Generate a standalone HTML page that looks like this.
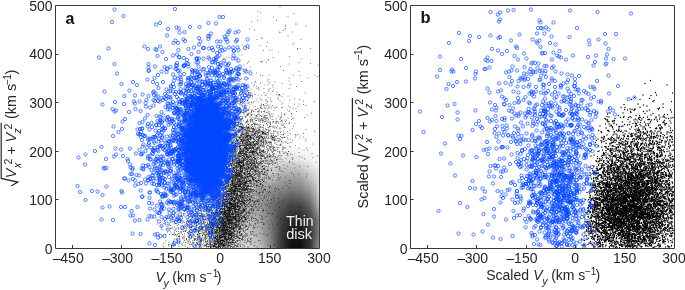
<!DOCTYPE html>
<html><head><meta charset="utf-8"><style>html,body{margin:0;padding:0;background:#fff;width:685px;height:290px;overflow:hidden}svg{display:block;will-change:transform}</style></head><body>
<svg xmlns="http://www.w3.org/2000/svg" width="685" height="290" viewBox="0 0 685 290">
<defs><linearGradient id="r1"><stop offset="0.000" stop-color="#ffffff"/><stop offset="0.082" stop-color="#ffffff"/><stop offset="0.186" stop-color="#ffffff"/><stop offset="0.289" stop-color="#fcfcfc"/><stop offset="0.392" stop-color="#fbfbfb"/><stop offset="0.495" stop-color="#fafafa"/><stop offset="0.598" stop-color="#f9f9f9"/><stop offset="0.701" stop-color="#f9f9f9"/><stop offset="0.804" stop-color="#fafafa"/><stop offset="0.907" stop-color="#fcfcfc"/><stop offset="0.969" stop-color="#fdfdfd"/><stop offset="1.000" stop-color="#ffffff"/></linearGradient><linearGradient id="r2"><stop offset="0.000" stop-color="#ffffff"/><stop offset="0.082" stop-color="#ffffff"/><stop offset="0.186" stop-color="#ffffff"/><stop offset="0.289" stop-color="#fbfbfb"/><stop offset="0.392" stop-color="#f8f8f8"/><stop offset="0.495" stop-color="#f6f6f6"/><stop offset="0.598" stop-color="#f5f5f5"/><stop offset="0.701" stop-color="#f5f5f5"/><stop offset="0.804" stop-color="#f6f6f6"/><stop offset="0.907" stop-color="#fafafa"/><stop offset="0.969" stop-color="#fcfcfc"/><stop offset="1.000" stop-color="#ffffff"/></linearGradient><linearGradient id="r3"><stop offset="0.000" stop-color="#ffffff"/><stop offset="0.082" stop-color="#ffffff"/><stop offset="0.186" stop-color="#ffffff"/><stop offset="0.289" stop-color="#f9f9f9"/><stop offset="0.392" stop-color="#f5f5f5"/><stop offset="0.495" stop-color="#f3f3f3"/><stop offset="0.598" stop-color="#f1f1f1"/><stop offset="0.701" stop-color="#f1f1f1"/><stop offset="0.804" stop-color="#f3f3f3"/><stop offset="0.907" stop-color="#f8f8f8"/><stop offset="0.969" stop-color="#fbfbfb"/><stop offset="1.000" stop-color="#ffffff"/></linearGradient><linearGradient id="r4"><stop offset="0.000" stop-color="#ffffff"/><stop offset="0.082" stop-color="#ffffff"/><stop offset="0.186" stop-color="#ffffff"/><stop offset="0.289" stop-color="#f7f7f7"/><stop offset="0.392" stop-color="#f3f3f3"/><stop offset="0.495" stop-color="#f0f0f0"/><stop offset="0.598" stop-color="#ededed"/><stop offset="0.701" stop-color="#ededed"/><stop offset="0.804" stop-color="#f0f0f0"/><stop offset="0.907" stop-color="#f6f6f6"/><stop offset="0.969" stop-color="#fafafa"/><stop offset="1.000" stop-color="#ffffff"/></linearGradient><linearGradient id="r5"><stop offset="0.000" stop-color="#ffffff"/><stop offset="0.082" stop-color="#ffffff"/><stop offset="0.186" stop-color="#ffffff"/><stop offset="0.289" stop-color="#f6f6f6"/><stop offset="0.392" stop-color="#f0f0f0"/><stop offset="0.495" stop-color="#ececec"/><stop offset="0.598" stop-color="#e9e9e9"/><stop offset="0.701" stop-color="#e9e9e9"/><stop offset="0.804" stop-color="#ececec"/><stop offset="0.907" stop-color="#f4f4f4"/><stop offset="0.969" stop-color="#f9f9f9"/><stop offset="1.000" stop-color="#ffffff"/></linearGradient><linearGradient id="r6"><stop offset="0.000" stop-color="#ffffff"/><stop offset="0.082" stop-color="#ffffff"/><stop offset="0.186" stop-color="#ffffff"/><stop offset="0.289" stop-color="#f4f4f4"/><stop offset="0.392" stop-color="#ededed"/><stop offset="0.495" stop-color="#e9e9e9"/><stop offset="0.598" stop-color="#e4e4e4"/><stop offset="0.701" stop-color="#e4e4e4"/><stop offset="0.804" stop-color="#e9e9e9"/><stop offset="0.907" stop-color="#f2f2f2"/><stop offset="0.969" stop-color="#f8f8f8"/><stop offset="1.000" stop-color="#ffffff"/></linearGradient><linearGradient id="r7"><stop offset="0.000" stop-color="#ffffff"/><stop offset="0.082" stop-color="#ffffff"/><stop offset="0.186" stop-color="#ffffff"/><stop offset="0.289" stop-color="#f2f2f2"/><stop offset="0.392" stop-color="#ebebeb"/><stop offset="0.495" stop-color="#e6e6e6"/><stop offset="0.598" stop-color="#e0e0e0"/><stop offset="0.701" stop-color="#e0e0e0"/><stop offset="0.804" stop-color="#e6e6e6"/><stop offset="0.907" stop-color="#f0f0f0"/><stop offset="0.969" stop-color="#f7f7f7"/><stop offset="1.000" stop-color="#ffffff"/></linearGradient><linearGradient id="r8"><stop offset="0.000" stop-color="#ffffff"/><stop offset="0.082" stop-color="#ffffff"/><stop offset="0.186" stop-color="#fdfdfd"/><stop offset="0.289" stop-color="#efefef"/><stop offset="0.392" stop-color="#e7e7e7"/><stop offset="0.495" stop-color="#e1e1e1"/><stop offset="0.598" stop-color="#dadada"/><stop offset="0.701" stop-color="#d9d9d9"/><stop offset="0.804" stop-color="#dedede"/><stop offset="0.907" stop-color="#ebebeb"/><stop offset="0.969" stop-color="#f3f3f3"/><stop offset="1.000" stop-color="#fcfcfc"/></linearGradient><linearGradient id="r9"><stop offset="0.000" stop-color="#ffffff"/><stop offset="0.082" stop-color="#ffffff"/><stop offset="0.186" stop-color="#fcfcfc"/><stop offset="0.289" stop-color="#ebebeb"/><stop offset="0.392" stop-color="#e2e2e2"/><stop offset="0.495" stop-color="#dddddd"/><stop offset="0.598" stop-color="#d4d4d4"/><stop offset="0.701" stop-color="#d1d1d1"/><stop offset="0.804" stop-color="#d6d6d6"/><stop offset="0.907" stop-color="#e6e6e6"/><stop offset="0.969" stop-color="#efefef"/><stop offset="1.000" stop-color="#f8f8f8"/></linearGradient><linearGradient id="r10"><stop offset="0.000" stop-color="#ffffff"/><stop offset="0.082" stop-color="#ffffff"/><stop offset="0.186" stop-color="#fafafa"/><stop offset="0.289" stop-color="#e8e8e8"/><stop offset="0.392" stop-color="#dedede"/><stop offset="0.495" stop-color="#d9d9d9"/><stop offset="0.598" stop-color="#cecece"/><stop offset="0.701" stop-color="#cacaca"/><stop offset="0.804" stop-color="#cecece"/><stop offset="0.907" stop-color="#e1e1e1"/><stop offset="0.969" stop-color="#ebebeb"/><stop offset="1.000" stop-color="#f5f5f5"/></linearGradient><linearGradient id="r11"><stop offset="0.000" stop-color="#ffffff"/><stop offset="0.082" stop-color="#ffffff"/><stop offset="0.186" stop-color="#f8f8f8"/><stop offset="0.289" stop-color="#e5e5e5"/><stop offset="0.392" stop-color="#dadada"/><stop offset="0.495" stop-color="#d5d5d5"/><stop offset="0.598" stop-color="#c8c8c8"/><stop offset="0.701" stop-color="#c2c2c2"/><stop offset="0.804" stop-color="#c6c6c6"/><stop offset="0.907" stop-color="#dddddd"/><stop offset="0.969" stop-color="#e7e7e7"/><stop offset="1.000" stop-color="#f1f1f1"/></linearGradient><linearGradient id="r12"><stop offset="0.000" stop-color="#ffffff"/><stop offset="0.082" stop-color="#ffffff"/><stop offset="0.186" stop-color="#f6f6f6"/><stop offset="0.289" stop-color="#e1e1e1"/><stop offset="0.392" stop-color="#d6d6d6"/><stop offset="0.495" stop-color="#d1d1d1"/><stop offset="0.598" stop-color="#c2c2c2"/><stop offset="0.701" stop-color="#bbbbbb"/><stop offset="0.804" stop-color="#bebebe"/><stop offset="0.907" stop-color="#d8d8d8"/><stop offset="0.969" stop-color="#e3e3e3"/><stop offset="1.000" stop-color="#eeeeee"/></linearGradient><linearGradient id="r13"><stop offset="0.000" stop-color="#ffffff"/><stop offset="0.082" stop-color="#ffffff"/><stop offset="0.186" stop-color="#f5f5f5"/><stop offset="0.289" stop-color="#dedede"/><stop offset="0.392" stop-color="#d2d2d2"/><stop offset="0.495" stop-color="#cdcdcd"/><stop offset="0.598" stop-color="#bcbcbc"/><stop offset="0.701" stop-color="#b4b4b4"/><stop offset="0.804" stop-color="#b7b7b7"/><stop offset="0.907" stop-color="#d3d3d3"/><stop offset="0.969" stop-color="#dfdfdf"/><stop offset="1.000" stop-color="#ebebeb"/></linearGradient><linearGradient id="r14"><stop offset="0.000" stop-color="#ffffff"/><stop offset="0.082" stop-color="#ffffff"/><stop offset="0.186" stop-color="#f3f3f3"/><stop offset="0.289" stop-color="#dadada"/><stop offset="0.392" stop-color="#cecece"/><stop offset="0.495" stop-color="#c9c9c9"/><stop offset="0.598" stop-color="#b6b6b6"/><stop offset="0.701" stop-color="#acacac"/><stop offset="0.804" stop-color="#afafaf"/><stop offset="0.907" stop-color="#cecece"/><stop offset="0.969" stop-color="#dbdbdb"/><stop offset="1.000" stop-color="#e7e7e7"/></linearGradient><linearGradient id="r15"><stop offset="0.000" stop-color="#ffffff"/><stop offset="0.082" stop-color="#fefefe"/><stop offset="0.186" stop-color="#f1f1f1"/><stop offset="0.289" stop-color="#d7d7d7"/><stop offset="0.392" stop-color="#c9c9c9"/><stop offset="0.495" stop-color="#c3c3c3"/><stop offset="0.598" stop-color="#afafaf"/><stop offset="0.701" stop-color="#a5a5a5"/><stop offset="0.804" stop-color="#a8a8a8"/><stop offset="0.907" stop-color="#c9c9c9"/><stop offset="0.969" stop-color="#d7d7d7"/><stop offset="1.000" stop-color="#e5e5e5"/></linearGradient><linearGradient id="r16"><stop offset="0.000" stop-color="#ffffff"/><stop offset="0.082" stop-color="#fcfcfc"/><stop offset="0.186" stop-color="#ededed"/><stop offset="0.289" stop-color="#d4d4d4"/><stop offset="0.392" stop-color="#c3c3c3"/><stop offset="0.495" stop-color="#bdbdbd"/><stop offset="0.598" stop-color="#a9a9a9"/><stop offset="0.701" stop-color="#9f9f9f"/><stop offset="0.804" stop-color="#a2a2a2"/><stop offset="0.907" stop-color="#c2c2c2"/><stop offset="0.969" stop-color="#d3d3d3"/><stop offset="1.000" stop-color="#e4e4e4"/></linearGradient><linearGradient id="r17"><stop offset="0.000" stop-color="#ffffff"/><stop offset="0.082" stop-color="#fbfbfb"/><stop offset="0.186" stop-color="#eaeaea"/><stop offset="0.289" stop-color="#d0d0d0"/><stop offset="0.392" stop-color="#bebebe"/><stop offset="0.495" stop-color="#b6b6b6"/><stop offset="0.598" stop-color="#a3a3a3"/><stop offset="0.701" stop-color="#989898"/><stop offset="0.804" stop-color="#9c9c9c"/><stop offset="0.907" stop-color="#bbbbbb"/><stop offset="0.969" stop-color="#cfcfcf"/><stop offset="1.000" stop-color="#e3e3e3"/></linearGradient><linearGradient id="r18"><stop offset="0.000" stop-color="#ffffff"/><stop offset="0.082" stop-color="#f9f9f9"/><stop offset="0.186" stop-color="#e6e6e6"/><stop offset="0.289" stop-color="#cdcdcd"/><stop offset="0.392" stop-color="#b8b8b8"/><stop offset="0.495" stop-color="#afafaf"/><stop offset="0.598" stop-color="#9d9d9d"/><stop offset="0.701" stop-color="#929292"/><stop offset="0.804" stop-color="#979797"/><stop offset="0.907" stop-color="#b4b4b4"/><stop offset="0.969" stop-color="#cacaca"/><stop offset="1.000" stop-color="#e2e2e2"/></linearGradient><linearGradient id="r19"><stop offset="0.000" stop-color="#ffffff"/><stop offset="0.082" stop-color="#f7f7f7"/><stop offset="0.186" stop-color="#e3e3e3"/><stop offset="0.289" stop-color="#c9c9c9"/><stop offset="0.392" stop-color="#b2b2b2"/><stop offset="0.495" stop-color="#a8a8a8"/><stop offset="0.598" stop-color="#979797"/><stop offset="0.701" stop-color="#8b8b8b"/><stop offset="0.804" stop-color="#919191"/><stop offset="0.907" stop-color="#adadad"/><stop offset="0.969" stop-color="#c6c6c6"/><stop offset="1.000" stop-color="#e1e1e1"/></linearGradient><linearGradient id="r20"><stop offset="0.000" stop-color="#ffffff"/><stop offset="0.082" stop-color="#f6f6f6"/><stop offset="0.186" stop-color="#e0e0e0"/><stop offset="0.289" stop-color="#c6c6c6"/><stop offset="0.392" stop-color="#acacac"/><stop offset="0.495" stop-color="#a2a2a2"/><stop offset="0.598" stop-color="#919191"/><stop offset="0.701" stop-color="#858585"/><stop offset="0.804" stop-color="#8b8b8b"/><stop offset="0.907" stop-color="#a7a7a7"/><stop offset="0.969" stop-color="#c2c2c2"/><stop offset="1.000" stop-color="#e0e0e0"/></linearGradient><linearGradient id="r21"><stop offset="0.000" stop-color="#ffffff"/><stop offset="0.082" stop-color="#f4f4f4"/><stop offset="0.186" stop-color="#dcdcdc"/><stop offset="0.289" stop-color="#c3c3c3"/><stop offset="0.392" stop-color="#a6a6a6"/><stop offset="0.495" stop-color="#9b9b9b"/><stop offset="0.598" stop-color="#8b8b8b"/><stop offset="0.701" stop-color="#7e7e7e"/><stop offset="0.804" stop-color="#858585"/><stop offset="0.907" stop-color="#a0a0a0"/><stop offset="0.969" stop-color="#bebebe"/><stop offset="1.000" stop-color="#dfdfdf"/></linearGradient><linearGradient id="r22"><stop offset="0.000" stop-color="#ffffff"/><stop offset="0.082" stop-color="#f2f2f2"/><stop offset="0.186" stop-color="#d9d9d9"/><stop offset="0.289" stop-color="#bfbfbf"/><stop offset="0.392" stop-color="#a1a1a1"/><stop offset="0.495" stop-color="#949494"/><stop offset="0.598" stop-color="#858585"/><stop offset="0.701" stop-color="#787878"/><stop offset="0.804" stop-color="#808080"/><stop offset="0.907" stop-color="#999999"/><stop offset="0.969" stop-color="#bababa"/><stop offset="1.000" stop-color="#dedede"/></linearGradient><linearGradient id="r23"><stop offset="0.000" stop-color="#ffffff"/><stop offset="0.082" stop-color="#f1f1f1"/><stop offset="0.186" stop-color="#d6d6d6"/><stop offset="0.289" stop-color="#bebebe"/><stop offset="0.392" stop-color="#a0a0a0"/><stop offset="0.495" stop-color="#909090"/><stop offset="0.598" stop-color="#7f7f7f"/><stop offset="0.701" stop-color="#717171"/><stop offset="0.804" stop-color="#787878"/><stop offset="0.907" stop-color="#929292"/><stop offset="0.969" stop-color="#b6b6b6"/><stop offset="1.000" stop-color="#d9d9d9"/></linearGradient><linearGradient id="r24"><stop offset="0.000" stop-color="#ffffff"/><stop offset="0.082" stop-color="#efefef"/><stop offset="0.186" stop-color="#d4d4d4"/><stop offset="0.289" stop-color="#bcbcbc"/><stop offset="0.392" stop-color="#9f9f9f"/><stop offset="0.495" stop-color="#8c8c8c"/><stop offset="0.598" stop-color="#797979"/><stop offset="0.701" stop-color="#6a6a6a"/><stop offset="0.804" stop-color="#707070"/><stop offset="0.907" stop-color="#8b8b8b"/><stop offset="0.969" stop-color="#b1b1b1"/><stop offset="1.000" stop-color="#d4d4d4"/></linearGradient><linearGradient id="r25"><stop offset="0.000" stop-color="#ffffff"/><stop offset="0.082" stop-color="#ededed"/><stop offset="0.186" stop-color="#d2d2d2"/><stop offset="0.289" stop-color="#bababa"/><stop offset="0.392" stop-color="#9e9e9e"/><stop offset="0.495" stop-color="#898989"/><stop offset="0.598" stop-color="#737373"/><stop offset="0.701" stop-color="#636363"/><stop offset="0.804" stop-color="#686868"/><stop offset="0.907" stop-color="#858585"/><stop offset="0.969" stop-color="#adadad"/><stop offset="1.000" stop-color="#d0d0d0"/></linearGradient><linearGradient id="r26"><stop offset="0.000" stop-color="#ffffff"/><stop offset="0.082" stop-color="#ebebeb"/><stop offset="0.186" stop-color="#cfcfcf"/><stop offset="0.289" stop-color="#b8b8b8"/><stop offset="0.392" stop-color="#9d9d9d"/><stop offset="0.495" stop-color="#858585"/><stop offset="0.598" stop-color="#6d6d6d"/><stop offset="0.701" stop-color="#5d5d5d"/><stop offset="0.804" stop-color="#606060"/><stop offset="0.907" stop-color="#7e7e7e"/><stop offset="0.969" stop-color="#a8a8a8"/><stop offset="1.000" stop-color="#cbcbcb"/></linearGradient><linearGradient id="r27"><stop offset="0.000" stop-color="#ffffff"/><stop offset="0.082" stop-color="#eaeaea"/><stop offset="0.186" stop-color="#cdcdcd"/><stop offset="0.289" stop-color="#b7b7b7"/><stop offset="0.392" stop-color="#9c9c9c"/><stop offset="0.495" stop-color="#818181"/><stop offset="0.598" stop-color="#686868"/><stop offset="0.701" stop-color="#565656"/><stop offset="0.804" stop-color="#585858"/><stop offset="0.907" stop-color="#777777"/><stop offset="0.969" stop-color="#a4a4a4"/><stop offset="1.000" stop-color="#c6c6c6"/></linearGradient><linearGradient id="r28"><stop offset="0.000" stop-color="#ffffff"/><stop offset="0.082" stop-color="#e8e8e8"/><stop offset="0.186" stop-color="#cacaca"/><stop offset="0.289" stop-color="#b5b5b5"/><stop offset="0.392" stop-color="#9b9b9b"/><stop offset="0.495" stop-color="#7d7d7d"/><stop offset="0.598" stop-color="#626262"/><stop offset="0.701" stop-color="#4f4f4f"/><stop offset="0.804" stop-color="#515151"/><stop offset="0.907" stop-color="#707070"/><stop offset="0.969" stop-color="#a0a0a0"/><stop offset="1.000" stop-color="#c1c1c1"/></linearGradient><linearGradient id="r29"><stop offset="0.000" stop-color="#ffffff"/><stop offset="0.082" stop-color="#e6e6e6"/><stop offset="0.186" stop-color="#c8c8c8"/><stop offset="0.289" stop-color="#b3b3b3"/><stop offset="0.392" stop-color="#9a9a9a"/><stop offset="0.495" stop-color="#7a7a7a"/><stop offset="0.598" stop-color="#5c5c5c"/><stop offset="0.701" stop-color="#484848"/><stop offset="0.804" stop-color="#494949"/><stop offset="0.907" stop-color="#696969"/><stop offset="0.969" stop-color="#9b9b9b"/><stop offset="1.000" stop-color="#bdbdbd"/></linearGradient><linearGradient id="r30"><stop offset="0.000" stop-color="#fefefe"/><stop offset="0.082" stop-color="#e4e4e4"/><stop offset="0.186" stop-color="#c7c7c7"/><stop offset="0.289" stop-color="#b3b3b3"/><stop offset="0.392" stop-color="#9a9a9a"/><stop offset="0.495" stop-color="#787878"/><stop offset="0.598" stop-color="#585858"/><stop offset="0.701" stop-color="#434343"/><stop offset="0.804" stop-color="#434343"/><stop offset="0.907" stop-color="#636363"/><stop offset="0.969" stop-color="#969696"/><stop offset="1.000" stop-color="#b7b7b7"/></linearGradient><linearGradient id="r31"><stop offset="0.000" stop-color="#fcfcfc"/><stop offset="0.082" stop-color="#e1e1e1"/><stop offset="0.186" stop-color="#c6c6c6"/><stop offset="0.289" stop-color="#b4b4b4"/><stop offset="0.392" stop-color="#9c9c9c"/><stop offset="0.495" stop-color="#797979"/><stop offset="0.598" stop-color="#565656"/><stop offset="0.701" stop-color="#3f3f3f"/><stop offset="0.804" stop-color="#3e3e3e"/><stop offset="0.907" stop-color="#5e5e5e"/><stop offset="0.969" stop-color="#8f8f8f"/><stop offset="1.000" stop-color="#b0b0b0"/></linearGradient><linearGradient id="r32"><stop offset="0.000" stop-color="#fbfbfb"/><stop offset="0.082" stop-color="#dfdfdf"/><stop offset="0.186" stop-color="#c6c6c6"/><stop offset="0.289" stop-color="#b5b5b5"/><stop offset="0.392" stop-color="#9d9d9d"/><stop offset="0.495" stop-color="#7a7a7a"/><stop offset="0.598" stop-color="#535353"/><stop offset="0.701" stop-color="#3c3c3c"/><stop offset="0.804" stop-color="#3a3a3a"/><stop offset="0.907" stop-color="#595959"/><stop offset="0.969" stop-color="#888888"/><stop offset="1.000" stop-color="#a9a9a9"/></linearGradient><linearGradient id="r33"><stop offset="0.000" stop-color="#f9f9f9"/><stop offset="0.082" stop-color="#dcdcdc"/><stop offset="0.186" stop-color="#c6c6c6"/><stop offset="0.289" stop-color="#b6b6b6"/><stop offset="0.392" stop-color="#9f9f9f"/><stop offset="0.495" stop-color="#7b7b7b"/><stop offset="0.598" stop-color="#515151"/><stop offset="0.701" stop-color="#383838"/><stop offset="0.804" stop-color="#353535"/><stop offset="0.907" stop-color="#545454"/><stop offset="0.969" stop-color="#818181"/><stop offset="1.000" stop-color="#a2a2a2"/></linearGradient><linearGradient id="r34"><stop offset="0.000" stop-color="#f7f7f7"/><stop offset="0.082" stop-color="#d9d9d9"/><stop offset="0.186" stop-color="#c5c5c5"/><stop offset="0.289" stop-color="#b7b7b7"/><stop offset="0.392" stop-color="#a1a1a1"/><stop offset="0.495" stop-color="#7c7c7c"/><stop offset="0.598" stop-color="#4f4f4f"/><stop offset="0.701" stop-color="#343434"/><stop offset="0.804" stop-color="#313131"/><stop offset="0.907" stop-color="#4f4f4f"/><stop offset="0.969" stop-color="#7a7a7a"/><stop offset="1.000" stop-color="#9c9c9c"/></linearGradient><linearGradient id="r35"><stop offset="0.000" stop-color="#f6f6f6"/><stop offset="0.082" stop-color="#d7d7d7"/><stop offset="0.186" stop-color="#c5c5c5"/><stop offset="0.289" stop-color="#b8b8b8"/><stop offset="0.392" stop-color="#a2a2a2"/><stop offset="0.495" stop-color="#7d7d7d"/><stop offset="0.598" stop-color="#4c4c4c"/><stop offset="0.701" stop-color="#303030"/><stop offset="0.804" stop-color="#2d2d2d"/><stop offset="0.907" stop-color="#4a4a4a"/><stop offset="0.969" stop-color="#747474"/><stop offset="1.000" stop-color="#959595"/></linearGradient><linearGradient id="r36"><stop offset="0.000" stop-color="#f4f4f4"/><stop offset="0.082" stop-color="#d4d4d4"/><stop offset="0.186" stop-color="#c5c5c5"/><stop offset="0.289" stop-color="#b9b9b9"/><stop offset="0.392" stop-color="#a4a4a4"/><stop offset="0.495" stop-color="#7e7e7e"/><stop offset="0.598" stop-color="#4a4a4a"/><stop offset="0.701" stop-color="#2d2d2d"/><stop offset="0.804" stop-color="#282828"/><stop offset="0.907" stop-color="#454545"/><stop offset="0.969" stop-color="#6d6d6d"/><stop offset="1.000" stop-color="#8e8e8e"/></linearGradient><linearGradient id="r37"><stop offset="0.000" stop-color="#f2f2f2"/><stop offset="0.082" stop-color="#d1d1d1"/><stop offset="0.186" stop-color="#c4c4c4"/><stop offset="0.289" stop-color="#bababa"/><stop offset="0.392" stop-color="#a6a6a6"/><stop offset="0.495" stop-color="#808080"/><stop offset="0.598" stop-color="#474747"/><stop offset="0.701" stop-color="#292929"/><stop offset="0.804" stop-color="#242424"/><stop offset="0.907" stop-color="#404040"/><stop offset="0.969" stop-color="#666666"/><stop offset="1.000" stop-color="#878787"/></linearGradient><linearGradient id="r38"><stop offset="0.000" stop-color="#f1f1f1"/><stop offset="0.082" stop-color="#d2d2d2"/><stop offset="0.186" stop-color="#c6c6c6"/><stop offset="0.289" stop-color="#bcbcbc"/><stop offset="0.392" stop-color="#a6a6a6"/><stop offset="0.495" stop-color="#808080"/><stop offset="0.598" stop-color="#464646"/><stop offset="0.701" stop-color="#272727"/><stop offset="0.804" stop-color="#222222"/><stop offset="0.907" stop-color="#3e3e3e"/><stop offset="0.969" stop-color="#666666"/><stop offset="1.000" stop-color="#868686"/></linearGradient><linearGradient id="r39"><stop offset="0.000" stop-color="#f0f0f0"/><stop offset="0.082" stop-color="#d3d3d3"/><stop offset="0.186" stop-color="#c8c8c8"/><stop offset="0.289" stop-color="#bebebe"/><stop offset="0.392" stop-color="#a7a7a7"/><stop offset="0.495" stop-color="#808080"/><stop offset="0.598" stop-color="#454545"/><stop offset="0.701" stop-color="#252525"/><stop offset="0.804" stop-color="#202020"/><stop offset="0.907" stop-color="#3c3c3c"/><stop offset="0.969" stop-color="#666666"/><stop offset="1.000" stop-color="#858585"/></linearGradient><linearGradient id="r40"><stop offset="0.000" stop-color="#efefef"/><stop offset="0.082" stop-color="#d4d4d4"/><stop offset="0.186" stop-color="#c9c9c9"/><stop offset="0.289" stop-color="#bfbfbf"/><stop offset="0.392" stop-color="#a8a8a8"/><stop offset="0.495" stop-color="#808080"/><stop offset="0.598" stop-color="#444444"/><stop offset="0.701" stop-color="#232323"/><stop offset="0.804" stop-color="#1e1e1e"/><stop offset="0.907" stop-color="#3b3b3b"/><stop offset="0.969" stop-color="#666666"/><stop offset="1.000" stop-color="#848484"/></linearGradient><linearGradient id="r41"><stop offset="0.000" stop-color="#eeeeee"/><stop offset="0.082" stop-color="#d5d5d5"/><stop offset="0.186" stop-color="#cbcbcb"/><stop offset="0.289" stop-color="#c1c1c1"/><stop offset="0.392" stop-color="#a8a8a8"/><stop offset="0.495" stop-color="#808080"/><stop offset="0.598" stop-color="#434343"/><stop offset="0.701" stop-color="#212121"/><stop offset="0.804" stop-color="#1c1c1c"/><stop offset="0.907" stop-color="#393939"/><stop offset="0.969" stop-color="#666666"/><stop offset="1.000" stop-color="#838383"/></linearGradient><linearGradient id="r42"><stop offset="0.000" stop-color="#ededed"/><stop offset="0.082" stop-color="#d6d6d6"/><stop offset="0.186" stop-color="#cdcdcd"/><stop offset="0.289" stop-color="#c3c3c3"/><stop offset="0.392" stop-color="#a9a9a9"/><stop offset="0.495" stop-color="#808080"/><stop offset="0.598" stop-color="#424242"/><stop offset="0.701" stop-color="#1f1f1f"/><stop offset="0.804" stop-color="#1a1a1a"/><stop offset="0.907" stop-color="#373737"/><stop offset="0.969" stop-color="#666666"/><stop offset="1.000" stop-color="#828282"/></linearGradient><linearGradient id="r43"><stop offset="0.000" stop-color="#ececec"/><stop offset="0.082" stop-color="#d7d7d7"/><stop offset="0.186" stop-color="#cfcfcf"/><stop offset="0.289" stop-color="#c4c4c4"/><stop offset="0.392" stop-color="#aaaaaa"/><stop offset="0.495" stop-color="#808080"/><stop offset="0.598" stop-color="#414141"/><stop offset="0.701" stop-color="#1d1d1d"/><stop offset="0.804" stop-color="#171717"/><stop offset="0.907" stop-color="#363636"/><stop offset="0.969" stop-color="#666666"/><stop offset="1.000" stop-color="#818181"/></linearGradient><linearGradient id="r44"><stop offset="0.000" stop-color="#ebebeb"/><stop offset="0.082" stop-color="#d8d8d8"/><stop offset="0.186" stop-color="#d0d0d0"/><stop offset="0.289" stop-color="#c6c6c6"/><stop offset="0.392" stop-color="#ababab"/><stop offset="0.495" stop-color="#808080"/><stop offset="0.598" stop-color="#404040"/><stop offset="0.701" stop-color="#1b1b1b"/><stop offset="0.804" stop-color="#151515"/><stop offset="0.907" stop-color="#343434"/><stop offset="0.969" stop-color="#666666"/><stop offset="1.000" stop-color="#808080"/></linearGradient><linearGradient id="r45"><stop offset="0.000" stop-color="#ebebeb"/><stop offset="0.082" stop-color="#d9d9d9"/><stop offset="0.186" stop-color="#d2d2d2"/><stop offset="0.289" stop-color="#c8c8c8"/><stop offset="0.392" stop-color="#acacac"/><stop offset="0.495" stop-color="#808080"/><stop offset="0.598" stop-color="#404040"/><stop offset="0.701" stop-color="#191919"/><stop offset="0.804" stop-color="#141414"/><stop offset="0.907" stop-color="#333333"/><stop offset="0.969" stop-color="#676767"/><stop offset="1.000" stop-color="#808080"/></linearGradient><linearGradient id="r46"><stop offset="0.000" stop-color="#ebebeb"/><stop offset="0.082" stop-color="#dbdbdb"/><stop offset="0.186" stop-color="#d3d3d3"/><stop offset="0.289" stop-color="#cacaca"/><stop offset="0.392" stop-color="#b0b0b0"/><stop offset="0.495" stop-color="#828282"/><stop offset="0.598" stop-color="#404040"/><stop offset="0.701" stop-color="#181818"/><stop offset="0.804" stop-color="#121212"/><stop offset="0.907" stop-color="#333333"/><stop offset="0.969" stop-color="#696969"/><stop offset="1.000" stop-color="#828282"/></linearGradient><linearGradient id="r47"><stop offset="0.000" stop-color="#ebebeb"/><stop offset="0.082" stop-color="#dcdcdc"/><stop offset="0.186" stop-color="#d4d4d4"/><stop offset="0.289" stop-color="#cdcdcd"/><stop offset="0.392" stop-color="#b3b3b3"/><stop offset="0.495" stop-color="#848484"/><stop offset="0.598" stop-color="#404040"/><stop offset="0.701" stop-color="#171717"/><stop offset="0.804" stop-color="#101010"/><stop offset="0.907" stop-color="#333333"/><stop offset="0.969" stop-color="#6b6b6b"/><stop offset="1.000" stop-color="#848484"/></linearGradient><linearGradient id="r48"><stop offset="0.000" stop-color="#ebebeb"/><stop offset="0.082" stop-color="#dddddd"/><stop offset="0.186" stop-color="#d5d5d5"/><stop offset="0.289" stop-color="#cfcfcf"/><stop offset="0.392" stop-color="#b6b6b6"/><stop offset="0.495" stop-color="#868686"/><stop offset="0.598" stop-color="#404040"/><stop offset="0.701" stop-color="#151515"/><stop offset="0.804" stop-color="#0f0f0f"/><stop offset="0.907" stop-color="#333333"/><stop offset="0.969" stop-color="#6d6d6d"/><stop offset="1.000" stop-color="#868686"/></linearGradient><linearGradient id="r49"><stop offset="0.000" stop-color="#ebebeb"/><stop offset="0.082" stop-color="#dedede"/><stop offset="0.186" stop-color="#d6d6d6"/><stop offset="0.289" stop-color="#d1d1d1"/><stop offset="0.392" stop-color="#b9b9b9"/><stop offset="0.495" stop-color="#888888"/><stop offset="0.598" stop-color="#404040"/><stop offset="0.701" stop-color="#141414"/><stop offset="0.804" stop-color="#0d0d0d"/><stop offset="0.907" stop-color="#333333"/><stop offset="0.969" stop-color="#6f6f6f"/><stop offset="1.000" stop-color="#888888"/></linearGradient><linearGradient id="r50"><stop offset="0.000" stop-color="#ebebeb"/><stop offset="0.082" stop-color="#dfdfdf"/><stop offset="0.186" stop-color="#d8d8d8"/><stop offset="0.289" stop-color="#d4d4d4"/><stop offset="0.392" stop-color="#bcbcbc"/><stop offset="0.495" stop-color="#8a8a8a"/><stop offset="0.598" stop-color="#404040"/><stop offset="0.701" stop-color="#131313"/><stop offset="0.804" stop-color="#0c0c0c"/><stop offset="0.907" stop-color="#333333"/><stop offset="0.969" stop-color="#717171"/><stop offset="1.000" stop-color="#8a8a8a"/></linearGradient><linearGradient id="r51"><stop offset="0.000" stop-color="#ebebeb"/><stop offset="0.082" stop-color="#e0e0e0"/><stop offset="0.186" stop-color="#d9d9d9"/><stop offset="0.289" stop-color="#d6d6d6"/><stop offset="0.392" stop-color="#bfbfbf"/><stop offset="0.495" stop-color="#8c8c8c"/><stop offset="0.598" stop-color="#404040"/><stop offset="0.701" stop-color="#121212"/><stop offset="0.804" stop-color="#0a0a0a"/><stop offset="0.907" stop-color="#333333"/><stop offset="0.969" stop-color="#737373"/><stop offset="1.000" stop-color="#8c8c8c"/></linearGradient><marker id="mc" markerUnits="userSpaceOnUse" markerWidth="1" markerHeight="1" overflow="visible"><circle r="3.3" fill="none" stroke="#0046ff" stroke-width="1.3"/></marker><marker id="md" markerUnits="userSpaceOnUse" markerWidth="1" markerHeight="1" overflow="visible"><circle r="0.9" fill="#000"/></marker><marker id="me" markerUnits="userSpaceOnUse" markerWidth="1" markerHeight="1" overflow="visible"><circle r="1.4" fill="#000" shape-rendering="auto"/></marker><filter id="bl" x="-50%" y="-50%" width="200%" height="200%"><feGaussianBlur stdDeviation="5"/></filter><clipPath id="cc"><path d="M0 0L243 0L243 90L232 135L215 217L208 248L0 248Z"/></clipPath></defs><rect x="222" y="147" width="97" height="2" fill="url(#r1)"/><rect x="222" y="149" width="97" height="2" fill="url(#r2)"/><rect x="222" y="151" width="97" height="2" fill="url(#r3)"/><rect x="222" y="153" width="97" height="2" fill="url(#r4)"/><rect x="222" y="155" width="97" height="2" fill="url(#r5)"/><rect x="222" y="157" width="97" height="2" fill="url(#r6)"/><rect x="222" y="159" width="97" height="2" fill="url(#r7)"/><rect x="222" y="161" width="97" height="2" fill="url(#r8)"/><rect x="222" y="163" width="97" height="2" fill="url(#r9)"/><rect x="222" y="165" width="97" height="2" fill="url(#r10)"/><rect x="222" y="167" width="97" height="2" fill="url(#r11)"/><rect x="222" y="169" width="97" height="2" fill="url(#r12)"/><rect x="222" y="171" width="97" height="2" fill="url(#r13)"/><rect x="222" y="173" width="97" height="2" fill="url(#r14)"/><rect x="222" y="175" width="97" height="2" fill="url(#r15)"/><rect x="222" y="177" width="97" height="2" fill="url(#r16)"/><rect x="222" y="179" width="97" height="2" fill="url(#r17)"/><rect x="222" y="181" width="97" height="2" fill="url(#r18)"/><rect x="222" y="183" width="97" height="2" fill="url(#r19)"/><rect x="222" y="185" width="97" height="2" fill="url(#r20)"/><rect x="222" y="187" width="97" height="2" fill="url(#r21)"/><rect x="222" y="189" width="97" height="2" fill="url(#r22)"/><rect x="222" y="191" width="97" height="2" fill="url(#r23)"/><rect x="222" y="193" width="97" height="2" fill="url(#r24)"/><rect x="222" y="195" width="97" height="2" fill="url(#r25)"/><rect x="222" y="197" width="97" height="2" fill="url(#r26)"/><rect x="222" y="199" width="97" height="2" fill="url(#r27)"/><rect x="222" y="201" width="97" height="2" fill="url(#r28)"/><rect x="222" y="203" width="97" height="2" fill="url(#r29)"/><rect x="222" y="205" width="97" height="2" fill="url(#r30)"/><rect x="222" y="207" width="97" height="2" fill="url(#r31)"/><rect x="222" y="209" width="97" height="2" fill="url(#r32)"/><rect x="222" y="211" width="97" height="2" fill="url(#r33)"/><rect x="222" y="213" width="97" height="2" fill="url(#r34)"/><rect x="222" y="215" width="97" height="2" fill="url(#r35)"/><rect x="222" y="217" width="97" height="2" fill="url(#r36)"/><rect x="222" y="219" width="97" height="2" fill="url(#r37)"/><rect x="222" y="221" width="97" height="2" fill="url(#r38)"/><rect x="222" y="223" width="97" height="2" fill="url(#r39)"/><rect x="222" y="225" width="97" height="2" fill="url(#r40)"/><rect x="222" y="227" width="97" height="2" fill="url(#r41)"/><rect x="222" y="229" width="97" height="2" fill="url(#r42)"/><rect x="222" y="231" width="97" height="2" fill="url(#r43)"/><rect x="222" y="233" width="97" height="2" fill="url(#r44)"/><rect x="222" y="235" width="97" height="2" fill="url(#r45)"/><rect x="222" y="237" width="97" height="2" fill="url(#r46)"/><rect x="222" y="239" width="97" height="2" fill="url(#r47)"/><rect x="222" y="241" width="97" height="2" fill="url(#r48)"/><rect x="222" y="243" width="97" height="2" fill="url(#r49)"/><rect x="222" y="245" width="97" height="2" fill="url(#r50)"/><rect x="222" y="247" width="97" height="2" fill="url(#r51)"/><g><g transform="scale(0.5)"><path d="M506 358 450 437 456 421 478 363 453 435 536 255 489 434 463 332 479 330 557 397 438 409 471 431 450 463 470 414 412 416 491 437 432 472 479 471 441 444 491 385 564 292 444 464 475 394 465 381 455 437 486 322 460 439 516 306 469 449 445 429 422 391 483 411 470 415 500 379 471 438 471 474 494 359 537 329 520 346 489 394 446 428 500 372 489 357 478 452 511 335 456 437 492 330 458 372 585 326 416 453 492 351 452 424 576 307 484 332 488 431 399 393 473 418 459 445 437 455 466 452 448 452 443 453 442 436 492 429 449 450 446 480 488 379 453 385 475 379 496 335 515 328 438 482 427 409 455 460 450 327 499 353 462 447 439 410 463 445 442 429 444 459 501 361 467 429 560 318 458 393 448 438 452 449 500 398 440 455 431 476 427 389 410 442 560 290 504 306 475 367 469 387 516 254 465 379 538 292 471 377 492 365 469 433 445 401 481 372 463 398 456 475 419 360 429 397 453 391 462 422 481 356 492 371 505 314 572 317 478 405 473 334 506 302 581 294 482 356 501 340 525 347 449 454 462 471 456 462 511 344 544 389 459 400 485 424 472 440 473 438 488 380 435 431 471 400 448 450 473 419 471 376 579 326 459 469 524 333 471 436 469 472 484 360 464 460 419 431 435 426 475 464 472 449 459 355 483 436 436 488 477 437 465 360 421 419 519 304 459 481 469 383 441 456 458 413 506 395 499 388 447 424 466 429 470 446 494 386 445 374 478 390 529 379 492 470 444 356 481 453 504 342 485 395 456 366 483 310 478 416 470 379 454 412 519 301 489 349 439 390 489 422 490 407 420 445 424 408 526 276 493 357 439 421 463 444 499 325 454 451 456 415 437 413 458 467 473 432 456 410 503 328 461 435 419 482 480 428 471 422 422 444 501 338 467 447 425 408 431 440 441 454 467 417 477 429 517 354 466 412 471 440 544 430 439 427 482 356 492 430 486 420 449 432 476 487 457 319 499 356 485 416 429 453 490 329 471 368 416 431 493 324 432 384 460 422 460 381 455 435 466 399 455 442 503 395 462 448 460 422 485 433 500 393 506 321 472 444 427 452 459 417 462 426 456 441 436 448 459 467 500 377 439 439 444 423 494 401 497 282 442 393 463 472 474 433 485 378 471 380 479 413 488 358 476 430 399 426 457 390 464 438 443 388 415 442 480 416 484 385 451 373 440 397 525 310 475 472 493 400 472 397 427 457 488 434 457 387 434 361 510 313 445 423 485 426 458 349 462 435 500 400 456 423 535 297 476 438 509 293 463 362 408 415 445 414 478 373 492 401 477 443 477 377 481 374 497 332 464 464 484 367 453 447 491 364 428 455 542 336 492 435 430 389 488 363 400 473 445 442 485 426 437 479 494 345 484 387 480 391 486 451 439 477 529 395 489 429 479 380 462 354 459 389 431 459 478 447 421 390 467 394 512 363 473 398 503 350 500 331 517 400 460 418 458 421 520 391 452 457 495 373 471 423 536 339 488 345 493 441 446 441 539 308 525 369 471 402 479 401 443 461 506 306 507 337 551 326 443 427 449 479 509 302 448 369 434 450 458 477 482 356 467 414 452 459 423 455 453 410 626 315 449 442 462 478 459 416 461 341 467 374 463 476 486 433 466 412 515 371 485 366 446 454 506 338 577 303 492 401 449 355 460 413 529 339 463 475 435 455 467 386 489 294 440 443 451 374 465 363 482 410 491 334 462 414 423 346 464 324 478 476 446 385 468 432 485 379 456 455 477 370 458 379 516 282 465 481 436 447 456 421 509 325 517 310 508 355 443 436 451 384 434 405 477 351 468 474 440 388 483 468 482 423 475 413 476 413 443 426 474 349 454 479 420 449 471 365 460 361 477 321 402 407 517 409 470 420 436 445 441 328 481 391 485 355 599 333 444 424 472 454 441 416 525 334 468 445 482 439 448 384 506 387 439 396 420 403 477 432 494 344 448 437 464 391 436 429 426 425 442 437 485 336 459 429 473 396 474 368 474 405 494 378 470 372 468 388 434 417 439 381 502 326 452 393 566 343 473 481 430 392 475 368 418 390 498 346 525 320 433 415 446 406 462 422 489 405 450 455 449 412 472 416 488 331 438 456 469 383 461 398 486 298 443 425 452 325 453 447 429 428 482 352 498 384 471 424 483 327 439 383 466 386 459 470 481 370 438 454 444 460 420 450 462 398 484 395 458 428 478 453 471 406 456 489 565 299 471 410 450 491 439 416 467 382 468 414 475 424 467 380 501 379 480 357 450 434 463 441 468 489 474 355 467 387 509 343 423 383 503 364 480 466 524 434 472 434 480 396 518 392 474 410 450 451 436 425 476 340 462 415 417 480 499 446 466 341 513 380 500 348 464 418 418 477 434 438 454 415 480 402 453 426 499 361 440 328 500 384 451 472 494 414 439 406 485 420 436 330 494 377 499 384 402 427 498 309 531 373 463 376 437 438 481 413 485 372 477 363 460 399 528 331 482 424 536 313 474 301 502 373 534 316 456 431 451 329 480 397 488 376 436 470 455 440 484 306 490 381 489 331 495 399 450 466 510 288 440 422 474 443 489 411 463 391 450 415 466 370 609 318 529 304 533 333 479 424 514 346 490 388 506 309 491 372 480 364 550 300 527 384 497 363 458 351 526 308 479 425 513 338 423 456 535 470 482 369 476 401 431 344 465 453 476 449 455 394 448 398 454 462 516 358 477 406 474 380 445 451 434 468 509 279 421 444 447 426 475 326 462 375 570 304 420 436 441 452 450 431 491 422 468 362 485 394 458 436 508 359 438 361 511 356 509 369 514 370 515 307 437 447 492 380 436 386 424 455 469 382 445 446 464 384 460 440 469 371 501 341 515 333 460 468 558 311 446 419 483 304 506 325 455 461 414 346 422 406 477 347 430 437 514 375 518 338 496 357 438 455 478 402 436 462 452 311 478 372 491 453 549 378 447 390 470 391 525 310 456 438 474 303 478 442 469 409 542 375 467 437 495 342 480 363 382 368 470 359 525 365 554 324 449 468 479 345 441 438 545 279 448 438 461 445 462 420 453 450 468 464 511 333 489 388 483 310 481 391 498 315 471 415 474 368 496 386 527 324 429 437 492 450 461 421 439 456 471 439 473 339 447 431 477 445 439 422 558 295 453 411 426 415 432 281 490 340 481 372 462 411 444 442 446 466 456 427 470 403 437 451 462 379 452 353 458 471 463 459 489 406 452 393 516 387 478 422 490 409 514 326 449 469 469 436 470 373 434 417 541 313 488 449 472 431 463 381 421 356 501 347 459 332 472 443 448 452 480 344 502 420 477 426 479 464 442 417 461 429 465 396 473 443 412 392 505 356 479 408 476 402 428 347 471 374 448 417 486 422 554 361 449 405 456 362 377 351 438 464 480 427 439 385 517 403 460 406 443 423 474 435 454 438 456 415 522 347 501 342 451 422 467 467 449 429 450 477 471 409 488 462 438 417 492 396 492 469 446 444 525 359 441 429 455 359 436 409 490 382 473 423 433 452 491 402 520 368 483 479 464 428 455 424 524 360 471 463 455 364 401 441 471 348 442 416 463 409 441 361 457 485 469 385 487 396 532 320 477 464 466 471 491 287 467 435 574 307 477 369 486 479 481 368 460 370 462 470 471 362 469 463 424 422 443 412 462 390 483 420 477 398 470 382 516 319 466 403 458 458 515 299 426 379 508 397 525 342 449 454 463 412 454 459 410 423 516 386 449 425 576 271 449 417 517 360 479 393 437 385 468 403 489 443 508 340 453 459 490 444 436 388 470 434 439 399 457 472 446 435 508 371 421 366 454 384 440 466 403 426 480 361 527 300 495 391 485 373 472 398 439 399 401 411 432 454 432 432 452 410 508 322 461 370 518 358 523 311 489 361 418 406 483 427 550 335 465 423 497 373 442 436 464 408 466 360 452 436 472 376 466 378 477 474 445 378 420 409 479 347 508 408 490 431 482 374 471 382 512 426 460 377 481 415 445 404 446 430 459 431 452 446 598 296 488 407 467 362 424 381 476 402 481 346 477 383 580 362 560 258 468 365 509 351 491 416 455 372 437 408 446 358 495 379 462 414 418 492 466 446 453 414 464 428 473 409 482 439 480 306 519 310 507 347 414 413 489 407 474 429 429 401 477 370 476 381 455 421 523 283 517 341 535 326 459 426 556 319 441 443 474 389 437 466 490 369 540 310 459 390 489 381 463 456 461 434 469 400 452 467 460 433 449 433 477 411 553 335 460 418 464 398 466 358 525 344 541 319 466 444 471 438 442 403 437 400 497 413 503 417 504 304 487 375 480 351 441 444 457 466 477 441 502 435 537 326 524 373 457 476 469 336 469 411 534 470 471 417 545 360 462 407 489 380 451 418 454 436 487 422 504 403 466 423 471 380 481 452 471 396 482 308 478 404 459 415 508 448 468 401 481 342 462 377 451 365 522 313 411 364 490 415 519 344 494 384 462 471 462 442 449 387 453 436 540 372 429 482 522 338 443 370 481 390 472 412 462 386 433 461 541 358 465 407 449 460 470 373 475 389 451 379 530 323 441 425 475 392 522 314 501 397 465 485 483 381 461 425 463 458 470 433 465 354 481 403 479 365 474 389 494 411 534 327 468 427 433 405 447 453 459 383 444 440 458 345 441 424 486 401 494 299 454 377 451 394 513 383 461 379 468 380 519 402 481 332 489 365 473 395 529 391 518 348 563 342 499 304 490 439 457 445 443 416 435 356 482 337 471 412 474 430 483 356 476 397 489 376 483 354 444 450 533 356 450 377 544 325 508 437 480 392 456 406 477 406 464 440 456 441 481 455 461 478 569 365 480 347 430 443 450 408 476 309 441 468 485 440 548 321 445 449 523 308 483 390 468 395 416 438 449 438 502 412 487 372 539 329 546 330 482 387 483 404 445 436 506 346 485 437 486 292 459 427 412 485 459 429 446 391 468 462 507 351 471 413 443 449 481 369 465 337 431 420 462 349 515 446 399 410 529 346 467 403 467 373 461 438 517 361 498 437 453 357 540 314 406 417 506 413 487 461 470 424 475 382 476 394 489 419 451 408 513 340 429 381 475 444 446 437 505 290 436 444 488 399 494 337 438 457 514 249 451 475 459 408 457 458 446 441 394 407 392 427 462 393 441 456 488 400 470 432 432 425 492 314 482 372 521 354 429 451 452 423 505 359 492 327 488 348 500 324 555 303 464 471 467 429 455 405 465 425 458 368 481 363 466 383 476 359 462 436 471 433 450 451 500 373 471 445 518 408 452 449 435 473 452 340 568 247 458 455 443 422 454 492 462 417 458 418 441 418 495 380 450 466 455 434 471 245 513 362 450 351 486 286 468 470 497 382 509 404 476 357 502 420 458 468 463 487 469 356 423 432 448 421 439 459 443 451 507 331 403 379 425 478 450 416 552 300 490 454 520 376 463 418 479 403 439 407 454 418 465 433 507 291 475 383 431 471 532 342 450 459 432 428 480 422 483 352 472 399 424 464 485 402 472 346 483 457 455 416 453 474 488 403 483 375 473 441 472 411 461 415 446 489 448 409 499 361 495 332 520 372 508 346 515 362 486 420 466 369 448 433 503 413 433 427 438 360 469 381 423 402 492 366 453 481 475 374 488 405 500 388 454 427 469 433 478 328 478 359 445 426 464 421 454 461 451 478 481 416 438 478 442 417 497 348 430 474 382 427 500 394 478 434 431 426 460 465 500 352 463 396 485 367 474 367 472 428 473 391 491 438 547 347 481 366 442 391 471 379 464 409 455 410 511 330 447 336 455 300 436 485 520 291 486 364 431 427 509 298 468 468 558 359 444 465 456 394 465 479 507 379 477 454 452 448 477 458 493 289 433 459 453 468 456 387 486 337 462 470 500 418 458 397 482 384 460 456 434 405 470 415 494 353 482 358 481 335 466 440 507 338 470 371 457 442 482 470 463 475 530 309 476 457 446 460 480 348 455 352 416 437 502 379 416 401 495 333 338 450 464 432 468 397 523 280 476 348 490 396 455 438 544 303 484 390 425 449 412 491 469 382 464 387 449 457 460 393 515 342 484 480 443 433 496 472 497 353 466 441 476 382 465 344 491 409 476 390 454 366 496 321 419 422 499 340 480 442 421 324 482 406 447 320 465 420 460 450 502 330 483 352 468 351 467 374 471 425 466 411 482 369 432 448 473 333 459 383 471 419 462 409 439 449 503 312 479 384 513 332 476 328 502 418 509 404 479 379 537 332 514 343 448 461 477 432 471 382 493 379 455 466 447 379 491 364 550 301 449 392 504 353 442 487 470 360 483 428 447 396 460 410 448 462 495 325 468 457 472 425 421 390 485 361 477 342 482 383 448 466 450 420 477 394 526 361 496 393 439 335 489 391 459 453 426 460 531 379 432 424 454 396 446 439 470 353 445 447 487 423 518 300 459 427 475 483 530 333 478 340 382 469 465 477 494 410 474 440 436 456 479 371 462 432 439 392 461 386 486 356 440 354 410 462 573 371 472 405 467 435 458 478 543 321 474 391 447 405 430 450 481 440 453 424 448 473 511 450 473 382 496 313 496 396 552 314 450 476 470 414 440 383 456 388 457 429 469 388 487 392 461 288 463 331 501 354 487 409 492 391 456 484 489 389 433 419 490 393 463 388 494 364 479 436 432 465 466 443 490 361 471 382 445 370 460 440 432 395 481 377 485 330 479 400 462 446 433 360 458 437 455 431 493 434 413 422 491 365 477 346 454 392 465 396 462 374 467 416 435 426 423 434 540 327 447 489 470 446 396 461 464 429 464 447 443 346 470 423 512 363 452 374 457 373 467 352 508 326 468 448 444 441 518 348 459 414 459 436 483 345 487 365 487 381 431 381 493 385 461 464 469 417 437 384 485 449 416 423 499 366 479 367 449 427 445 454 426 384 481 342 451 421 464 439 476 382 454 335 469 396 446 452 457 370 495 479 483 387 429 392 483 331 501 312 532 409 425 422 495 367 544 290 478 430 444 443 469 388 461 468 481 395 462 414 534 315 450 417 518 373 458 374 480 349 484 410 483 478 466 354 452 404 413 470 488 369 470 369 464 421 476 427 449 421 486 442 483 398 414 398 481 493 544 279 453 383 427 437 493 303 452 409 529 349 479 438 496 427 501 360 513 320 475 453 476 325 446 462 457 448 483 394 467 402 494 316 434 445 464 417 470 418 439 427 507 362 408 436 469 420 505 356 492 312 451 432 453 479 482 392 447 406 465 417 468 421 457 439 435 420 475 407 502 354 440 435 531 321 444 463 465 358 451 329 476 451 424 409 513 439 452 432 454 466 471 435 458 460 493 472 470 407 450 394 496 371 454 421 482 365 459 443 464 417 455 383 487 378 473 376 439 437 418 375 443 379 444 448 476 383 474 362 479 413 480 403 483 431 429 476 445 403 518 337 435 458 477 411 496 408 476 403 491 442 535 411 437 424 487 434 523 432 454 367 459 443 485 356 470 457 553 319 458 406 475 405 460 441 451 439 472 408 481 338 458 455 469 441 527 321 427 376 483 437 467 416 454 435 434 313 472 358 461 390 427 455 487 420 568 295 507 284 484 338 450 399 566 323 484 385 440 426 435 396 488 419 451 426 475 406 496 370 441 388 466 387 470 336 486 480 465 299 497 334 483 363 446 394 431 486 477 347 469 372 506 332 488 372 499 364 450 445 443 323 507 420 434 433 487 394 480 373 493 417 446 395 451 425 472 373 435 445 469 351 435 475 469 403 496 278 410 445 466 305 470 389 541 299 481 334 463 414 486 292 427 426 423 425 522 324 428 465 506 320 433 424 533 314 528 363 479 452 464 463 475 380 474 398 429 385 479 458 477 370 495 346 447 440 494 327 493 323 486 384 475 369 478 370 458 369 492 438 452 386 458 417 529 359 472 372 427 493 460 457 505 416 450 434 528 363 559 333 481 346 511 356 500 363 445 413 391 478 525 284 505 386 423 396 460 360 491 352 429 428 515 442 399 411 494 374 437 474 405 367 478 374 431 452 457 399 491 378 532 282 463 371 483 400 483 403 458 343 485 405 491 366 439 438 463 433 477 422 480 477 530 338 589 336 477 475 472 423 454 442 458 372 450 413 460 475 439 359 476 433 454 360 488 319 463 342 413 383 469 472 468 409 487 302 437 334 449 467 437 392 467 438 476 404 533 393 469 419 545 314 502 410 492 452 500 400 538 356 480 454 445 395 455 368 471 383 437 427 487 371 529 345 444 458 544 321 426 453 496 385 464 401 523 312 428 424 458 429 472 340 432 463 407 404 454 413 462 409 401 431 449 405 473 369 462 330 477 420 542 315 463 450 488 376 473 391 470 352 472 392 516 294 461 433 521 350 464 437 465 416 463 472 448 424 454 344 456 349 464 331 557 378 408 400 505 353 459 395 450 366 566 376 471 357 456 376 457 448 506 360 463 387 457 405 452 465 430 374 449 415 465 445 456 440 471 414 494 409 406 433 467 435 499 430 488 391 461 425 460 324 435 390 465 343 452 346 465 457 587 349 453 403 450 366 516 332 515 342 453 480 485 399 469 368 468 464 437 400 474 425 527 302 480 379 463 451 453 481 502 419 502 361 464 413 486 443 482 417 525 385 464 440 478 384 430 388 529 336 583 346 458 430 462 398 448 420 485 344 497 357 456 371 416 488 475 373 440 420 512 415 483 424 475 464 497 377 464 394 419 441 461 475 530 320 483 437 467 313 509 405 466 339 444 455 455 383 461 393 452 364 460 447 469 340 504 304 496 394 449 390 457 469 431 421 533 274 515 316 484 382 466 480 416 422 500 410 462 386 434 441 497 422 447 412 471 452 451 445 477 411 439 452 447 459 504 353 544 323 497 389 485 478 540 323 514 421 494 376 478 437 517 345 403 412 475 414 484 318 459 418 456 432 449 372 494 433 551 325 466 437 474 461 537 260 433 421 482 355 473 451 496 348 518 345 460 470 506 330 461 471 430 364 446 459 500 483 384 458 470 449 404 447 482 389 464 404 449 374 489 392 476 423 446 399 475 414 489 353 441 495 495 403 440 337 488 417 454 459 435 349 425 387 463 428 439 477 475 383 494 322 415 385 448 426 549 286 456 459 430 394 471 349 473 369 433 439 500 335 464 390 461 402 527 349 426 395 461 378 444 425 493 396 519 407 506 334 482 377 501 336 464 454 480 361 497 347 467 453 470 408 459 440 447 405 449 411 465 444 464 362 431 415 450 472 540 321 449 461 426 459 491 377 493 404 423 467 438 415 442 400 488 412 568 330 436 408 482 320 463 313 447 450 439 334 463 445 437 428 467 436 459 430 530 217 450 438 455 429 474 405 460 448 471 446 457 470 492 391 516 352 490 364 465 450 471 414 451 433 472 452 472 372 499 343 392 388 463 385 443 409 523 317 434 367 461 477 474 357 481 347 492 427 449 419 474 442 535 348 476 438 457 447 455 401 466 408 424 394 431 444 447 376 458 471 495 373 383 454 475 386 536 272 475 400 477 334 486 384 524 302 492 367 445 437 501 301 463 382 468 412 481 463 521 309 451 376 502 400 438 370 528 331 442 372 396 469 445 487 492 419 425 456 454 423 459 346 466 412 472 343 465 444 431 425 427 375 466 418 462 344 426 389 568 307 414 345 480 388 489 375 479 458 488 422 441 447 529 344 465 409 451 430 452 465 393 395 522 281 484 403 462 418 434 452 504 345 490 372 474 462 459 407 455 448 452 393 492 438 479 470 440 433 469 374 452 407 460 467 486 457 494 400 456 450 449 474 468 356 438 435 471 406 468 480 460 462 444 442 506 412 441 396 498 290 448 410 555 328 531 327 511 361 434 461 455 326 535 287 529 378 460 451 561 354 499 424 476 400 462 444 502 331 467 451 442 440 534 421 452 433 475 410 499 373 471 445 457 454 433 437 438 335 461 356 443 397 416 439 512 349 448 384 478 371 457 428 458 413 457 433 489 357 520 363 449 409 480 466 468 371 456 434 465 398 468 396 475 359 470 427 489 362 467 433 444 401 465 412 433 488 475 349 539 449 497 334 478 412 510 349 484 363 446 461 449 428 488 419 478 453 560 315 459 472 456 408 453 464 486 457 460 382 488 435 465 399 480 446 491 365 460 432 442 412 443 412 501 360 461 418 501 363 487 442 458 350 458 408 534 333 463 400 478 449 480 406 470 382 467 394 509 351 512 383 458 366 496 412 428 470 461 372 474 334 474 454 425 440 495 437 516 416 451 398 487 425 441 442 535 341 434 460 427 449 471 413 430 442 427 454 464 443 490 422 478 419 452 309 473 446 518 259 471 418 468 405 458 407 461 440 517 328 479 369 473 326 445 444 453 365 519 254 456 439 459 446 478 371 452 442 461 467 436 428 468 384 447 279 449 327 501 381 489 465 536 336 466 481 472 398 462 475 446 431 533 322 408 410 540 416 471 433 468 418 446 401 400 454 445 406 446 438 453 455 513 384 484 415 487 405 460 455 530 354 452 376 412 457 481 310 434 450 494 319 453 402 461 346 421 488 471 438 445 410 444 426 516 330 453 427 482 401 497 354 514 390 466 357 481 421 499 391 472 407 466 482 511 361 525 439 466 357 527 338 418 419 436 436 492 422 487 417 467 392 463 469 451 410 428 436 454 375 440 408 527 348 506 401 430 435 499 399 472 347 508 300 487 419 454 470 430 416 465 456 458 436 546 370 506 427 451 448 451 466 460 405 495 443 469 455 458 397 435 379 451 413 439 476 441 444 463 428 492 413 462 372 413 419 478 466 428 379 462 407 468 454 495 382 508 403 469 436 459 485 496 400 616 333 490 448 470 365 463 464 451 389 470 428 482 407 461 460 487 376 484 413 460 445 433 410 444 390 471 371 448 450 439 384 458 383 469 424 449 472 476 429 458 398 473 418 454 431 449 398 453 438 476 419 504 333 481 408 494 467 598 305 521 367 399 414 480 359 469 410 441 401 434 362 488 287 439 470 481 409 480 308 601 272 484 358 533 356 488 366 448 442 443 423 515 454 457 425 457 370 462 442 512 344 470 417 507 290 478 373 457 415 435 420 471 358 384 450 473 393 447 448 501 340 448 463 533 351 458 387 474 467 435 471 411 390 456 474 514 413 490 372 483 470 449 445 434 356 484 387 448 411 463 375 447 390 513 362 453 389 438 442 435 410 540 356 467 381 475 454 470 373 507 362 558 356 446 390 462 404 481 392 472 444 474 413 539 307 537 341 462 438 509 320 469 203 524 278 457 268 451 225 432 183 499 289 491 187 459 354 564 215 511 328 502 229 486 262 514 297 416 303 521 285 488 324 540 261 553 243 503 204 506 253 480 307 450 307 482 269 485 322 472 273 569 274 521 249 536 220 503 221 496 290 553 289 556 355 538 289 505 308 460 235 581 268 530 268 511 271 491 325 496 246 516 312 473 278 548 295 477 258 543 300 532 199 502 278 518 276 431 324 479 378 496 187 446 292 430 435 513 342 482 280 468 340 417 265 492 286 452 311 507 256 488 302 555 197 432 269 446 284 512 234 589 198 495 266 473 372 483 222 578 246 463 348 402 337 499 294 497 328 562 263 454 237 494 273 437 136 479 275 491 262 508 283 518 282 497 227 572 266 461 404 491 171 561 265 435 272 509 328 488 322 453 355 452 332 548 307 428 276 526 241 486 272 563 226 472 330 491 317 467 303 526 259 422 238 421 340 509 267 434 335 426 371 462 290 387 204 462 356 499 305 514 306 505 302 498 289 407 343 508 325 509 229 438 218 484 190 458 391 526 292 425 319 440 364 397 299 438 301 512 268 515 229 419 361 515 289 514 233 469 275 522 200 477 245 420 259 532 285 468 274 460 235 472 198 465 266 480 261 433 320 596 213 489 255 518 323 460 194 441 337 574 220 512 256 465 380 408 367 523 124 490 308 444 312 491 271 553 189 480 274 530 239 544 275 518 233 513 302 536 316 496 317 490 275 503 250 486 268 498 226 466 318 467 252 467 182 535 203 536 265 547 262 509 310 487 325 474 324 519 258 490 234 510 305 456 338 475 253 505 221 491 223 428 361 474 314 523 312 512 231 575 287 539 228 463 288 468 354 485 255 542 273 519 276 475 269 506 278 416 309 484 249 464 310 453 386 532 267 486 197 466 261 472 263 522 303 432 301 506 364 529 224 503 225 476 279 483 247 472 352 464 347 455 372 479 352 545 296 399 325 430 372 437 303 488 300 472 276 463 240 466 307 487 371 472 430 564 215 465 327 473 188 545 183 494 280 481 292 477 229 402 222 441 359 469 285 420 289 468 283 465 361 458 289 530 211 469 249 464 270 503 331 552 240 501 240 527 256 462 297 504 339 461 369 578 162 479 351 485 255 498 261 500 253 444 360 550 244 490 295 475 324 512 237 489 366 557 189 505 304 458 239 484 110 449 254 492 267 470 258 607 274 428 399 509 169 412 219 465 293 531 262 539 286 468 295 488 300 487 316 449 328 520 253 534 298 439 264 464 285 533 212 378 295 486 316 563 208 469 329 532 282 473 368 471 422 549 273 539 252 482 241 472 308 510 213 397 342 427 341 411 326 491 339 519 230 475 261 544 239 468 386 478 207 497 323 578 266 506 265 494 324 577 212 530 190 579 323 511 343 519 302 495 291 452 248 507 271 490 281 548 264 520 326 556 281 427 366 486 311 479 328 467 337 493 244 560 239 547 180 536 217 528 260 488 327 495 201 467 253 411 168 514 307 537 239 474 264 432 299 390 232 496 339 467 336 391 295 476 313 436 237 484 303 472 269 491 380 440 270 407 226 442 199 530 243 419 277 446 327 480 297 404 359 526 301 440 321 500 318 480 300 491 246 524 283 503 276 482 302 441 337 473 354 480 306 442 250 470 396 489 348 479 293 508 277 435 313 502 257 460 317 491 297 428 292 587 252 524 302 477 276 502 250 408 303 456 231 453 335 468 226 472 168 488 213 466 201 582 285 508 278 556 295 433 271 481 307 567 250 438 260 461 307 514 297 414 430 455 362 488 256 394 337 464 283 453 291 478 245 490 258 433 268 505 239 527 305 472 320 521 306 433 280 452 328 475 352 526 238 530 222 453 434 614 230 565 276 456 248 521 215 490 294 409 300 468 344 532 207 470 281 538 277 459 212 527 265 442 234 461 337 435 223 423 345 488 302 507 277 533 248 468 298 515 224 509 283 474 334 459 266 493 354 471 294 454 272 467 330 477 270 501 350 553 255 450 323 437 251 536 272 436 403 485 249 465 256 540 244 552 281 490 389 435 343 518 179 446 255 424 267 497 277 463 200 488 262 535 290 468 343 475 317 458 345 461 340 483 364 504 191 503 205 493 266 458 203 475 282 495 348 468 329 484 273 502 322 439 346 435 364 412 247 453 334 548 252 401 197 528 233 507 310 496 229 535 236 488 288 461 315 450 350 492 204 514 231 450 273 535 300 495 286 395 469 469 381 424 446 503 237 497 281 521 231 533 259 524 311 509 326 487 299 451 302 510 331 580 260 443 236 431 347 563 282 459 350 480 281 541 196 445 351 472 327 494 280 480 225 471 332 446 338 491 294 564 319 413 285 471 231 531 317 454 230 448 227 457 290 483 174 431 333 468 187 547 302 468 387 526 333 486 396 488 338 531 235 600 276 550 278 433 305 542 252 461 357 418 296 456 278 466 364 523 232 507 327 546 174 493 224 416 360 580 201 450 304 444 312 469 312 400 271 520 197 560 324 490 224 402 271 456 298 542 283 525 274 395 365 482 334 506 257 411 308 452 310 457 324 478 317 527 251 463 378 545 233 484 238 484 247 481 371 523 210 437 198 454 362 529 304 506 234 465 321 389 272 452 249 516 258 441 338 456 260 503 300 496 221 511 292 497 185 429 246 575 308 420 305 487 327 441 322 489 309 460 240 405 292 507 275 512 246 507 259 441 327 480 335 485 287 583 232 511 302 535 265 441 425 473 279 445 196 449 344 420 320 538 215 472 287 421 287 469 293 472 314 461 379 449 263 448 351 390 398 442 338 623 226 546 255 401 280 494 244 475 345 607 267 538 283 418 181 540 231 510 249 538 284 498 336 553 246 441 207 453 231 461 315 511 254 586 316 483 348 585 281 527 250 517 287 443 311 449 400 505 241 427 310 478 186 511 319 453 356 444 274 482 204 490 307 525 123 456 300 478 252 456 343 468 268 443 306 452 335 529 296 507 257 527 292 542 233 402 291 498 254 450 256 507 296 443 296 427 287 486 331 452 246 483 327 438 336 481 351 508 342 461 228 500 309 503 291 545 274 519 262 450 209 461 327 529 276 535 236 487 268 507 298 431 339 512 326 502 243 515 279 480 303 473 337 527 277 518 241 518 256 457 302 521 240 394 297 493 250 484 392 465 325 446 288 479 290 444 311 410 255 513 298 530 274 466 351 494 182 489 291 612 282 509 289 519 317 493 363 478 263 496 227 479 263 500 321 522 252 453 317 470 157 593 223 482 224 410 348 548 263 578 361 479 362 449 336 457 350 550 254 465 252 492 298 434 360 493 291 514 300 467 248 470 327 440 245 437 213 476 308 425 333 451 331 416 297 500 305 519 250 467 354 455 367 439 462 478 334 458 258 410 317 472 344 514 304 502 296 457 198 491 276 496 278 552 215 509 288 433 329 578 177 518 328 465 320 497 370 524 330 460 321 561 236 481 338 528 306 466 300 533 285 498 289 439 367 504 229 459 218 470 348 470 315 474 351 463 339 494 313 468 303 450 368 489 276 480 152 625 288 492 363 469 254 497 336 483 244 479 321 592 217 410 306 416 245 501 244 512 202 451 320 440 343 479 286 466 300 379 317 487 300 525 245 443 338 462 270 567 294 446 229 421 267 435 305 548 308 493 405 543 286 437 359 489 285 441 296 445 406 480 249 491 295 554 265 480 319 492 289 501 295 483 281 526 243 384 286 478 255 431 330 481 240 457 256 461 357 459 283 449 370 533 260 428 297 468 280 525 358 469 251 464 269 420 345 494 242 453 263 428 420 512 361 481 284 438 284 437 258 493 180 479 295 478 329 464 242 506 260 438 282 520 312 467 335 422 230 481 273 452 116 464 285 543 203 503 318 554 257 570 275 375 218 464 239 499 191 512 324 484 322 526 254 524 238 455 234 505 296 493 285 514 334 429 324 441 219 441 290 480 226 503 338 501 272 550 262 502 326 429 340 512 219 446 401 425 369 469 280 545 324 502 141 467 322 500 270 523 237 529 274 585 257 510 247 430 337 449 307 432 227 515 264 429 375 537 300 489 295 541 249 541 248 476 311 487 258 522 281 516 311 476 333 455 204 522 275 440 261 417 390 497 278 464 351 523 216 472 238 468 324 468 244 512 286 525 241 477 251 454 335 542 288 540 258 485 138 427 290 425 217 462 292 493 271 479 202 443 308 474 324 480 274 470 254 366 403 538 182 542 320 502 275 549 295 440 223 478 261 525 276 502 185 496 221 459 268 520 262 461 172 436 258 611 278 439 398 453 344 468 322 557 350 441 429 422 257 557 198 439 269 506 214 473 326 471 287 419 374 517 277 400 211 570 283 470 236 564 250 349 400 531 306 409 326 424 337 483 342 491 310 403 204 473 232 559 190 448 348 464 308 478 324 388 334 527 300 488 379 477 285 414 304 481 249 540 165 531 266 460 233 461 276 456 274 520 308 462 355 470 297 454 318 463 301 511 316 463 349 527 313 473 298 508 327 519 272 453 396 453 319 491 356 492 245 542 212 478 316 564 303 484 345 470 350 409 286 559 305 533 247 504 323 472 334 506 274 538 214 522 273 469 247 418 293 444 269 529 222 504 249 449 340 434 292 503 223 473 277 493 367 470 298 526 323 509 249 472 322 528 235 495 282 591 269 514 286 437 195 566 244 475 361 496 288 457 340 546 238 489 317 481 201 508 296 480 302 548 276 499 306 512 357 473 322 521 215 423 305 513 241 428 308 486 285 563 230 484 265 502 284 482 271 479 253 483 279 511 267 413 368 560 236 465 232 426 342 480 313 475 341 531 257 521 268 459 254 410 202 487 225 494 263 479 217 398 324 480 292 485 274 513 288 436 382 420 359 429 186 462 307 476 258 485 268 424 333 508 263 508 258 476 206 514 301 451 273 506 270 466 245 490 176 442 342 474 330 497 230 446 347 526 266 462 306 457 300 547 244 461 262 528 238 522 336 484 361 479 139 566 276 425 185 521 270 510 165 535 248 454 186 483 280 480 209 547 302 532 237 530 231 474 279 538 261 464 258 477 224 469 371 425 303 471 277 486 221 485 325 479 236 464 385 556 333 439 193 538 255 478 241 512 234 425 258 607 209 528 337 556 284 449 218 435 329 516 237 534 204 475 229 534 324 427 241 530 272 495 353 529 244 503 335 572 285 495 257 460 321 423 251 509 246 479 323 448 362 528 267 468 330 472 306 500 234 499 313 488 250 456 355 476 344 547 297 440 282 463 276 529 315 422 258 482 223 466 287 438 151 488 130 581 308 543 228 413 238 494 230 497 249 520 287 428 287 561 243 495 279 562 233 482 331 476 355 463 310 534 242 508 291 487 324 475 365 517 291 454 336 550 294 513 306 458 157 522 232 479 150 457 254 545 244 465 328 433 396 396 353 499 352 458 191 443 259 546 298 570 255 420 190 517 294 571 243 479 311 454 334 477 289 438 255 526 304 473 331 471 373 519 327 538 223 516 288 470 302 470 238 376 316 466 219 473 331 523 304 507 285 486 341 469 310 478 307 406 349 508 316 464 332 519 306 481 217 466 294 410 325 476 203 458 339 535 210 488 269 486 352 519 259 494 370 519 238 501 325 597 349 483 300 461 312 510 266 469 362 534 231 525 303 486 254 447 292 516 285 532 201 490 346 510 349 431 244 452 215 485 285 400 292 490 373 442 338 510 319 463 219 517 282 441 375 484 344 432 258 483 332 458 359 487 291 434 326 460 353 629 263 408 223 450 291 483 300 418 245 451 268 591 274 526 265 536 258 500 331 436 343 504 305 515 297 419 286 534 187 466 295 499 283 480 190 466 309 552 273 482 260 556 266 537 266 480 286 445 287 495 254 488 171 441 284 500 275 467 272 435 432 482 212 392 346 418 251 449 362 447 281 452 252 491 217 466 237 374 360 493 269 604 315 465 235 488 297 474 188 468 226 455 261 491 275 464 376 469 291 488 268 584 309 482 320 542 285 516 256 531 316 557 246 452 421 457 422 495 289 500 286 541 253 464 285 451 322 485 225 521 290 445 264 486 182 515 368 561 273 491 355 524 200 483 262 410 377 484 316 510 313 520 298 471 292 561 288 402 329 411 260 521 150 494 297 480 288 406 362 543 270 494 329 483 224 474 331 466 295 529 234 426 347 487 329 539 253 472 308 462 255 504 305 505 293 523 294 450 296 538 263 487 242 554 319 510 303 516 190 527 223 447 176 533 236 462 258 482 270 503 320 450 248 452 263 428 178 500 296 575 263 518 267 494 270 488 312 511 334 497 298 509 238 454 220 473 293 423 307 455 334 526 241 501 289 457 365 478 348 470 312 434 219 502 323 512 241 444 220 402 211 524 217 488 313 401 287 468 356 495 313 570 240 486 257 409 324 389 295 480 293 528 185 578 223 497 266 583 228 519 278 562 269 485 283 487 281 488 279 444 355 495 231 554 246 498 261 520 259 491 254 468 315 433 295 483 256 501 313 459 339 514 348 459 313 452 252 480 304 493 232 505 305 459 338 453 136 488 313 350 191 493 306 530 170 501 367 509 367 455 382 427 355 455 306 492 371 473 378 488 328 505 292 494 302 460 302 489 341 493 337 470 331 486 258 485 291 522 282 405 281 490 320 430 310 528 264 547 243 468 296 466 284 497 123 492 189 472 303 532 259 568 266 492 211 520 327 572 248 474 351 531 243 498 206 480 351 449 269 502 320 564 240 469 320 471 358 504 329 514 198 428 249 457 349 477 307 485 376 430 330 461 196 422 291 551 272 436 279 490 290 515 316 458 290 466 321 522 239 495 290 426 325 497 250 522 283 476 335 446 391 414 231 474 310 500 313 529 214 456 319 534 277 450 350 530 300 487 317 445 235 511 219 458 294 428 311 450 314 506 295 493 348 512 262 418 238 509 313 507 302 517 266 466 349 494 363 513 231 547 214 496 286 520 292 481 271 485 311 521 311 424 231 419 244 462 313 507 172 481 324 463 277 456 349 559 256 444 331 433 383 508 322 432 214 484 264 499 276 437 335 405 333 453 232 467 274 579 323 476 311 457 361 448 306 448 221 424 322 475 325 476 281 491 295 524 285 532 216 502 276 465 291 473 317 399 193 499 351 454 296 552 277 425 337 475 281 505 295 527 302 558 278 486 290 460 172 445 290 450 289 438 305 452 281 416 300 506 206 608 300 471 311 471 252 535 314 421 272 564 235 494 340 504 272 459 198 505 190 526 339 494 242 498 305 452 388 509 252 534 270 506 296 492 296 521 254 496 257 563 311 501 287 468 335 463 303 408 263 479 324 472 190 478 180 432 308 488 147 561 279 489 273 430 266 470 300 519 265 486 386 466 319 495 201 525 333 566 270 481 367 527 284 478 175 465 301 468 336 494 309 482 304 536 225 447 280 479 275 479 300 518 348 514 283 439 257 462 330 426 211 385 319 477 282 461 204 489 318 522 325 475 377 527 280 510 306 453 253 458 314 502 327 525 292 419 374 476 300 500 277 506 287 453 307 469 292 598 208 495 340 562 289 492 278 504 302 471 284 500 226 533 307 451 313 482 254 427 276 510 323 491 346 476 293 446 299 518 178 502 286 433 275 479 292 482 342 423 315 579 220 481 338 458 319 476 293 473 323 497 157 394 297 490 381 494 342 563 241 518 218 541 236 478 298 525 372 485 340 533 225 525 255 452 312 459 384 530 264 461 251 480 302 524 237 500 343 460 251 466 287 433 266 542 277 448 293 465 269 549 280 436 211 478 359 504 196 484 312 441 383 487 317 530 280 482 268 497 333 469 289 536 309 492 309 461 206 464 274 505 263 462 191 487 323 472 290 515 289 425 308 455 342 472 298 482 238 615 300 507 247 489 203 388 367 428 253 525 291 558 277 432 208 551 262 477 265 481 296 481 325 508 358 523 270 471 244 528 262 537 120 506 244 522 316 481 385 505 243 439 254 451 361 498 327 484 360 536 195 439 276 538 293 487 334 545 275 495 289 508 358 555 277 449 302 502 256 496 287 420 330 518 272 455 129 507 303 502 280 485 356 468 279 508 337 475 286 517 276 496 272 517 315 481 205 493 255 431 328 542 274 389 459 471 224 532 233 440 262 478 309 461 253 491 212 468 221 501 284 455 281 470 337 464 268 429 167 537 284 521 216 485 181 487 310 500 274 442 282 511 163 487 347 479 391 576 236 531 268 370 171 461 268 476 348 454 372 450 329 482 295 583 239 474 258 536 228 534 311 509 330 427 315 474 345 520 278 511 297 453 337 545 305 516 309 509 289 579 247 491 316 479 286 501 285 492 305 454 296 450 274 478 353 467 245 502 268 452 255 494 318 451 317 517 175 535 340 458 266 463 304 450 351 546 276 441 306 569 229 435 298 468 335 466 261 504 316 434 341 522 325 477 243 458 350 542 311 491 272 507 279 448 386 481 253 503 229 417 241 466 210 531 280 511 288 508 271 468 327 493 375 448 176 539 285 521 166 550 280 500 314 472 236 499 204 492 274 550 163 467 299 525 310 523 328 481 342 483 271 375 374 508 289 496 311 496 249 583 227 498 248 471 322 414 299 468 311 563 275 486 302 473 293 524 233 481 247 437 288 526 229 472 290 538 158 528 265 502 239 486 201 587 236 478 322 483 272 479 293 495 304 456 343 490 314 437 344 516 342 508 300 454 253 454 303 489 344 459 314 471 334 537 269 448 239 442 341 487 329 454 361 505 193 545 276 495 240 448 393 480 332 493 330 451 373 526 266 478 294 513 286 492 297 463 354 465 365 564 251 478 371 515 269 469 238 569 228 503 303 586 216 473 294 494 364 504 354 495 301 473 220 459 316 462 262 454 287 526 273 441 296 454 334 494 280 521 304 429 307 399 341 462 331 416 396 502 328 497 312 463 328 513 267 441 255 380 300 482 275 389 346 521 244 533 294 549 256 505 303 484 282 515 266 456 224 477 344 475 283 515 261 413 227 562 248 538 234 360 264 577 303 466 330 440 311 465 258 607 202 497 329 521 305 478 262 569 253 480 277 609 235 463 320 439 289 438 218 502 234 513 323 475 151 486 283 560 191 438 242 473 141 489 214 464 369 527 211 435 300 491 274 451 264 515 217 479 306 471 76 543 278 467 237 482 238 488 230 546 275 496 207 460 321 513 276 426 449 519 243 482 346 525 263 502 241 586 237 554 184 439 197 519 277 525 151 468 305 472 366 437 341 493 306 483 333 531 280 419 421 579 244 484 358 548 281 481 204 495 272 512 299 489 259 534 310 446 228 505 284 482 298 542 266 532 241 428 337 457 389 452 197 550 216 470 316 487 226 466 333 517 273 475 336 519 298 567 262 550 327 485 343 489 226 445 328 504 293 515 309 520 211 416 399 467 214 478 232 495 240 449 408 481 159 557 192 497 218 555 316 545 211 468 233 420 286 473 257 451 333 505 348 502 218 468 256 480 434 533 294 448 237 469 229 456 338 517 250 548 221 444 233 452 366 457 282 448 234 505 253 523 225 472 334 515 248 528 269 426 299 417 307 394 284 485 307 451 351 495 229 513 279 470 220 451 295 483 267 518 272 462 312 458 282 456 241 527 209 447 261 560 202 486 297 472 265 546 294 447 423 507 256 488 288 417 342 482 312 535 251 552 273 405 204 566 286 380 385 473 328 447 338 338 382 522 318 439 282 380 278 482 369 500 314 475 336 450 358 525 268 567 269 442 315 467 390 481 246 485 258 570 296 511 303 438 266 445 295 490 308 497 271 494 271 556 268 437 323 498 293 469 241 514 310 505 249 532 290 444 352 436 290 546 229 404 250 532 191 364 225 543 294 565 296 497 181 458 317 528 236 428 198 350 127 508 223 493 244 474 281 385 376 519 352 433 274 412 310 503 231 472 292 525 268 444 237 484 291 517 238 483 321 444 272 425 169 518 226 444 224 514 250 430 268 540 230 471 270 546 313 468 290 506 303 477 364 519 295 442 227 442 170 491 303 589 328 522 255 487 355 451 353 524 302 479 261 485 283 420 296 478 327 560 280 511 249 423 336 422 244 435 277 445 259 523 307 456 338 482 369 484 325 540 298 455 413 531 288 514 177 481 277 488 463 484 290 480 294 552 236 507 223 432 307 423 256 462 281 462 323 497 298 376 335 519 262 546 280 401 346 473 279 496 274 494 291 465 178 503 166 383 333 517 279 480 188 467 284 479 348 491 266 504 326 494 285 557 232 481 206 474 292 477 329 504 271 562 256 504 271 480 227 523 208 469 241 514 274 462 219 469 269 458 283 423 294 504 268 530 276 470 229 441 341 535 265 479 275 573 240 554 243 478 247 465 316 450 322 546 271 505 264 578 286 456 254 464 212 454 215 431 200 452 233 460 328 476 411 483 178 520 301 437 336 493 282 413 288 477 317 445 282 421 291 505 373 523 288 474 338 519 222 488 320 497 220 449 375 487 255 486 378 503 255 467 231 520 298 435 301 481 287 417 190 456 322 436 328 464 278 515 273 467 323 490 259 537 262 455 412 494 304 489 214 459 343 541 285 542 312 495 299 496 362 508 315 462 328 394 326 479 304 590 247 538 242 504 320 455 292 495 305 526 265 443 178 445 216 522 241 469 254 559 303 537 275 470 252 557 282 530 349 466 382 547 271 523 280 467 182 453 392 500 258 460 306 477 245 502 306 510 236 534 320 491 235 493 214 440 237 469 322 456 248 541 295 490 216 540 293 564 193 458 353 473 236 469 299 519 275 443 267 469 260 568 255 502 290 443 317 502 284 484 317 504 252 457 343 416 299 493 284 527 284 530 231 429 211 497 185 510 275 424 386 536 244 450 402 499 263 445 343 397 274 448 205 497 301 501 274 513 326 465 141 449 336 454 265 424 312 556 243 495 126 524 290 455 300 479 383 471 289 479 306 495 339 476 146 518 220 474 273 556 263 452 225 536 169 472 271 465 367 576 192 482 219 455 323 446 371 523 223 479 277 471 304 527 286 495 264 437 251 504 284 464 270 472 346 485 214 532 238 474 271 471 249 508 238 491 233 536 245 426 271 510 287 507 246 409 322 567 269 488 414 540 177 519 294 493 266 528 268 461 291 485 320 509 304 430 207 500 240 512 249 517 223 512 258 457 224 446 330 484 279 493 260 465 241 516 240 505 306 487 311 507 285 517 228 457 278 454 313 555 298 474 364 516 306 493 359 428 376 462 332 516 223 482 288 612 259 511 342 547 275 516 297 525 266 484 251 480 317 480 260 512 320 502 239 436 235 510 335 545 170 511 288 479 275 581 169 524 264 546 253 538 210 472 275 541 245 454 359 431 261 431 297 458 342 461 352 411 321 536 302 473 206 466 295 553 214 551 246 576 278 468 263 487 276 415 306 436 276 525 262 502 290 511 271 466 338 493 293 526 302 453 335 523 190 430 208 459 312 555 252 464 271 481 297 460 283 472 344 517 204 451 263 547 308 444 315 544 304 483 205 489 292 484 278 484 378 518 284 466 335 392 284 483 422 540 247 515 270 486 358 485 326 589 208 452 307 535 160 513 365 400 233 480 208 490 347 446 321 463 286 453 148 470 298 514 295 449 407 430 187 522 212 435 271 494 295 462 354 500 209 472 180 496 348 413 324 460 294 509 317 421 348 393 374 406 371 482 334 483 323 485 280 539 226 513 306 469 239 499 214 506 296 592 271 519 282 449 324 434 262 473 286 549 279 512 241 453 308 453 261 396 444 381 427 397 437 394 424 456 433 423 460 368 458 417 408 407 486 409 464 433 447 432 468 374 439 430 426 375 495 443 481 428 484 449 491 385 446 378 471 383 447 371 463 400 436 417 464 442 424 447 438 419 483 398 478 415 431 431 463 379 482 388 480 342 457 453 458 468 460 372 480 391 462 391 441 433 424 392 457 417 449 390 477 409 447 390 458 395 488 450 460 416 430 412 385 418 440 377 474 397 461 452 477 380 478 416 471 427 452 326 473 452 399 386 492 476 434 391 445 353 463 444 485 439 449 441 424 392 459 440 414 342 456 368 452 418 448 445 462 420 432 410 471 423 420 346 491 462 474 445 429 436 409 405 429 411 475 427 441 401 490 399 495 359 473 442 466 454 468 422 444 349 464 390 432 401 462 327 447 416 459 424 460 424 461 430 426 379 472 388 445 377 467 425 463 418 461 397 412 435 450 426 457 381 442 418 493 415 417 412 433 404 492 383 423 350 446 399 393 402 482 351 491 361 419 444 441 430 467 394 435 401 445 391 490 354 424 425 466 433 486 419 442 417 423 391 438 453 460 408 482 423 492 357 432 397 464 430 461 424 445 410 429 417 440 394 481 439 460 341 451 425 460 365 402 399 460 393 423 439 482 323 453 373 416 412 492 423 465 389 465 412 466 392 491 411 477 364 488 458 477 418 454 432 469 414 473 392 443 403 458 379 457 417 467 456 472 405 489 384 434 439 438 442 426 412 419 443 473 372 485 379 455 392 481 420 455 443 451 421 418 453 473 450 479 389 444 446 454 413 462 358 472 380 492 402 494 449 425 423 425 410 489 352 471 376 465 391 423 418 473 387 404 363 488 433 456 454 432 378 452 420 451 463 468 368 420 385 433 370 492 426 447 353 472 434 460 383 403 368 401 422 473 401 403 324 459 384 445 408 476 439 461 452 413 392 466 437 486 400 453 379 442 400 491 419 429 441 424 422 478 417 434 443 445 414 427 383 475 436 460 380 449 367 463 414 414 451 492 396 438 435 475 359 436 356 446 340 441 362 463 385 461 382 464 435 484 404 476 384 470 429 440 399 493 415 445 447 489 410 474 430 449 407 467 451 465 331 482 394 486 375 448 418 467 425 447 413 457 462 479 384 440 423 476 459 418 412 454 403 483 417 430 355 481 389 458 371 421 408 439 426 431 438 408 386 464 403 486 421 460 342 466 337 489 382 455 351 460 458 426 377 445 379 424 464 414 398 444 422 460 410 450 352 425 402 458 434 418 349 442 400 492 421 456 377 464 437 490 392 454 402 434 369 432 405 457 419 465 420 467 397 441 358 440 423 439 423 435 410 422 424 466 354 458 412 439 428 476 443 469 418 455 350 478 349 415 435 472 386 409 439 493 380 468 374 442 452 451 445 419 438 479 396 467 414 460 394 425 377 468 399 474 416 449 365 415 449 443 411 458 379 489 350 470 409 408 357 458 425 486 435 400 404 408 387 468 393 438 426 427 431 431 397 475 434 448 366 472 399 473 398 447 419 464 394 486 414 455 399 454 438 446 437 466 394 468 411 439 362 443 442 446 408 420 348 489 369 445 463 439 420 455 430 488 403 477 369 422 400 387 395 412 439 474 399 463 460 480 362 466 378 479 393 417 368 454 404 421 359 412 383 475 435 464 416 421 410 445 415 437 479 463 374 426 390 472 396 472 397 488 415 476 339 469 364 433 451 463 425 422 445 458 388 471 397 455 424 451 413 494 407 447 419 472 405 466 345 439 343 419 348 480 367 431 340 445 413 489 345 469 373 456 439 486 367 484 447 491 424 396 350 468 414 448 433 419 397 464 402 449 356 434 402 423 363 431 448 459 418 431 424 422 437 454 380 417 357 449 436 444 404 455 370 427 393 459 426 436 401 366 331 469 370 456 439 406 340 489 435 461 398 439 441 435 428 481 405 470 360 442 396 472 427 487 418 422 442 475 402 433 444 439 364 459 402 467 326 471 423 426 402 489 363 458 347 492 397 458 400 483 444 417 385 421 347 487 407 455 439 443 394 452 390 478 422 490 366 402 414 455 444 447 435 424 406 472 429 402 417 459 422 452 444 467 425 489 427 426 396 426 447 481 372 458 419 464 413 449 375 431 407 414 380 484 446 449 427 449 397 465 443 458 391 458 376 422 403 457 379 452 383 423 413 488 454 430 432 466 448 447 413 477 411 462 364 425 360 472 398 470 430 470 421 484 441 429 433 455 382 456 445 410 362 451 376 468 397 463 354 476 413 463 392 438 391 473 430 446 418 449 411 462 324 460 387 453 365 476 390 492 413 416 434 474 381 455 376 494 403 481 408 469 359 472 338 450 393 455 439 472 400 453 424 464 444 451 464 467 381 484 412 417 407 445 443 481 365 469 383 474 408 454 385 481 425 458 425 453 442 407 325 440 396 427 408 468 342 431 331 446 419 447 402 484 436 451 425 464 403 432 403 477 399 431 379 463 360 431 404 462 408 441 410 434 408 422 419 444 418 451 394 478 395 489 354 485 406 453 363 432 368 474 370 488 358 493 383 436 396 398 422 443 440 462 401 420 422 421 365 451 405 433 368 444 393 451 388 469 437 492 298 482 318 420 428 444 358 474 470 423 359 412 374 415 433 478 418 469 420 445 413 426 388 444 422 494 422 456 382 489 455 429 424 448 365 491 427 452 414 428 337 492 339 448 424 472 462 493 441 462 378 429 378 434 400 490 423 485 413 442 384 489 411 491 403 456 387 476 361 436 428 446 418 442 445 446 439 493 461 485 413 453 403 446 397 494 434 478 376 473 369 467 445 486 407 422 418 459 368 421 450 472 391 412 426 446 380 470 412 411 433 426 444 481 413 488 436 455 399 470 395 462 357 473 429 436 379 454 451 461 387 493 388 485 390 463 359 485 442 487 403 423 426 466 411 461 376 442 388 446 398 448 431 426 408 431 412 393 415 461 345 454 404 459 401 482 336 437 402 495 458 464 414 474 358 456 403 452 368 478 425 446 415 467 369 421 453 485 454 466 402 480 444 434 448 397 449 466 441 456 396 456 470 461 398 422 363 464 409 477 383 488 419 480 377 484 390 479 371 393 417 454 432 448 430 479 398 456 411 473 354 451 418 486 403 443 408 442 426 485 383 474 445 439 428 483 405 430 415 447 367 428 419 468 349 442 428 420 413 422 425 457 439 493 366 456 347 483 367 452 344 442 370 463 413 449 447 449 397 473 422 454 401 481 431 443 390 458 400 479 396 483 410 479 418 494 416 434 404 439 398 456 401 492 410 465 366 476 428 476 453 368 387 431 421 485 382 466 405 474 336 420 383 461 422 462 361 456 432 459 402 450 407 417 377 441 399 448 385 435 354 478 475 493 434 465 341 457 314 439 411 469 411 454 410 491 373 460 465 459 426 453 318 473 404 479 414 415 408 459 448 489 393 450 440 453 432 466 349 466 440 434 335 464 310 470 442 418 375 482 460 474 388 480 424 472 402 458 430 458 420 443 407 465 360 438 440 477 429 446 406 464 383 454 427 475 377 482 386 424 392 383 395 469 387 472 424 459 393 395 408 492 382 405 410 451 395 428 405 470 345 433 394 489 422 446 367 462 442 466 419 454 404 464 450 492 414 468 426 439 382 411 404 481 381 460 403 429 402 421 374 446 399 487 375 452 383 452 470 438 421 445 452 461 449 444 426 439 392 451 429 480 395 443 457 412 428 493 397 419 394 439 404 416 450 440 333 458 423 472 338 484 419 446 306 436 352 456 390 478 415 481 402 399 355 469 392 460 440 438 409 468 415 487 433 439 446 407 422 453 430 447 484 473 408 492 416 427 452 447 336 458 363 440 376 456 346 458 376 452 359 477 439 467 430 487 379 464 379 475 369 420 400 482 385 423 422 470 410 475 425 479 382 445 399 467 416 488 387 425 413 458 347 411 402 414 352 447 350 460 354 436 454 431 384 464 369 389 389 438 400 444 351 469 362 464 353 479 444 486 443 481 378 463 380 426 420 475 418 490 421 482 452 429 314 448 397 448 368 476 419 489 367 455 446 458 421 488 444 460 457 442 395 478 398 416 438 424 371 492 411 407 394 459 456 467 413 438 434 452 423 427 413 465 414 457 405 460 369 472 426 478 411 483 454 478 383 443 373 478 348 432 429 449 414 469 447 452 429 437 431 476 359 466 415 484 427 449 404 438 399 489 426 391 370 461 400 433 399 476 459 458 368 453 376 437 425 466 370 484 444 469 392 460 439 473 431 466 356 455 412 479 414 460 456 452 334 453 446 461 435 481 404 447 327 487 444 418 394 430 412 490 442 485 357 467 451 465 370 428 421 454 356 423 413 469 373 477 430 465 373 446 401 459 439 486 420 465 443 447 382 453 410 453 386 487 408 491 357 440 400 470 401 440 414 431 390 460 347 469 373 479 339 434 429 475 422 426 367 427 392 416 402 479 376 409 341 462 347 484 429 477 398 461 447 447 407 422 419 473 386 486 419 422 425 466 423 464 378 475 376 487 411 474 406 440 456 439 450 461 397 435 426 459 328 494 390 457 400 484 396 450 373 451 385 445 385 485 405 471 417 470 401 467 408 443 437 430 395 478 389 480 427 450 419 478 388 485 346 469 398 477 375 465 408 461 393 447 416 462 421 455 379 471 428 483 380 439 431 483 382 442 422 439 447 454 438 477 393 490 416 455 392 476 419 430 426 461 424 480 393 485 348 448 423 431 421 447 329 443 412 459 371 462 359 420 395 445 404 455 408 399 415 451 349 454 357 463 393 494 375 441 429 482 418 438 411 480 399 437 406 480 338 490 389 411 401 379 428 467 401 431 406 460 389 448 395 433 395 472 372 413 426 414 439 445 452 460 456 445 385 445 399 467 437 487 351 447 417 464 421 468 400 474 456 455 445 491 429 448 354 429 417 463 432 488 421 474 407 480 369 481 461 485 443 442 421 431 383 450 453 434 406 456 326 492 406 432 407 444 406 431 445 487 413 412 458 476 389 431 391 441 434 490 515 41 480 322 483 157 566 206 600 97 546 115 602 118 513 146 584 64 416 192 576 72 602 79 502 178 595 99 391 217 529 293 580 215 458 115 500 142 588 27 514 79 621 97 592 46 571 50 629 203 496 175 578 156 524 76 521 25 578 128 499 58 487 141 477 177 509 60 621 127 568 60 566 61 533 124 587 150 523 76 521 123 496 204 570 228 442 235 541 200 635 153 567 141 592 49 560 65 596 269 533 93 496 243 599 199 497 97 538 150 528 177 536 119 494 172 527 101 603 163 536 164 444 227 547 34 535 84 543 216 480 163 588 86 527 209 595 97 553 41 419 142 467 198 462 250 544 100 474 124 516 22 472 178 513 173 481 196 559 189 636 130 507 203 586 89 437 128 571 53 598 143 564 167 616 156 561 133 560 14 498 96 503 44 598 125 610 186 448 118 566 188 485 90 612 52 630 150 600 151 593 173 559 64 539 100 461 162 482 237 612 211 537 179 520 91 579 113 571 57 576 33 510 189 564 242 557 104 501 134 445 419 460 405 460 400 435 493 469 337 443 476 477 437 466 362 475 340 500 298 520 430 447 417 451 454 469 300 497 425 497 424 457 380 506 316 500 448 446 478 496 298 496 426 456 463 472 350 493 362 523 291 440 384 467 386 507 270 465 369 487 446 501 278 471 361 481 331 461 406 494 373 469 463 508 283 462 410 534 282 445 495 481 307 497 317 469 302 518 280 433 479 506 297 474 379 445 462 492 299 635 312 483 424 510 388 548 391 526 400 488 338 433 412 467 393 530 269 499 420 464 456 482 259 455 479 486 314 511 332 476 396 451 431 463 471 468 412 448 440 460 434 513 263 470 490 469 388 498 258 490 473 484 300 470 449 476 356 507 330 466 464 449 474 495 310 482 444 490 369 451 453 509 269 467 409 450 473 459 491 438 490 432 493 505 401 433 444 437 449 460 444 529 317 482 352 507 311 480 313 508 420 480 403 439 421 464 484 486 392 511 317 505 318 458 449 471 421 511 280 418 476 452 445 481 336 525 424 439 480 493 453 427 493 468 377 473 327 465 375 446 433 455 453 448 427 499 290 434 483 475 411 517 481 479 429 441 482 492 379 493 309 481 333 467 412 533 287 502 289 512 299 453 395 517 280 499 323 461 413 451 393 503 482 523 343 468 493 497 378 534 383 512 301 482 457 478 457 490 279 480 368 509 456 453 380 473 393 441 408 437 483 432 465 491 321 513 261 486 305 488 436 435 414 508 266 477 314 476 316 503 338 460 454 489 370 478 421 475 351 430 445 451 398 479 330 468 474 465 426 502 263 417 493 474 347 467 345 448 491 468 274 467 319 425 494 459 432 413 493 535 304 451 353 506 353 512 264 480 362 468 375 479 303 496 481 520 324 535 426 472 374 487 269 474 343 411 471 458 487 445 406 466 427 465 399 464 448 514 333 472 434 498 255 551 286 464 485 460 378 518 328 475 408 455 493 438 470 487 394 457 419 494 459 436 487 436 479 494 351 451 384 454 301 435 483 502 486 520 385 500 272 446 490 482 286 447 451 448 467 496 266 453 414 465 356 524 382 453 480 475 389 469 360 424 431 478 391 423 492 445 481 484 442 481 477 453 466 469 412 556 271 494 353 446 462 485 286 476 432 481 470 454 413 488 399 472 422 455 351 450 411 443 426 480 291 485 334 433 424 469 382 548 318 453 427 449 494 498 367 508 323 465 320 501 274 474 466 481 354 504 379 492 311 456 460 476 438 450 495 481 353 439 468 500 364 559 336 504 395 423 456 482 379 508 339 460 454 468 494 494 287 468 434 549 281 483 258 441 367 490 440 454 485 526 437 482 333 465 489 489 368 467 387 476 326 460 439 476 362 476 372 485 403 454 458 470 413 492 272 485 258 485 285 465 473 438 445 440 484 471 355 500 317 464 372 503 299 491 413 519 305 447 472 483 435 479 440 480 386 506 424 494 315 420 476 460 484 448 403 471 415 549 280 434 414 497 262 459 441 477 368 435 426 476 361 480 324 451 426 445 412 469 294 472 312 462 302 473 319 471 376 509 262 487 360 462 353 459 425 460 489 439 423 491 348 490 294 497 289 589 354 491 258 459 421 447 387 447 381 575 276 434 478 477 370 455 437 465 467 462 351 479 296 483 411 463 435 465 322 509 294 480 418 490 297 465 397 453 478 462 461 429 493 491 317 453 392 434 468 457 333 499 398 481 342 445 454 455 399 449 423 470 458 495 323 455 463 440 490 510 416 436 481 464 426 456 303 450 464 527 380 475 419 490 300 465 318 440 435 509 375 506 263 446 481 424 467 449 419 419 435 449 477 543 399 504 383 497 296 447 439 484 378 460 464 633 324 470 491 508 333 476 429 486 283 448 482 489 306 484 367 484 469 477 344 486 494 495 318 471 318 531 381 436 475 479 314 472 271 457 464 471 393 498 268 453 382 461 383 473 316 624 307 496 301 442 437 446 444 507 336 445 474 435 455 460 337 444 481 499 345 480 324 556 290 501 291 495 315 499 404 467 359 515 403 445 478 448 364 449 462 487 443 523 287 484 281 494 328 441 489 460 407 466 355 450 393 488 333 457 384 459 377 437 433 461 297 470 414 470 406 480 415 498 298 471 450 460 405 476 358 464 467 442 494 503 440 548 402 466 367 464 365 557 405 484 442 456 400 504 358 451 393 463 367 481 463 421 495 422 414 428 463 485 311 476 275 462 492 432 480 497 315 506 266 433 466 487 313 437 479 514 271 516 361 498 342 479 455 461 370 466 353 449 429 541 426 500 273 441 493 490 366 441 492 507 315 521 363 471 364 466 457 451 315 454 421 452 444 471 386 436 466 523 268 477 331 477 369 505 432 496 274 462 401 498 328 460 478 476 391 468 371 420 487 530 315 457 479 543 341 452 486 443 380 467 387 457 488 498 441 466 305 456 477 477 305 497 372 472 330 469 316 483 467 498 297 458 422 499 348 497 281 449 481 448 446 461 495 463 419 434 477 434 454 479 459 532 344 431 487 520 467 454 388 471 339 438 490 459 469 521 486 501 463 543 400 434 487 539 355 477 325 451 425 508 391 431 482 454 425 471 455 535 349 502 276 478 401 539 313 499 347 495 494 473 456 486 395 467 459 483 382 454 384 449 423 488 272 514 289 539 413 473 339 482 335 479 377 465 435 499 283 452 433 492 365 613 296 456 379 508 306 561 437 437 399 557 380 457 470 487 321 458 466 464 369 456 444 434 483 484 461 526 265 526 445 488 281 425 490 438 484 475 341 471 383 503 310 403 480 474 468 431 443 525 327 456 454 463 465 470 363 526 356 430 435 460 410 486 342 477 413 441 481 489 401 463 312 497 307 489 421 448 471 482 407 493 262 506 355 474 451 496 270 515 400 472 364 487 307 479 448 489 482 496 276 412 450 501 334 437 480 447 465 494 270 553 378 432 439 504 477 470 395 482 488 498 427 426 478 459 450 470 415 491 283 448 472 418 457 493 275 484 351 432 478 475 353 484 337 496 319 460 392 429 492 468 379 489 281 540 311 464 401 459 358 446 418 468 401 494 265 443 470 482 334 489 347 493 295 498 407 445 436 449 490 479 362 457 487 421 492 488 281 498 256 431 472 440 449 465 426 530 267 473 376 483 375 500 262 464 344 480 379 454 452 506 302 423 466 436 412 475 378 479 343 464 483 520 271 431 494 466 366 503 362 437 478 419 464 495 314 452 471 438 466 468 428 435 481 443 489 470 437 453 399 476 399 457 449 458 417 487 331 504 263 488 368 497 360 488 476 458 444 549 490 461 431 471 426 488 376 493 309 463 393 479 436 439 473 481 330 479 319 441 443 442 486 467 455 485 306 572 296 480 292 485 264 509 260 547 354 474 434 474 356 446 481 486 304 489 321 502 276 463 401 487 322 492 303 415 466 510 280 435 435 456 428 509 381 501 276 495 353 525 401 512 440 468 308 511 310 488 307 436 473 472 485 488 365 466 392 457 441 478 329 486 401 532 284 488 367 505 435 475 475 444 411 455 387 454 454 478 321 501 333 449 476 480 349 463 363 477 363 470 386 453 336 466 492 496 453 442 488 464 439 471 477 485 352 502 392 495 271 489 470 502 339 471 319 506 420 466 412 567 460 473 352 461 462 522 262 562 336 459 452 455 486 448 476 543 339 459 467 506 456 501 361 472 434 507 452 464 370 476 333 490 370 460 378 439 487 455 432 447 397 474 347 484 377 463 455 525 290 486 270 441 454 462 339 490 356 447 399 560 311 450 478 519 264 440 483 474 493 576 441 486 421 500 410 469 346 468 475 452 465 455 402 481 323 468 476 476 448 434 415 452 479 474 349 460 405 437 488 543 352 431 489 517 372 528 311 516 342 452 435 503 294 508 361 488 295 475 321 501 384 452 389 478 418 452 437 427 492 511 281 438 489 485 412 533 274 446 402 450 437 485 489 441 483 446 471 474 325 449 483 502 432 459 318 489 335 431 433 451 475 490 419 465 452 494 272 448 429 536 322 468 386 515 275 511 402 432 489 450 405 464 413 487 454 538 389 512 266 483 436 435 494 600 458 474 449 459 358 439 474 513 316 459 396 447 474 458 331 446 456 512 407 466 407 442 470 461 446 537 427 471 358 446 420 490 262 465 495 489 287 521 322 495 343 499 334 459 457 473 352 447 406 429 486 455 388 477 313 474 385 520 481 455 467 456 357 520 283 476 354 467 370 464 397 457 435 528 396 510 290 471 287 473 354 451 442 452 495 535 401 473 473 453 489 525 280 455 418 474 389 481 305 454 453 439 463 500 327 523 376 435 452 495 272 432 342 473 373 439 473 497 432 512 348 521 305 444 464 485 336 484 426 481 348 480 329 507 421 447 456 437 441 445 420 481 299 484 296 500 379 474 362 502 370 441 490 489 295 506 276 498 305 452 454 474 387 456 417 511 402 477 320 514 297 478 352 445 494 511 333 456 427 491 461 426 457 472 388 513 336 501 489 476 250 502 469 496 261 421 488 442 473 463 409 445 469 483 450 457 399 493 320 503 380 514 347 458 388 517 294 485 434 472 414 541 272 449 455 536 490 545 329 497 407 437 441 510 380 497 302 510 341 458 391 462 493 468 372 508 333 526 374 446 457 511 307 457 422 448 491 450 452 461 457 441 475 517 261 523 342 479 329 464 363 473 377 523 378 492 280 481 393 469 341 479 325 477 379 504 368 448 480 445 475 499 388 503 392 471 453 472 325 433 462 498 352 485 329 445 419 471 485 484 355 511 330 439 482 485 374 508 382 491 305 493 285 498 271 459 341 465 447 475 490 455 354 451 474 500 319 465 411 497 494 523 300 455 376 474 376 463 452 429 489 550 316 485 266 447 369 453 490 428 492 527 278 533 269 486 288 472 472 503 488 429 490 532 350 497 254 472 264 491 286 513 371 491 363 447 473 456 441 416 494 514 283 455 367 521 332 479 398 481 338 485 396 556 313 461 421 544 446 463 385 432 444 466 407 443 487 510 345 490 308 469 370 427 490 542 270 447 493 511 291 499 296 483 343 473 356 451 468 452 399 495 431 486 441 476 310 437 486 563 283 499 483 518 445 436 432 476 362 450 368 449 413 490 277 442 471 499 302 482 343 448 488 433 473 453 466 509 318 472 391 492 366 494 267 459 423 460 341 503 313 448 455 460 487 446 483 517 361 452 463 476 358 503 437 536 320 452 444 514 335 461 392 447 473 439 461 500 312 437 486 509 269 481 336 497 336 465 396 433 495 512 263 520 353 466 465 476 351 442 440 459 472 508 306 503 305 484 341 570 400 427 491 583 413 496 458 437 440 444 436 503 410 457 485 462 446 478 311 495 275 487 471 491 480 509 327 520 384 520 276 462 323 442 472 450 445 440 437 513 373 511 335 451 379 516 441 454 407 472 429 431 473 468 276 457 477 515 350 502 478 505 380 441 444 466 328 477 273 496 342 477 429 444 450 555 449 480 383 492 278 453 323 495 458 466 474 438 387 458 491 454 490 482 373 441 475 448 469 466 374 450 487 453 365 519 385 521 264 439 441 462 463 523 318 488 261 454 335 463 382 530 336 491 330 451 480 529 326 423 462 450 465 482 338 503 337 452 480 444 484 479 477 436 479 481 433 490 346 480 334 478 353 450 436 521 367 493 311 462 407 466 339 460 426 492 378 500 273 440 490 449 451 451 474 501 286 495 276 479 419 467 367 455 447 514 336 483 325 478 358 487 302 499 311 434 484 483 343 499 297 441 472 493 279 449 455 448 390 463 368 494 423 479 435 492 303 484 334 463 455 567 306 439 459 473 350 522 274 507 284 442 494 490 408 473 341 472 477 438 455 453 455 458 407 459 353 503 324 450 460 469 400 460 420 479 465 463 378 513 283 477 418 492 426 505 326 479 440 507 294 484 393 466 438 483 255 547 299 483 302 520 330 486 380 459 418 532 284 507 456 537 301 442 482 455 492 470 334 469 439 506 418 483 255 427 472 476 328 442 452 557 348 436 394 438 412 532 433 444 472 468 414 489 316 431 475 456 485 527 371 459 410 473 365 462 493 444 411 466 404 490 418 537 353 445 492 483 443 455 416 546 274 485 402 443 480 474 490 450 487 481 324 490 455 501 263 444 443 450 429 545 347 448 427 474 472 485 339 487 369 467 430 423 471 443 492 455 421 494 325 478 417 484 327 415 493 518 361 466 418 457 475 511 341 495 282 420 437 458 463 449 458 481 332 516 338 547 268 467 461 470 376 457 442 444 488 479 458 463 449 486 324 506 335 446 483 491 396 479 382 510 259 486 425 442 476 478 360 467 460 445 424 453 382 467 383 461 486 437 450 442 463 456 464 455 453 462 490 456 445 501 404 476 362 495 300 507 285 501 351 455 407 555 494 469 472 526 268 493 334 440 480 437 495 483 378 502 351 496 483 520 272 474 390 520 362 477 426 464 485 481 396 454 408 522 273 486 303 463 407 457 429 472 448 457 309 439 456 465 429 477 314 444 476 489 434 437 465 466 472 460 395 509 282 456 392 478 332 450 445 491 260 493 339 495 355 474 425 469 293 465 349 425 492 446 454 463 473 423 474 440 448 591 291 470 349 482 254 446 484 435 463 443 446 462 415 461 410 560 341 469 435 424 441 505 325 468 333 471 484 450 429 464 362 580 367 484 397 452 453 459 407 443 489 415 482 454 420 516 270 442 471 474 441 454 476 525 349 493 359 483 379 446 435 491 438 568 448 465 469 462 367 502 296 446 456 485 315 494 385 444 461 466 364 497 432 493 486 462 398 487 327 524 390 472 266 479 253 486 256 443 460 440 443 500 287 478 443 466 384 435 397 475 481 493 309 472 469 456 361 498 379 500 319 468 373 476 377 464 397 492 485 457 416 434 494 442 482 534 444 464 398 430 474 449 472 454 441 452 443 459 429 454 407 468 447 481 430 471 469 440 449 469 486 433 489 461 388 502 378 483 348 470 478 470 347 489 355 516 274 471 445 500 399 432 494 492 417 495 362 465 322 489 312 466 345 479 363 516 284 449 457 499 428 467 494 506 327 489 385 500 273 528 289 446 494 476 443 459 405 445 468 507 372 462 380 462 380 485 279 404 458 511 268 533 341 483 318 505 269 475 327 471 334 476 407 508 294 497 293 455 457 440 494 542 407 488 307 507 359 471 351 511 447 431 481 505 338 466 479 476 446 513 275 457 472 514 286 502 278 441 475 450 469 584 316 507 309 446 467 451 354 460 439 492 284 426 435 571 354 516 281 453 372 539 296 459 337 515 292 523 263 477 449 503 422 441 477 481 306 437 495 468 405 522 359 441 465 448 432 466 375 449 355 490 337 492 294 541 385 528 447 458 462 494 330 486 302 526 285 518 331 454 457 486 332 435 480 463 377 544 273 458 380 527 294 463 440 460 364 497 436 524 273 467 450 467 486 444 468 547 458 486 302 535 312 473 419 465 368 473 334 454 423 462 365 462 389 437 492 456 355 410 482 500 340 459 419 448 401 487 347 488 444 474 438 518 351 548 313 513 400 481 471 530 277 471 346 472 449 500 294 478 489 444 397 495 362 454 479 481 302 505 442 471 317 501 278 475 316 437 455 487 278 446 366 446 412 491 291 489 358 472 402 493 267 486 283 445 389 526 265 436 483 473 281 479 377 481 427 527 421 500 348 459 461 481 283 487 331 431 477 434 495 483 435 501 304 539 377 437 494 528 267 476 487 479 346 482 253 483 282 460 491 482 407 477 363 477 318 472 370 437 482 457 383 488 319 502 290 442 456 442 470 449 408 500 271 519 416 493 253 432 495 500 297 479 391 492 354 442 458 461 471 447 481 458 484 440 463 479 357 434 370 437 470 427 435 455 416 449 490 485 384 423 418 452 487 450 483 476 364 465 449 478 393 488 299 491 367 472 284 504 349 426 471 478 481 443 443 459 457 433 463 510 299 486 260 495 296 476 288 535 304 509 282 469 377 479 412 455 483 450 448 433 489 459 409 548 324 461 379 476 354 484 275 437 406 505 338 486 355 508 291 507 409 497 291 498 347 561 290 442 424 438 458 469 390 473 374 454 455 539 314 479 338 442 439 503 451 492 296 501 280 448 425 471 291 467 372 446 459 510 267 480 339 453 362 481 459 469 416 486 296 537 276 486 379 454 400 469 457 483 330 481 326 439 428 468 407 482 389 456 337 454 479 449 475 458 333 507 437 464 388 475 408 502 383 490 372 447 331 498 324 471 394 488 358 488 433 477 477 488 419 428 427 486 380 484 337 449 416 454 446 413 492 456 467 445 467 442 395 478 353 470 401 450 448 482 299 459 403 474 419 452 453 510 273 459 477 481 306 472 354 513 324 503 367 436 441 546 280 505 284 454 435 436 475 485 352 503 286 539 456 529 356 470 314 412 485 430 474 514 263 428 476 490 356 452 458 499 286 499 450 486 351 470 376 444 488 463 445 497 371 455 402 482 364 478 432 467 413 466 402 459 380 490 377 485 388 504 425 486 354 511 294 463 394 452 483 494 266 451 422 451 430 500 310 416 489 496 332 475 399 441 480 482 307 448 460 451 450 523 445 522 438 491 370 493 361 486 276 454 476 491 336 575 332 447 395 553 334 454 495 460 478 468 370 490 300 465 377 450 485 444 474 458 493 437 485 447 464 473 377 497 258 459 447 477 440 466 472 438 486 429 480 537 356 460 293 428 487 480 408 496 295 458 436 502 288 499 279 462 437 484 364 508 341 470 423 450 450 449 484 467 478 516 266 489 493 503 315 472 406 475 249 489 308 471 345 480 306 484 352 518 349 467 385 463 330 510 341 550 317 452 446 524 272 457 422 465 397 468 416 491 356 455 425 474 387 457 330 476 421 513 371 490 307 505 400 473 494 465 321 469 254 459 447 480 363 483 325 466 389 460 404 465 488 543 341 488 407 473 470 522 327 497 278 498 254 494 395 504 302 473 473 509 410 470 354 444 453 487 274 447 468 479 444 492 300 451 402 456 387 468 422 477 394 424 414 474 408 508 311 491 397 458 428 452 472 421 421 434 468 446 456 548 327 472 356 438 455 488 280 545 427 475 387 503 329 480 321 473 389 474 349 460 383 464 355 478 459 447 443 508 309 479 329 500 289 439 476 523 368 441 480 442 459 450 448 511 317 473 368 471 416 456 394 459 418 474 451 516 288 484 368 476 326 448 408 484 272 431 462 426 468 501 276 486 369 442 456 450 406 475 366 436 468 431 484 463 413 493 376 429 459 479 337 442 455 454 437 438 492 432 400 537 385 491 268 463 349 488 386 509 330 477 305 489 281 441 420 435 477 435 482 426 429 547 311 433 457 471 409 476 442 470 460 471 310 448 460 432 475 430 442 460 423 466 426 460 442 543 290 445 481 495 291 462 416 435 479 448 423 457 421 480 253 452 477 472 318 432 423 488 406 457 415 460 397 585 319 439 473 497 322 491 340 501 484 496 343 496 338 528 316 532 352 490 349 523 322 479 398 469 469 466 312 461 423 493 273 423 489 444 445 494 334 501 478 440 487 463 471 456 380 567 298 483 388 438 427 434 447 485 363 447 452 480 456 476 349 465 432 448 457 447 491 456 421 479 327 447 494 483 446 443 444 488 431 467 456 504 295 507 327 477 371 481 366 424 379 497 283 493 451 481 451 480 325 501 465 543 272 439 464 471 294 439 434 473 460 465 399 513 312 527 449 484 342 527 337 499 258 480 484 481 313 506 302 430 493 466 308 511 430 484 268 495 329 421 477 475 282 467 455 454 409 471 452 496 279 449 491 477 340 428 487 479 432 486 403 448 488 442 479 522 413 482 366 442 425 474 491 494 297 458 418 455 415 422 494 501 301 472 449 428 439 485 257 511 348 516 296 449 445 456 367 460 448 449 420 479 319 442 423 485 324 505 290 470 455 440 456 451 426 453 427 477 351 474 474 494 354 486 306 488 405 510 442 479 351 472 345 450 456 477 330 487 336 456 462 468 420 462 419 491 342 460 400 554 295 479 274 455 433 487 308 455 439 448 447 469 486 449 452 435 452 460 387 473 342 576 311 484 446 475 290 452 468 446 469 503 370 514 304 499 263 504 258 460 373 454 326 528 291 525 322 522 396 495 445 480 359 504 310 581 278 462 405 512 276 488 283 490 320 474 412 495 380 471 301 528 282 449 434 512 469 442 444 484 394 522 264 461 469 468 366 432 487 514 402 436 465 429 486 430 494 467 401 495 392 487 329 463 479 488 382 454 449 441 425 429 461 456 403 452 430 456 315 480 354 504 468 432 448 452 446 464 406 470 378 458 389 455 472 431 493 469 390 482 335 471 485 500 266 438 406 565 402 549 275 502 266 422 492 447 406 460 271 433 465 436 485 436 487 457 406 457 392 441 486 498 280 485 254 569 484 445 440 433 472 447 468 455 421 516 309 517 421 462 379 450 469 428 492 429 491 482 458 498 406 472 312 436 459 421 452 560 290 435 482 522 274 479 382 517 275 482 369 494 296 447 462 422 449 458 447 469 481 441 403 518 288 480 371 472 450 489 270 431 452 460 477 517 335 507 320 456 368 489 429 511 413 491 356 434 472 485 473 473 427 486 404 467 337 482 339 453 412 476 307 455 383 446 481 516 264 599 313 449 425 482 327 527 288 506 277 451 378 482 430 497 269 489 335 463 476 450 437 450 473 472 423 493 292 461 455 479 341 509 491 438 458 463 388 528 468 476 320 434 495 526 421 447 376 441 480 463 409 486 405 536 278 503 264 514 363 458 383 454 419 487 333 481 331 466 465 445 404 474 287 468 411 480 360 469 417 450 458 465 291 430 437 453 376 497 329 503 354 486 424 477 262 486 368 468 462 463 327 450 444 501 478 448 409 478 325 503 268 462 455 465 285 444 473 498 336 438 489 478 442 488 345 444 473 537 373 442 485 467 456 490 308 447 491 466 261 526 418 442 473 510 409 462 408 513 273 436 484 468 352 493 261 465 482 434 481 487 319 483 280 457 491 500 313 455 494 510 485 452 390 430 488 546 267 449 409 472 440 434 412 478 262 463 428 453 406 461 441 465 361 429 486 510 291 435 461 506 348 529 286 467 408 428 492 447 493 464 441 505 338 455 443 484 300 595 470 434 493 472 380 516 332 490 408 421 494 481 430 480 346 432 494 496 386 467 485 496 273 516 353 467 389 502 320 546 396 453 469 523 409 534 387 454 459 494 330 460 421 550 420 460 416 498 320 497 347 471 483 472 325 479 360 459 424 479 441 443 435 504 463 517 324 448 413 472 491 479 476 448 452 421 494 539 383 483 256 472 269 483 282 489 267 473 395 438 493 515 295 485 269 465 378 478 349 493 425 454 435 469 451 472 340 474 346 504 308 469 324 480 491 470 303 465 459 466 357 450 400 444 457 488 329 448 465 498 400 456 433 494 312 551 376 504 321 513 321 453 403 528 343 472 399 468 326 470 345 508 314 429 491 535 291 500 274 496 354 462 430 445 464 469 367 457 390 447 435 439 457 481 283 473 397 496 349 483 450 459 464 440 475 470 437 438 489 484 410 485 477 468 381 564 284 480 324 477 341 509 266 460 375 498 315 450 491 438 438 466 428 480 325 446 376 461 410 483 349 509 322 470 445 525 267 480 312 461 408 517 298 578 375 452 384 464 465 466 350 443 488 497 455 514 404 472 445 457 468 472 485 489 380 507 315 476 413 538 296 476 472 493 297 521 291 448 482 521 369 483 398 433 412 456 479 548 489 454 468 504 302 529 313 506 308 477 326 491 289 463 467 454 404 460 441 447 393 456 426 537 312 484 315 495 300 467 485 458 432 493 313 494 319 439 458 479 325 429 488 488 485 452 402 506 272 443 468 463 376 507 262 455 362 472 282 515 286 521 317 492 318 495 324 465 352 452 486 485 367 444 454 493 314 527 284 451 453 459 461 481 392 551 313 449 490 437 485 492 303 477 494 516 281 507 368 493 273 502 273 488 310 493 295 482 403 421 489 458 421 476 413 430 485 466 458 503 330 525 456 436 452 461 402 560 307 467 370 471 455 547 292 481 314 458 470 479 480 506 269 454 413 488 254 450 424 527 363 492 427 453 438 436 462 482 323 459 462 512 283 491 438 550 383 487 276 447 459 461 352 547 277 462 446 465 324 466 472 464 371 507 359 500 425 441 426 433 478 464 429 458 416 440 462 472 343 512 291 522 345 486 459 465 366 489 337 537 285 435 401 507 305 465 341 481 279 498 284 470 425 497 265 503 384 508 355 467 426 446 382 451 452 490 345 483 340 463 454 454 450 454 366 433 442 434 486 466 481 437 490 481 492 429 490 476 365 464 395 526 338 494 276 446 467 476 414 466 364 490 435 496 382 447 490 470 449 531 303 440 470 466 387 440 404 424 450 495 470 474 358 460 397 457 377 471 386 545 309 541 284 447 428 434 430 504 318 465 374 462 417 457 492 481 455 499 296 477 370 572 305 523 275 500 344 483 333 445 413 480 409 470 491 449 386 451 413 474 476 510 340 504 335 458 446 516 284 481 382 470 433 507 383 532 266 500 348 494 392 429 417 482 425 481 385 465 432 447 488 466 349 497 363 444 473 450 418 439 446 444 491 495 327 452 461 454 432 470 397 458 450 516 365 456 399 457 370 441 471 533 264 497 335 505 307 429 464 467 433 440 492 427 474 579 292 445 445 480 275 494 309 492 293 448 479 469 400 491 310 460 435 506 298 477 395 453 468 438 440 455 427 544 293 455 437 464 351 421 488 423 433 447 357 492 377 433 440 475 274 456 403 427 495 486 406 541 440 501 292 541 300 470 407 476 428 446 448 462 328 440 433 454 482 443 474 492 286 502 275 446 400 492 327 478 373 457 488 461 317 478 432 457 484 468 466 522 327 486 298 471 410 471 352 466 470 487 398 491 318 479 332 499 329 439 412 506 360 453 411 478 402 490 412 498 414 574 310 518 261 467 367 501 274 459 360 482 382 487 304 526 304 536 358 490 384 505 276 524 340 466 305 518 327 451 476 488 265 462 409 503 438 512 354 529 339 515 327 481 252 517 265 468 326 460 432 443 481 472 456 439 461 476 380 525 313 450 369 454 326 430 412 485 324 454 421 495 259 420 490 484 277 445 484 469 319 485 263 465 383 458 439 568 275 539 326 469 395 484 268 446 439 499 271 461 439 489 434 466 413 474 370 461 433 485 286 479 366 484 306 491 467 485 475 473 377 464 353 485 321 509 258 473 304 465 371 496 337 472 445 506 335 459 410 447 417 470 358 453 428 492 289 541 286 494 300 490 336 477 418 484 291 477 400 460 387 487 319 471 360 447 405 456 419 427 493 497 255 441 461 445 474 485 390 469 401 496 255 458 476 465 392 483 403 499 305 440 469 462 455 461 462 462 458 451 403 521 300 448 450 504 296 489 402 477 347 505 414 468 350 527 311 512 335 489 330 472 429 463 466 475 423 469 389 469 308 494 373 488 290 490 435 510 260 461 381 513 287 487 252 477 394 465 342 496 321 449 399 451 412 501 427 481 297 499 383 464 375 456 383 451 344 526 278 478 374 440 405 505 260 412 426 491 298 490 401 489 349 451 468 453 371 447 446 476 326 429 487 508 302 423 472 458 431 430 464 570 337 462 480 445 428 466 427 498 347 448 483 522 322 547 351 501 297 500 310 494 264 477 448 460 363 452 461 545 450 487 372 485 303 484 432 498 337 469 447 469 355 496 371 493 379 559 415 438 479 463 412 520 292 441 451 505 380 502 374 497 401 500 450 462 467 518 388 440 473 458 495 534 269 486 386 412 483 492 337 536 344 479 465 425 490 477 324 472 348 434 478 464 398 542 327 451 431 446 463 507 303 506 257 505 330 498 359 485 321 484 290 461 358 431 448 485 350 500 261 459 364 528 449 437 430 478 322 435 483 459 419 515 335 468 360 476 349 494 349 481 438 484 255 498 476 450 444 459 481 501 292 468 298 479 322 442 462 559 282 453 455 454 432 464 355 476 481 481 343 527 420 505 343 414 489 486 451 549 300 499 363 444 404 450 376 570 438 444 472 459 467 455 481 479 348 446 450 494 256 509 306 459 358 506 405 418 470 487 474 450 468 498 285 468 467 516 262 451 442 515 325 447 448 426 481 445 388 497 314 487 361 516 315 500 291 501 305 458 356 458 426 537 267 479 434 527 278 438 418 453 412 478 367 512 288 512 302 448 489 527 301 423 449 453 483 501 352 444 450 488 361 511 265 477 363 511 437 527 286 459 416 461 384 490 268 513 320 456 490 485 334 477 421 471 312 488 491 494 284 465 435 443 461 470 398 448 433 450 388 460 388 431 491 471 369 501 290 600 415 445 479 499 441 433 480 443 424 507 286 437 494 492 378 475 316 519 271 414 483 492 309 474 470 483 308 491 282 477 429 449 368 434 482 444 392 478 279 451 488 499 396 471 432 427 442 441 483 515 419 441 419 450 425 426 445 470 437 503 297 448 492 473 437 440 471 465 407 451 444 445 409 454 408 447 394 500 404 433 421 469 305 440 422 449 491 511 338 471 295 613 354 430 433 465 440 464 382 527 349 423 482 437 484 445 437 481 306 483 314 519 386 492 305 513 296 454 373 462 407 479 403 422 439 456 459 444 489 520 398 445 473 554 433 418 484 476 330 470 445 532 365 527 324 507 286 440 405 490 352 447 371 483 303 431 442 443 490 488 409 505 391 435 425 479 418 444 475 513 472 455 383 466 361 553 321 463 400 472 352 459 433 471 374 506 260 449 423 501 303 448 476 429 467 496 255 458 469 474 384 469 438 438 471 448 446 477 333 459 437 506 286 439 464 458 381 475 441 542 267 548 295 477 405 458 423 467 456 488 279 559 338 503 350 469 342 468 349 489 291 433 490 486 332 483 280 447 429 420 493 458 479 448 486 495 285 541 294 466 344 495 478 465 367 420 485 460 426 494 381 447 442 445 482 465 423 514 494 450 427 506 356 521 369 474 431 524 334 473 352 438 448 478 372 464 484 489 315 506 289 513 326 459 442 450 402 492 459 453 416 470 368 434 452 508 492 448 484 506 463 478 373 431 464 488 422 470 494 431 391 507 261 509 273 478 441 452 427 452 463 458 442 490 349 468 379 540 318 526 263 460 483 466 353 485 391 502 468 435 472 476 415 482 471 512 366 453 478 479 466 438 470 455 442 434 473 461 470 480 311 476 288 492 281 492 342 506 464 496 481 475 426 469 403 463 361 481 291 438 492 479 327 505 258 499 319 465 438 453 441 458 441 462 354 443 475 436 458 442 482 471 313 494 350 501 366 539 374 456 493 491 474 459 416 482 426 454 394 452 352 494 378 479 328 435 439 459 403 493 297 458 454 493 334 477 460 482 291 492 338 495 482 500 297 520 289 477 425 492 254 472 382 509 304 484 410 486 407 495 260 463 455 441 485 479 313 476 320 447 469 424 451 423 417 438 491 460 451 567 451 478 357 507 284 484 396 448 445 443 464 528 282 475 452 475 463 472 452 446 459 432 447 518 379 486 347 572 284 502 320 466 484 502 288 466 398 431 475 510 455 459 433 509 317 464 412 464 394 519 356 467 340 469 330 614 349 508 366 422 495 452 489 496 286 475 414 473 453 497 270 465 343 498 336 471 437 443 487 439 427 492 257 447 472 480 298 548 396 560 386 506 357 472 412 512 370 437 437 464 426 482 457 503 257 481 482 453 421 545 324 484 468 463 489 525 384 469 343 509 471 472 386 434 454 493 439 520 343 477 371 433 483 461 433 495 459 420 474 452 454 472 419 452 429 451 494 496 256 441 460 453 397 473 373 447 410 488 276 532 346 502 401 502 327 438 494 452 399 462 382 441 425 470 413 476 413 554 348 460 462 479 416 507 470 451 431 467 380 495 374 525 275 464 434 523 317 494 343 483 255 492 413 427 410 463 341 457 485 477 375 520 346 470 402 517 365 454 480" fill="none" marker-start="url(#md)" marker-mid="url(#md)" marker-end="url(#md)"/><path d="M1293 291 1328 442 1240 443 1204 383 1304 373 1300 432 1233 428 1276 469 1242 449 1294 381 1199 448 1244 411 1173 454 1238 437 1294 393 1324 439 1259 329 1296 414 1207 443 1237 405 1241 395 1313 358 1254 437 1193 452 1260 458 1217 482 1235 427 1250 400 1237 437 1213 480 1196 476 1211 417 1322 378 1196 426 1294 361 1274 424 1306 399 1204 375 1250 415 1283 354 1236 443 1249 417 1265 414 1256 346 1228 411 1269 483 1270 473 1183 441 1230 402 1213 440 1240 346 1258 318 1273 354 1263 417 1258 378 1311 402 1180 423 1306 344 1226 431 1251 449 1252 395 1296 410 1325 434 1231 381 1213 396 1282 457 1183 435 1270 368 1238 391 1221 467 1196 324 1234 408 1316 394 1252 365 1259 439 1328 458 1307 400 1280 390 1221 471 1342 421 1192 409 1255 394 1288 355 1251 450 1262 389 1248 370 1210 437 1293 391 1304 459 1212 396 1218 474 1278 372 1219 384 1195 475 1263 382 1317 344 1266 426 1243 428 1264 373 1256 432 1277 401 1254 394 1257 452 1218 452 1256 389 1241 446 1245 490 1259 430 1214 393 1270 406 1318 490 1296 361 1300 463 1263 475 1268 340 1212 410 1223 331 1268 438 1192 468 1227 337 1251 401 1194 378 1272 374 1321 430 1292 389 1275 374 1341 350 1245 335 1251 384 1215 356 1213 365 1210 380 1269 474 1222 439 1270 470 1280 453 1320 481 1320 379 1181 391 1326 326 1293 452 1217 403 1195 313 1258 468 1255 416 1289 427 1254 376 1241 396 1243 370 1268 366 1245 462 1295 379 1292 465 1232 459 1233 488 1278 386 1220 461 1238 390 1314 407 1293 480 1236 399 1238 416 1282 433 1332 461 1314 430 1314 387 1262 356 1285 460 1192 445 1344 425 1199 382 1285 386 1292 434 1176 446 1295 433 1305 377 1221 443 1266 399 1309 427 1302 484 1299 450 1281 463 1189 382 1286 341 1258 440 1244 410 1225 402 1245 380 1243 450 1253 461 1259 465 1324 412 1206 396 1294 451 1185 489 1279 420 1294 460 1327 435 1300 417 1330 356 1275 425 1325 373 1242 425 1256 426 1243 348 1181 369 1266 454 1306 469 1312 443 1244 392 1331 409 1233 475 1223 422 1240 360 1190 462 1244 456 1196 358 1241 444 1209 456 1327 349 1288 483 1243 393 1291 403 1261 349 1307 486 1219 320 1241 454 1189 385 1289 455 1246 460 1283 454 1249 439 1249 352 1251 471 1196 419 1276 409 1175 443 1336 433 1185 341 1225 439 1183 399 1297 337 1238 399 1343 437 1296 346 1256 480 1263 359 1275 408 1335 387 1227 414 1250 397 1262 454 1246 435 1199 464 1255 310 1294 415 1287 368 1197 431 1328 480 1240 490 1307 482 1244 365 1313 474 1312 453 1187 361 1206 370 1228 485 1286 264 1240 443 1252 430 1234 413 1267 436 1205 315 1210 450 1249 447 1319 343 1242 442 1312 363 1321 430 1216 396 1251 388 1326 362 1244 438 1257 478 1287 452 1214 476 1271 472 1341 457 1231 449 1305 444 1234 453 1214 390 1267 494 1203 448 1271 357 1285 434 1209 437 1248 485 1177 411 1304 376 1262 421 1309 346 1232 386 1193 405 1219 437 1210 459 1223 460 1264 469 1235 454 1287 372 1214 409 1244 394 1182 463 1330 414 1272 424 1319 403 1232 421 1330 458 1313 288 1299 410 1306 394 1291 333 1258 393 1232 478 1227 441 1304 466 1286 387 1308 334 1296 413 1252 372 1236 409 1260 479 1305 484 1197 485 1344 457 1188 474 1174 428 1338 357 1287 432 1324 365 1320 401 1344 411 1252 426 1322 423 1254 363 1227 434 1200 369 1237 467 1263 429 1256 473 1291 456 1310 427 1269 384 1220 377 1226 492 1247 467 1278 467 1290 413 1244 426 1315 390 1200 426 1265 453 1277 449 1245 398 1215 474 1289 442 1240 443 1195 356 1215 410 1286 380 1223 416 1316 411 1218 418 1241 431 1209 482 1263 324 1220 430 1252 491 1285 457 1236 348 1258 472 1306 495 1220 454 1220 425 1176 433 1330 455 1196 410 1217 460 1298 399 1186 418 1310 434 1305 419 1180 425 1282 342 1309 316 1256 382 1293 405 1332 472 1276 441 1206 430 1258 473 1246 407 1219 487 1281 392 1247 431 1292 349 1326 414 1231 328 1335 380 1225 322 1191 411 1276 487 1300 467 1285 471 1318 468 1253 454 1268 435 1325 416 1279 447 1246 400 1214 429 1231 371 1343 443 1298 300 1239 490 1298 318 1258 396 1291 398 1235 420 1251 411 1257 412 1288 478 1289 357 1255 369 1246 404 1300 326 1192 454 1260 399 1316 476 1205 456 1259 339 1231 463 1303 333 1279 431 1276 441 1318 406 1254 331 1202 464 1306 358 1267 430 1205 330 1267 365 1269 336 1259 396 1253 464 1310 410 1228 368 1253 414 1286 435 1231 408 1232 456 1275 469 1332 386 1270 423 1235 434 1277 368 1270 319 1224 309 1274 315 1196 453 1254 452 1305 476 1268 457 1233 394 1258 473 1313 468 1256 367 1216 468 1235 427 1227 396 1252 431 1248 352 1190 415 1251 401 1254 388 1274 431 1204 424 1235 394 1300 301 1300 410 1311 416 1224 389 1256 371 1279 442 1265 473 1226 406 1212 305 1211 427 1271 362 1261 484 1256 423 1321 446 1209 400 1239 459 1274 336 1288 448 1243 462 1221 381 1243 411 1282 333 1254 421 1319 396 1277 404 1236 442 1315 426 1256 437 1261 424 1301 410 1211 414 1289 474 1306 417 1218 410 1324 414 1275 477 1193 385 1238 432 1262 337 1242 461 1189 444 1212 432 1226 417 1273 401 1345 284 1215 385 1345 365 1225 449 1270 409 1197 435 1264 414 1320 422 1273 392 1259 423 1258 491 1202 447 1227 381 1208 360 1328 480 1245 326 1295 450 1273 392 1274 420 1235 409 1184 474 1256 359 1266 482 1251 422 1231 360 1275 434 1238 469 1240 450 1295 421 1300 364 1300 347 1262 443 1274 413 1290 419 1200 383 1231 407 1254 427 1259 418 1217 418 1275 343 1307 412 1310 433 1278 418 1306 336 1269 491 1263 434 1212 440 1289 404 1183 465 1316 433 1319 455 1241 388 1263 440 1192 398 1270 342 1223 446 1259 440 1318 449 1308 413 1264 421 1205 485 1193 385 1195 410 1273 394 1255 433 1196 363 1274 483 1224 444 1213 428 1253 385 1276 409 1248 417 1215 381 1309 447 1268 460 1309 364 1312 404 1189 486 1215 429 1213 408 1222 481 1270 387 1256 423 1247 276 1208 481 1223 305 1230 425 1181 405 1305 362 1261 432 1258 406 1253 446 1180 412 1279 399 1264 349 1218 412 1226 387 1248 410 1214 401 1255 438 1258 350 1231 424 1266 410 1269 481 1301 464 1247 472 1261 416 1272 362 1296 467 1347 399 1290 477 1264 489 1227 412 1210 455 1271 368 1278 458 1212 451 1283 428 1302 433 1249 426 1324 461 1282 360 1263 471 1268 377 1278 376 1304 481 1254 406 1293 362 1302 480 1259 395 1307 413 1298 345 1248 429 1246 432 1332 442 1245 433 1301 434 1294 428 1303 327 1209 453 1199 406 1270 401 1238 285 1285 354 1342 374 1263 369 1296 402 1253 403 1327 406 1232 444 1234 408 1248 396 1339 456 1173 471 1281 452 1277 468 1267 408 1344 423 1228 448 1277 368 1312 461 1331 469 1193 386 1265 495 1294 429 1243 474 1344 485 1170 430 1227 433 1224 393 1273 355 1240 430 1261 400 1222 400 1304 393 1247 440 1320 403 1250 434 1278 339 1195 356 1241 384 1245 466 1329 451 1200 400 1215 454 1217 423 1228 450 1267 402 1231 444 1265 419 1265 333 1270 433 1210 293 1236 438 1258 436 1254 294 1292 397 1274 415 1283 287 1298 394 1282 483 1259 373 1205 422 1259 431 1218 473 1300 472 1286 471 1274 345 1239 390 1230 464 1337 378 1303 375 1221 414 1232 375 1231 329 1254 455 1203 336 1227 412 1237 322 1219 425 1222 346 1266 398 1244 475 1293 432 1207 380 1315 324 1223 483 1273 378 1291 391 1333 334 1278 426 1280 417 1325 415 1242 351 1265 361 1262 468 1265 454 1314 431 1281 455 1289 318 1274 326 1213 445 1221 394 1338 302 1275 442 1222 407 1228 469 1302 492 1288 414 1272 443 1224 388 1209 466 1256 456 1276 421 1261 410 1322 421 1265 348 1309 423 1332 379 1288 368 1280 358 1202 439 1232 431 1237 435 1222 445 1229 457 1198 444 1246 482 1287 428 1254 379 1209 432 1266 327 1258 475 1321 410 1342 342 1198 405 1245 393 1265 482 1236 447 1222 456 1284 493 1254 398 1237 347 1216 414 1275 398 1225 459 1248 404 1243 451 1303 365 1229 409 1186 413 1270 317 1276 441 1242 404 1213 361 1193 419 1305 399 1324 403 1278 371 1341 455 1242 394 1199 462 1324 367 1248 361 1246 387 1253 434 1266 463 1278 456 1309 474 1268 432 1243 491 1340 473 1281 427 1239 441 1190 434 1323 442 1198 411 1225 427 1235 352 1221 414 1305 486 1267 323 1283 445 1259 481 1234 416 1323 443 1282 398 1278 390 1279 384 1298 355 1285 395 1287 373 1223 406 1242 404 1251 407 1197 437 1201 337 1327 411 1249 361 1242 439 1183 429 1215 388 1242 445 1345 444 1243 373 1315 344 1311 355 1182 441 1262 404 1242 310 1230 408 1279 419 1325 390 1312 423 1265 413 1192 409 1251 491 1252 437 1219 436 1206 401 1280 430 1266 446 1266 398 1265 457 1246 448 1189 420 1198 493 1247 424 1264 392 1284 369 1287 452 1277 447 1319 407 1314 385 1292 361 1292 468 1282 455 1272 414 1264 440 1313 430 1240 382 1321 397 1230 351 1309 356 1287 440 1241 412 1268 447 1299 406 1228 380 1301 434 1206 405 1306 403 1292 339 1275 416 1272 416 1289 448 1201 398 1303 353 1290 401 1197 367 1216 418 1299 425 1192 321 1275 378 1334 435 1187 361 1200 417 1309 377 1230 422 1344 408 1260 389 1203 404 1268 417 1215 381 1273 443 1236 415 1169 434 1283 415 1316 483 1265 489 1207 415 1238 461 1251 416 1311 377 1259 462 1274 454 1284 382 1339 471 1212 427 1252 480 1304 445 1275 377 1198 412 1254 455 1266 367 1338 417 1305 430 1257 457 1180 437 1245 410 1210 374 1180 408 1304 398 1223 467 1214 471 1298 375 1322 411 1284 427 1276 365 1300 421 1239 397 1300 453 1194 417 1306 435 1200 491 1297 395 1241 353 1265 403 1228 438 1244 451 1188 363 1244 402 1275 333 1192 348 1210 349 1185 413 1292 417 1191 371 1266 437 1220 406 1191 456 1231 378 1243 488 1238 422 1232 397 1235 339 1275 283 1269 368 1271 427 1242 418 1331 369 1222 413 1232 315 1205 399 1290 403 1268 438 1252 476 1241 417 1265 352 1282 374 1296 318 1285 481 1250 488 1308 399 1291 429 1318 448 1306 340 1241 444 1286 438 1211 461 1247 403 1268 421 1233 437 1226 428 1268 388 1181 417 1267 453 1290 420 1266 420 1252 457 1239 416 1212 454 1318 464 1246 296 1236 310 1229 386 1238 384 1292 456 1224 367 1319 477 1253 451 1294 450 1244 425 1278 398 1269 421 1194 437 1280 392 1325 401 1239 455 1196 470 1229 451 1296 444 1249 431 1245 461 1193 423 1213 465 1288 487 1274 431 1295 425 1252 431 1203 351 1176 489 1290 380 1293 427 1238 362 1328 420 1258 440 1209 366 1342 444 1309 424 1240 408 1231 495 1281 486 1317 467 1286 425 1287 424 1219 353 1228 337 1301 484 1282 289 1255 458 1232 371 1223 492 1302 366 1344 397 1251 469 1210 445 1207 463 1263 332 1289 435 1214 366 1257 395 1273 465 1225 316 1283 446 1264 376 1262 405 1238 453 1192 423 1248 437 1199 397 1325 479 1299 354 1254 390 1249 397 1306 336 1281 381 1270 475 1312 434 1225 455 1292 439 1221 386 1211 426 1306 345 1309 445 1210 404 1233 440 1236 410 1229 431 1252 431 1295 455 1281 428 1309 456 1236 352 1339 365 1227 428 1193 418 1276 350 1298 380 1183 477 1226 458 1253 413 1290 365 1187 460 1287 432 1261 360 1224 459 1199 485 1315 467 1333 376 1207 399 1231 395 1281 422 1256 374 1211 369 1229 452 1281 416 1295 381 1228 449 1210 466 1242 463 1327 430 1211 492 1263 435 1236 404 1336 449 1340 422 1188 349 1255 473 1305 419 1248 376 1253 331 1315 387 1188 462 1196 347 1268 425 1283 404 1219 431 1326 418 1232 372 1284 482 1197 450 1213 435 1313 436 1259 366 1268 446 1296 304 1214 423 1281 417 1336 369 1319 452 1272 417 1265 409 1279 470 1258 485 1241 389 1215 402 1302 386 1262 378 1303 413 1230 413 1250 403 1286 456 1301 460 1309 358 1281 434 1293 443 1260 351 1251 384 1225 486 1218 378 1328 437 1251 292 1306 407 1256 350 1267 365 1288 453 1311 449 1211 466 1258 446 1252 418 1221 417 1212 451 1298 418 1176 453 1244 412 1277 432 1240 370 1231 410 1190 444 1324 383 1314 451 1326 484 1174 444 1224 401 1289 400 1296 380 1271 422 1253 434 1173 460 1264 324 1234 448 1304 437 1259 389 1209 380 1302 353 1250 390 1275 418 1316 452 1295 474 1295 418 1229 371 1286 366 1242 330 1281 479 1337 493 1302 451 1312 440 1329 407 1260 453 1240 427 1251 424 1219 493 1275 388 1185 425 1237 376 1227 354 1255 432 1278 377 1306 376 1268 439 1267 411 1312 455 1306 462 1223 417 1239 441 1186 479 1333 437 1278 367 1237 454 1289 478 1190 449 1280 434 1258 460 1202 378 1274 426 1195 382 1312 282 1279 425 1296 430 1228 410 1201 447 1250 436 1265 449 1198 351 1248 414 1302 413 1282 434 1317 461 1186 433 1340 349 1331 371 1195 340 1258 482 1324 452 1247 413 1230 358 1256 455 1240 475 1281 478 1344 482 1229 399 1236 434 1265 420 1290 449 1205 432 1206 404 1297 393 1337 330 1242 403 1284 462 1250 448 1219 442 1287 372 1287 429 1260 472 1270 476 1226 413 1294 491 1264 381 1326 345 1258 493 1192 459 1256 418 1189 471 1239 391 1244 471 1221 395 1319 482 1270 437 1246 411 1275 392 1310 476 1260 432 1281 382 1274 395 1247 443 1270 373 1207 418 1196 417 1315 378 1274 251 1265 371 1346 467 1325 453 1286 384 1327 411 1189 408 1251 346 1235 325 1238 315 1222 408 1341 422 1225 377 1279 460 1239 386 1260 488 1306 307 1245 460 1329 475 1223 380 1299 425 1181 450 1268 391 1303 450 1325 473 1305 434 1195 460 1260 493 1221 372 1272 412 1268 458 1261 388 1288 298 1285 468 1240 429 1256 387 1204 451 1241 402 1322 341 1168 456 1275 370 1325 476 1226 458 1306 380 1312 442 1195 373 1265 473 1328 368 1252 429 1195 473 1277 416 1245 473 1265 455 1221 392 1219 364 1225 470 1263 437 1268 442 1228 438 1243 426 1266 358 1324 432 1320 262 1311 397 1315 364 1255 409 1280 329 1205 453 1298 482 1249 463 1300 481 1278 355 1268 404 1342 433 1320 331 1195 368 1236 396 1196 353 1282 397 1283 429 1192 488 1263 347 1307 472 1295 264 1246 417 1341 402 1212 479 1342 323 1297 368 1282 312 1245 493 1261 402 1244 392 1268 430 1257 442 1222 455 1174 425 1319 418 1280 398 1270 453 1334 440 1213 479 1255 348 1294 458 1305 377 1191 356 1308 477 1212 407 1191 471 1277 474 1330 436 1232 404 1240 334 1203 468 1240 442 1227 385 1233 408 1207 394 1320 289 1239 419 1248 445 1249 466 1188 422 1275 440 1315 399 1198 463 1257 353 1295 363 1293 373 1218 483 1301 457 1246 424 1332 457 1295 348 1294 348 1277 435 1274 441 1287 427 1275 354 1244 448 1252 400 1271 400 1243 491 1222 337 1220 417 1343 473 1315 404 1278 452 1198 370 1218 433 1249 431 1211 438 1218 393 1227 454 1218 419 1204 454 1288 406 1221 458 1280 427 1193 411 1281 430 1279 452 1261 493 1228 428 1286 436 1233 459 1263 422 1198 417 1222 454 1227 386 1316 351 1247 428 1321 409 1253 387 1248 414 1275 294 1316 420 1339 460 1241 407 1259 415 1218 477 1235 436 1270 471 1260 408 1243 411 1215 367 1344 378 1209 428 1240 423 1264 423 1241 396 1235 451 1273 425 1268 467 1225 453 1265 491 1324 471 1223 416 1278 482 1262 415 1277 482 1276 468 1176 416 1344 454 1268 458 1259 417 1190 494 1301 464 1286 359 1262 444 1280 464 1329 409 1218 473 1259 462 1256 404 1291 447 1264 393 1210 349 1288 444 1300 382 1251 403 1168 491 1251 434 1252 403 1261 385 1286 430 1241 456 1251 403 1299 487 1185 462 1347 411 1223 446 1233 401 1228 390 1265 433 1242 462 1225 409 1208 467 1236 484 1301 443 1237 355 1273 338 1222 486 1256 375 1233 400 1259 423 1293 451 1234 447 1209 409 1188 425 1256 360 1202 375 1263 472 1282 467 1259 454 1206 466 1252 430 1185 418 1300 491 1264 430 1282 376 1288 373 1248 478 1227 400 1264 271 1267 383 1287 477 1173 462 1249 418 1330 441 1283 356 1317 455 1222 380 1242 432 1292 455 1231 377 1216 425 1249 421 1225 398 1274 422 1228 447 1332 423 1283 365 1267 410 1316 438 1190 367 1241 384 1253 440 1237 455 1274 423 1291 426 1205 427 1340 435 1345 436 1292 484 1326 417 1214 417 1278 327 1232 384 1295 426 1209 422 1258 480 1298 407 1237 414 1273 392 1192 483 1243 460 1258 365 1235 415 1294 470 1253 462 1194 383 1277 476 1261 459 1259 430 1283 426 1286 424 1229 359 1190 414 1268 425 1237 334 1231 426 1188 375 1216 385 1268 484 1268 381 1282 421 1199 369 1190 406 1216 391 1265 390 1187 455 1244 397 1309 363 1271 321 1182 416 1338 425 1331 335 1276 446 1314 389 1291 309 1270 396 1219 397 1307 384 1274 461 1251 376 1271 461 1208 337 1170 438 1318 491 1189 346 1234 395 1278 490 1213 402 1221 428 1220 427 1207 452 1302 371 1295 437 1221 469 1259 381 1241 466 1301 358 1308 464 1294 364 1202 490 1227 335 1258 442 1268 408 1295 346 1270 384 1278 448 1256 437 1251 481 1294 486 1282 382 1187 455 1241 413 1311 402 1323 425 1222 454 1281 351 1332 383 1217 435 1215 423 1299 478 1248 472 1229 456 1265 440 1297 430 1215 369 1274 491 1216 433 1260 461 1243 331 1246 432 1192 464 1274 420 1257 364 1219 368 1204 418 1281 291 1205 456 1336 468 1260 490 1277 256 1313 358 1290 385 1262 385 1266 447 1186 410 1224 459 1185 470 1261 393 1273 418 1328 423 1279 465 1223 379 1218 448 1257 427 1269 366 1226 447 1209 307 1246 428 1257 278 1286 379 1335 492 1177 450 1225 414 1218 460 1292 373 1296 445 1288 351 1286 458 1324 449 1284 425 1329 414 1237 448 1275 385 1250 405 1262 478 1278 358 1309 464 1268 361 1315 458 1247 367 1286 403 1329 464 1332 467 1282 421 1346 460 1212 462 1217 454 1265 412 1276 413 1259 430 1268 424 1259 408 1201 455 1235 438 1239 443 1315 311 1323 411 1300 440 1258 462 1252 381 1315 387 1303 397 1325 401 1280 488 1176 464 1279 387 1267 413 1195 339 1296 353 1255 464 1217 380 1283 435 1234 437 1244 443 1242 433 1226 476 1247 469 1227 348 1268 426 1217 373 1166 480 1273 384 1240 445 1236 398 1287 388 1215 423 1263 401 1233 442 1241 451 1237 375 1254 468 1263 443 1210 436 1300 432 1269 401 1250 456 1291 375 1224 323 1203 479 1220 444 1307 495 1292 437 1216 419 1222 453 1225 436 1259 393 1233 338 1327 459 1243 492 1232 467 1230 388 1252 443 1314 394 1281 479 1200 370 1219 421 1258 463 1263 411 1342 425 1204 428 1306 444 1199 400 1227 442 1276 449 1231 434 1179 404 1221 430 1183 416 1209 376 1312 430 1228 470 1314 400 1286 460 1343 414 1291 429 1289 395 1279 377 1239 470 1302 384 1273 398 1304 401 1208 445 1298 433 1300 418 1250 377 1228 381 1292 451 1306 455 1229 487 1272 413 1308 417 1200 449 1303 313 1254 467 1196 346 1260 455 1283 424 1278 412 1261 393 1268 483 1338 445 1316 366 1299 463 1266 317 1261 319 1245 470 1305 464 1272 458 1254 450 1251 457 1234 419 1216 417 1311 449 1227 466 1223 396 1211 386 1258 444 1262 389 1335 459 1263 396 1203 403 1218 436 1297 433 1209 450 1289 377 1202 414 1193 445 1244 411 1289 326 1223 333 1190 381 1317 487 1345 411 1347 390 1195 407 1277 421 1308 400 1266 430 1235 320 1284 391 1296 326 1231 432 1302 328 1266 444 1239 385 1201 409 1294 438 1240 477 1207 347 1279 359 1307 305 1260 468 1336 388 1223 489 1220 425 1292 420 1259 468 1230 331 1278 467 1243 398 1308 348 1230 457 1336 374 1300 408 1190 395 1322 402 1269 377 1274 412 1276 489 1254 427 1193 355 1182 348 1253 458 1288 484 1229 429 1329 440 1198 428 1278 377 1192 347 1198 463 1279 459 1225 482 1188 492 1216 388 1204 425 1272 419 1257 464 1340 412 1188 397 1215 374 1313 479 1216 369 1208 467 1282 435 1250 423 1297 409 1243 492 1273 400 1189 402 1224 340 1287 462 1239 377 1248 377 1298 480 1243 447 1339 420 1320 376 1194 459 1319 433 1243 400 1315 299 1264 440 1163 478 1345 485 1169 481 1214 438 1239 452 1266 437 1204 428 1254 417 1252 447 1279 444 1204 327 1203 381 1231 416 1290 421 1211 400 1220 374 1342 471 1229 402 1245 387 1270 414 1251 420 1328 428 1280 474 1339 494 1269 383 1293 399 1259 360 1339 389 1196 435 1219 396 1236 426 1281 309 1208 375 1231 438 1211 327 1280 440 1241 461 1329 333 1320 445 1274 366 1249 463 1213 456 1221 452 1181 483 1307 407 1254 483 1202 479 1221 339 1283 406 1271 423 1332 322 1213 392 1254 473 1242 472 1250 395 1300 409 1213 342 1280 387 1269 410 1231 464 1246 419 1250 450 1299 462 1219 390 1292 251 1249 342 1310 465 1255 378 1256 481 1181 436 1346 418 1186 369 1218 359 1266 449 1206 417 1260 418 1228 357 1239 374 1190 370 1272 456 1294 447 1274 459 1334 410 1215 434 1238 450 1257 445 1347 384 1272 485 1331 409 1277 415 1306 462 1297 340 1273 451 1325 444 1260 378 1321 406 1246 485 1211 401 1252 431 1284 359 1347 429 1208 403 1330 458 1268 483 1310 475 1292 393 1188 494 1215 466 1265 436 1295 409 1226 475 1219 450 1287 428 1308 409 1195 480 1235 398 1240 316 1291 447 1281 397 1268 390 1253 395 1216 439 1256 359 1226 451 1244 359 1294 382 1255 413 1219 446 1284 297 1287 386 1226 431 1286 475 1279 411 1264 435 1264 413 1191 436 1215 424 1280 419 1258 368 1258 416 1273 402 1296 368 1209 426 1178 421 1260 406 1257 418 1284 305 1256 377 1262 419 1203 422 1194 457 1290 454 1210 391 1255 383 1211 350 1212 416 1254 453 1238 396 1185 447 1267 432 1229 451 1278 418 1318 438 1267 394 1287 326 1196 433 1303 430 1211 460 1195 407 1338 370 1311 411 1278 372 1225 461 1224 328 1237 457 1280 397 1210 478 1278 402 1245 364 1321 412 1222 407 1290 388 1191 372 1297 457 1221 434 1244 372 1303 484 1334 428 1311 433 1297 420 1263 356 1208 460 1288 368 1264 487 1257 434 1256 482 1227 494 1214 422 1211 442 1252 346 1262 390 1345 465 1170 464 1274 383 1228 397 1331 346 1218 375 1176 448 1259 414 1256 436 1231 457 1253 419 1268 324 1343 450 1284 396 1298 444 1268 300 1246 459 1280 428 1214 390 1241 370 1241 334 1270 469 1201 456 1211 399 1231 442 1194 390 1269 400 1219 349 1196 494 1291 450 1289 473 1307 388 1193 441 1249 413 1298 376 1296 430 1334 384 1307 395 1280 372 1300 387 1220 436 1261 385 1267 432 1231 399 1231 380 1211 445 1249 446 1237 377 1180 486 1264 426 1260 416 1310 379 1270 440 1261 382 1207 368 1272 446 1230 384 1304 475 1234 393 1314 475 1244 411 1278 348 1268 468 1277 462 1252 415 1301 287 1193 450 1231 428 1263 483 1312 472 1319 402 1326 486 1217 428 1215 416 1294 422 1274 448 1265 399 1321 326 1285 341 1246 376 1240 427 1208 343 1271 463 1269 355 1214 386 1216 339 1250 360 1235 468 1287 408 1210 472 1308 457 1277 447 1247 399 1340 330 1347 398 1228 312 1208 433 1298 476 1245 445 1290 445 1237 488 1315 463 1239 454 1231 430 1215 406 1302 422 1282 464 1247 341 1290 445 1282 409 1231 418 1230 466 1272 350 1236 412 1335 420 1266 452 1275 352 1180 411 1225 382 1300 437 1305 459 1291 491 1239 495 1206 408 1198 484 1291 442 1250 383 1278 436 1251 333 1263 363 1271 434 1258 390 1240 450 1215 479 1241 365 1233 449 1230 435 1278 466 1331 449 1251 468 1192 447 1225 389 1254 453 1255 442 1272 417 1288 414 1207 390 1226 298 1243 483 1242 375 1200 438 1251 410 1295 366 1326 461 1235 401 1291 421 1315 363 1315 352 1284 482 1239 394 1247 453 1202 421 1262 434 1189 407 1238 421 1291 423 1246 350 1233 407 1241 380 1215 369 1276 479 1207 421 1241 418 1325 461 1227 374 1337 494 1237 415 1316 416 1188 493 1247 470 1346 385 1222 452 1202 349 1315 410 1233 493 1202 465 1225 421 1231 363 1242 441 1300 400 1242 396 1234 495 1282 343 1195 461 1211 371 1249 323 1244 393 1324 451 1282 494 1279 475 1270 400 1330 488 1275 374 1215 347 1297 430 1213 369 1320 401 1283 383 1249 424 1281 328 1236 339 1209 463 1304 416 1294 400 1264 454 1226 421 1222 333 1168 489 1266 492 1287 400 1250 474 1203 437 1277 442 1311 409 1308 444 1218 403 1215 342 1324 427 1258 418 1256 442 1339 412 1270 423 1267 406 1313 436 1233 450 1264 355 1209 453 1206 366 1220 404 1334 351 1304 398 1223 446 1287 372 1313 419 1194 486 1309 469 1220 399 1289 380 1244 437 1294 427 1243 331 1236 369 1339 406 1174 479 1268 425 1310 462 1196 460 1336 450 1299 429 1254 394 1275 379 1217 448 1283 493 1280 385 1283 413 1288 475 1262 371 1263 341 1178 486 1213 470 1250 416 1284 418 1193 323 1195 404 1233 410 1226 492 1215 441 1236 263 1335 453 1317 450 1176 416 1214 355 1251 398 1218 334 1319 456 1269 451 1250 430 1242 383 1310 459 1233 400 1252 493 1206 494 1193 386 1204 441 1187 357 1203 355 1245 425 1285 479 1299 488 1210 366 1227 447 1304 423 1316 443 1344 471 1244 435 1312 413 1271 354 1224 410 1290 478 1324 472 1287 392 1259 442 1229 455 1262 426 1268 459 1276 383 1238 461 1284 412 1285 414 1247 362 1200 405 1292 472 1272 388 1194 341 1269 417 1230 488 1257 392 1339 416 1183 443 1268 412 1238 434 1184 409 1219 495 1323 421 1238 470 1234 447 1326 449 1266 467 1240 435 1258 460 1186 467 1281 428 1216 382 1237 338 1306 399 1196 411 1215 349 1326 375 1329 474 1331 461 1324 445 1328 441 1311 415 1229 398 1212 434 1270 462 1183 462 1239 367 1243 391 1241 357 1242 405 1228 472 1202 468 1240 433 1321 434 1279 317 1235 333 1332 402 1269 422 1280 344 1187 442 1313 445 1344 403 1283 486 1246 473 1296 392 1184 450 1205 445 1239 322 1210 434 1294 436 1276 351 1270 396 1267 400 1233 382 1268 459 1229 445 1299 435 1273 454 1303 367 1322 355 1309 392 1207 390 1242 402 1300 388 1270 419 1246 338 1194 485 1308 435 1312 374 1300 447 1276 420 1287 451 1261 430 1293 413 1246 370 1227 387 1246 425 1318 324 1206 475 1322 334 1219 448 1258 339 1218 374 1337 484 1238 360 1290 433 1191 406 1291 376 1240 443 1236 443 1192 400 1230 371 1262 413 1239 444 1281 409 1324 347 1212 281 1191 389 1263 402 1243 448 1290 422 1309 434 1199 487 1268 374 1236 410 1205 490 1279 397 1251 422 1292 395 1312 368 1246 461 1295 474 1326 346 1287 401 1268 372 1239 437 1235 358 1246 438 1264 482 1248 426 1209 440 1263 434 1268 487 1257 467 1228 367 1317 468 1277 382 1223 446 1302 382 1215 410 1241 379 1204 382 1336 442 1306 455 1228 327 1261 449 1198 453 1227 408 1319 452 1278 365 1213 415 1246 439 1279 433 1314 437 1259 444 1263 486 1263 492 1284 407 1305 387 1256 391 1277 390 1216 422 1322 392 1273 407 1229 376 1293 380 1285 340 1252 427 1246 396 1273 373 1183 466 1293 491 1199 395 1250 416 1254 420 1255 438 1242 372 1206 437 1230 435 1177 434 1215 404 1273 456 1206 399 1184 376 1217 454 1276 436 1328 437 1181 414 1338 446 1300 409 1284 419 1201 406 1272 429 1260 409 1277 346 1191 374 1186 423 1233 368 1235 417 1272 432 1247 384 1250 400 1292 394 1203 458 1203 405 1265 388 1309 427 1237 451 1270 401 1253 425 1206 489 1248 402 1257 482 1313 394 1267 429 1326 432 1246 279 1238 334 1283 410 1291 437 1263 341 1215 448 1283 343 1342 382 1240 428 1346 383 1262 355 1252 356 1295 389 1195 413 1249 477 1206 383 1194 398 1256 316 1292 465 1335 444 1268 354 1247 430 1229 453 1285 341 1308 450 1315 357 1191 427 1337 452 1177 415 1218 481 1196 417 1269 428 1300 457 1200 327 1331 483 1291 385 1248 419 1268 443 1291 349 1245 405 1241 308 1280 342 1305 401 1177 399 1242 480 1250 404 1226 399 1242 375 1318 314 1220 419 1205 435 1203 353 1285 388 1270 381 1224 368 1308 403 1243 407 1252 428 1313 452 1237 335 1271 391 1342 468 1292 312 1317 403 1302 415 1255 358 1222 475 1339 347 1269 492 1242 411 1254 334 1284 434 1253 470 1320 444 1209 484 1180 390 1279 397 1300 446 1236 429 1287 327 1268 364 1222 425 1200 339 1280 473 1261 418 1285 392 1230 449 1335 419 1259 457 1283 446 1227 393 1229 447 1295 452 1289 482 1326 482 1303 358 1197 380 1323 449 1226 468 1252 421 1322 456 1186 394 1316 432 1220 371 1200 450 1243 380 1293 392 1181 467 1234 412 1264 394 1229 483 1226 480 1299 470 1325 423 1234 474 1243 490 1329 427 1275 415 1252 476 1302 469 1240 399 1259 482 1278 420 1268 400 1312 313 1189 420 1240 340 1264 385 1204 318 1224 452 1222 407 1343 400 1253 473 1254 448 1267 336 1177 477 1294 315 1258 460 1237 360 1211 469 1290 459 1236 399 1289 441 1302 446 1291 467 1330 396 1300 367 1214 366 1255 494 1251 402 1279 418 1304 435 1296 399 1296 411 1199 368 1273 448 1212 410 1284 411 1300 423 1274 299 1218 470 1276 446 1275 391 1263 270 1267 388 1194 398 1257 355 1249 384 1262 429 1275 335 1292 369 1242 455 1208 462 1251 398 1177 423 1210 445 1190 464 1236 443 1222 278 1248 472 1267 481 1178 467 1335 431 1188 415 1289 454 1275 435 1320 488 1255 410 1300 350 1305 382 1231 397 1274 433 1185 475 1237 401 1213 393 1271 481 1293 465 1249 404 1304 337 1284 376 1250 438 1228 400 1317 420 1309 359 1305 423 1274 358 1247 305 1244 377 1243 411 1241 483 1258 409 1266 440 1203 481 1322 396 1199 420 1264 405 1304 485 1246 424 1237 400 1332 365 1259 372 1339 398 1269 361 1299 427 1207 407 1259 411 1229 473 1304 358 1185 424 1229 453 1232 438 1220 375 1215 438 1299 381 1245 427 1313 395 1248 481 1275 422 1318 432 1241 468 1258 452 1238 441 1259 407 1315 491 1304 366 1226 394 1274 441 1295 336 1288 354 1222 329 1321 388 1196 397 1244 391 1228 375 1184 462 1289 465 1204 363 1262 357 1277 386 1219 459 1266 365 1228 361 1253 467 1291 428 1259 445 1306 449 1291 427 1265 389 1297 473 1223 431 1241 482 1258 470 1294 460 1271 446 1206 475 1296 477 1293 455 1235 457 1261 446 1215 364 1223 475 1243 428 1264 395 1272 445 1254 485 1256 475 1198 473 1208 321 1257 441 1206 347 1306 432 1286 384 1266 443 1270 442 1257 448 1180 345 1256 423 1295 463 1239 408 1178 470 1280 438 1240 375 1263 332 1227 422 1326 471 1238 333 1315 478 1205 476 1296 436 1313 345 1274 396 1195 416 1272 278 1211 400 1259 467 1311 431 1195 447 1275 352 1256 410 1244 439 1246 411 1187 400 1266 386 1265 472 1308 465 1207 340 1325 349 1243 426 1335 416 1269 381 1308 406 1323 356 1258 397 1308 421 1243 329 1205 492 1304 440 1293 442 1258 445 1280 476 1283 437 1245 459 1278 454 1321 381 1211 445 1311 370 1240 409 1322 457 1230 423 1327 432 1230 400 1231 398 1254 366 1292 367 1278 399 1283 413 1213 344 1258 450 1217 349 1297 357 1211 474 1278 414 1214 394 1276 463 1263 452 1296 425 1235 365 1325 447 1263 450 1296 294 1205 365 1221 391 1183 458 1196 460 1269 441 1287 424 1259 477 1265 475 1345 457 1254 476 1319 411 1239 357 1254 422 1328 484 1249 395 1239 466 1251 429 1256 422 1320 312 1283 424 1287 388 1245 434 1230 414 1262 375 1256 475 1277 474 1229 420 1212 484 1261 388 1309 391 1233 428 1245 409 1303 402 1304 430 1303 464 1297 460 1265 435 1211 397 1237 472 1276 433 1190 390 1326 428 1269 467 1235 484 1252 368 1319 439 1212 466 1298 434 1308 400 1309 330 1197 408 1304 472 1228 465 1270 432 1318 436 1237 358 1280 382 1279 401 1217 468 1235 438 1293 472 1198 479 1252 371 1295 447 1215 366 1224 457 1237 394 1293 308 1315 410 1257 426 1253 481 1252 411 1272 402 1284 342 1247 467 1211 394 1332 421 1249 387 1250 457 1222 446 1317 427 1287 399 1190 455 1294 341 1305 360 1280 360 1277 388 1291 373 1217 450 1177 455 1276 400 1289 369 1308 365 1234 461 1207 401 1246 427 1258 403 1298 355 1261 356 1298 466 1222 404 1222 420 1256 487 1248 387 1240 448 1280 426 1246 412 1270 487 1311 385 1251 413 1203 335 1273 383 1285 470 1255 303 1264 431 1276 447 1309 434 1292 471 1274 457 1251 349 1233 426 1200 493 1256 407 1189 406 1336 462 1202 451 1192 432 1245 455 1240 281 1242 331 1257 475 1218 420 1289 363 1268 443 1245 356 1268 432 1294 474 1330 395 1210 445 1244 469 1257 345 1316 434 1344 416 1239 338 1309 406 1242 446 1270 385 1258 355 1226 480 1261 347 1258 354 1181 406 1243 382 1293 440 1196 432 1232 462 1341 403 1318 379 1283 369 1333 374 1235 427 1195 369 1208 325 1253 334 1314 404 1221 380 1235 352 1286 410 1263 332 1241 293 1212 490 1263 332 1207 394 1311 413 1300 422 1265 453 1251 395 1261 421 1293 471 1250 468 1232 369 1205 447 1243 430 1228 442 1212 428 1290 459 1192 395 1247 397 1269 411 1333 362 1293 395 1245 411 1287 346 1211 387 1227 477 1224 414 1262 448 1224 436 1337 383 1236 340 1241 375 1304 385 1209 341 1314 425 1346 384 1238 378 1304 462 1314 443 1223 441 1221 464 1281 465 1258 391 1209 396 1259 391 1311 439 1252 423 1244 457 1333 428 1257 453 1269 355 1284 464 1336 367 1230 424 1256 367 1285 415 1333 438 1280 439 1283 445 1211 473 1279 260 1219 400 1204 385 1276 457 1257 469 1234 417 1344 348 1278 478 1258 328 1219 354 1290 345 1268 343 1279 334 1210 448 1250 475 1269 389 1221 445 1268 360 1179 452 1237 425 1281 401 1276 366 1198 396 1317 473 1258 453 1273 425 1306 399 1319 397 1257 450 1241 469 1277 341 1244 426 1234 452 1273 383 1252 420 1269 471 1245 417 1315 434 1335 478 1338 321 1217 437 1303 410 1274 434 1215 373 1289 461 1200 465 1241 356 1215 371 1232 358 1286 465 1255 463 1203 468 1263 362 1320 439 1220 380 1242 377 1269 491 1237 438 1286 467 1276 397 1345 401 1255 369 1249 471 1275 457 1298 334 1264 471 1194 395 1231 467 1258 493 1253 458 1335 406 1331 494 1275 405 1188 402 1269 453 1262 472 1302 410 1289 446 1210 352 1301 447 1226 411 1255 357 1243 393 1259 322 1183 436 1284 353 1240 314 1301 319 1323 387 1277 406 1314 392 1177 460 1212 463 1268 455 1268 402 1330 445 1276 482 1332 361 1321 412 1210 339 1214 383 1253 395 1218 450 1267 382 1338 399 1259 482 1272 442 1228 406 1229 343 1259 390 1319 435 1284 385 1221 491 1226 425 1275 454 1288 479 1257 432 1258 432 1244 461 1218 428 1198 409 1243 444 1194 423 1277 453 1257 394 1187 382 1227 445 1313 412 1230 441 1284 485 1299 466 1294 429 1223 443 1258 394 1316 370 1266 468 1193 428 1203 400 1269 457 1260 457 1207 323 1245 465 1255 490 1283 326 1286 451 1295 435 1317 400 1291 401 1237 351 1230 362 1275 451 1320 401 1296 387 1315 460 1195 398 1208 431 1206 437 1294 449 1259 411 1284 431 1228 418 1236 420 1292 447 1213 328 1235 404 1297 417 1278 428 1190 473 1252 346 1285 460 1320 466 1334 392 1208 474 1221 356 1260 378 1242 442 1299 437 1262 469 1294 362 1282 328 1315 423 1209 401 1305 327 1324 395 1268 320 1271 363 1223 383 1230 489 1320 423 1281 438 1239 439 1235 422 1277 479 1247 451 1203 386 1195 479 1297 374 1225 413 1248 415 1209 397 1245 414 1242 343 1278 458 1244 463 1248 441 1248 446 1307 431 1227 481 1286 361 1220 453 1313 283 1284 434 1308 444 1213 460 1300 474 1276 434 1287 458 1190 451 1251 366 1247 388 1221 483 1266 481 1315 352 1285 437 1248 399 1241 411 1210 480 1255 479 1340 447 1255 440 1291 387 1217 421 1209 455 1264 453 1279 459 1249 421 1244 371 1206 451 1272 289 1308 376 1231 423 1245 424 1285 391 1278 349 1326 345 1219 423 1270 396 1305 285 1251 477 1292 426 1235 395 1292 373 1249 423 1274 482 1219 444 1257 459 1180 445 1304 397 1258 364 1231 390 1304 478 1288 425 1200 477 1328 393 1253 447 1252 419 1217 452 1273 407 1342 405 1276 418 1239 401 1229 434 1273 495 1230 311 1339 427 1281 352 1256 436 1273 345 1276 445 1212 381 1249 431 1200 472 1320 476 1208 350 1224 362 1309 433 1204 393 1307 444 1273 465 1226 460 1339 361 1244 349 1230 492 1329 418 1193 405 1262 360 1217 392 1301 459 1233 415 1257 412 1235 399 1300 389 1215 420 1286 465 1255 351 1254 389 1215 344 1253 493 1226 439 1233 418 1281 435 1285 484 1321 331 1278 394 1327 404 1246 467 1279 483 1255 490 1217 415 1203 426 1224 402 1221 384 1312 420 1270 441 1194 460 1297 381 1258 384 1292 395 1317 334 1239 455 1258 406 1250 476 1197 351 1252 313 1250 329 1341 380 1268 414 1311 460 1233 393 1289 434 1192 423 1313 427 1260 417 1274 413 1216 426 1320 373 1296 440 1303 377 1336 454 1164 490 1182 397 1216 369 1269 420 1203 394 1257 440 1222 413 1231 362 1223 423 1266 376 1275 431 1206 369 1249 411 1240 398 1221 419 1308 434 1227 392 1312 382 1216 354 1307 439 1250 407 1310 385 1291 390 1225 419 1250 385 1320 447 1272 424 1219 418 1256 365 1248 492 1328 483 1325 420 1185 397 1214 420 1218 481 1205 415 1311 360 1284 350 1261 384 1244 375 1275 392 1268 401 1284 431 1229 427 1260 423 1246 489 1213 455 1247 379 1209 382 1268 357 1245 437 1339 345 1268 406 1247 463 1239 429 1307 474 1296 456 1203 401 1222 414 1297 458 1305 433 1251 390 1305 483 1287 452 1234 420 1247 442 1321 393 1268 318 1186 426 1297 425 1320 429 1287 427 1342 416 1303 473 1304 389 1259 452 1275 371 1289 426 1285 451 1289 487 1272 328 1320 370 1322 416 1342 446 1307 427 1193 377 1274 459 1278 406 1316 424 1297 384 1178 463 1251 398 1234 409 1241 311 1292 453 1233 441 1225 391 1251 392 1254 415 1249 426 1309 455 1291 396 1219 345 1194 456 1219 389 1171 399 1174 445 1240 430 1251 377 1232 301 1239 387 1275 369 1307 426 1188 342 1296 454 1227 397 1266 367 1298 457 1273 332 1220 447 1223 424 1296 493 1277 489 1192 444 1300 474 1232 296 1316 409 1237 408 1230 446 1249 488 1229 423 1241 408 1306 356 1309 463 1248 414 1332 346 1302 426 1277 442 1302 411 1315 428 1207 386 1203 425 1212 444 1229 374 1291 401 1306 448 1272 457 1232 437 1220 411 1218 432 1242 446 1256 357 1253 444 1278 433 1212 455 1266 477 1189 376 1287 402 1257 440 1258 354 1346 333 1238 409 1242 454 1254 399 1198 473 1341 354 1338 450 1236 424 1295 382 1296 361 1246 426 1342 412 1330 387 1215 477 1270 481 1287 429 1206 429 1216 439 1293 347 1224 452 1188 433 1299 391 1246 390 1272 444 1255 477 1310 368 1275 429 1266 386 1346 330 1213 409 1292 418 1289 367 1202 402 1293 454 1200 484 1247 433 1338 458 1279 445 1230 442 1220 389 1295 434 1261 494 1269 455 1205 419 1260 377 1259 449 1208 383 1302 413 1279 452 1308 350 1222 409 1224 429 1321 481 1239 373 1235 391 1252 334 1287 463 1208 443 1321 460 1245 409 1292 347 1344 431 1298 412 1197 432 1204 472 1231 367 1182 487 1312 450 1237 358 1275 461 1225 389 1341 481 1243 403 1259 424 1331 423 1315 390 1276 443 1253 326 1257 472 1228 438 1290 424 1227 451 1262 461 1248 443 1241 490 1342 462 1272 410 1228 443 1222 366 1256 364 1242 406 1340 368 1170 443 1277 356 1289 426 1241 360 1333 421 1257 471 1248 471 1243 423 1224 400 1236 445 1198 464 1224 403 1233 449 1237 468 1207 447 1301 343 1203 451 1260 410 1259 319 1338 348 1231 409 1248 416 1244 458 1251 491 1291 461 1232 416 1222 400 1296 487 1213 427 1186 372 1241 310 1284 392 1229 394 1216 423 1250 427 1235 381 1217 438 1322 467 1201 488 1314 457 1227 431 1342 402 1251 451 1269 455 1290 323 1247 442 1280 434 1182 462 1294 429 1212 310 1241 486 1177 457 1232 426 1190 420 1280 406 1261 461 1189 434 1291 479 1217 409 1242 371 1265 460 1323 339 1273 390 1281 456 1344 428 1285 367 1267 432 1235 368 1322 447 1263 346 1271 458 1230 439 1211 374 1236 400 1203 430 1279 395 1326 484 1225 395 1234 332 1275 366 1285 449 1292 329 1289 476 1188 370 1272 425 1290 450 1215 397 1231 313 1265 395 1194 447 1230 381 1261 480 1250 340 1275 371 1187 410 1296 403 1214 360 1176 421 1196 340 1247 444 1261 411 1262 393 1222 417 1245 346 1269 402 1225 409 1270 491 1203 458 1222 420 1208 394 1273 386 1207 455 1225 393 1268 360 1323 429 1241 432 1250 365 1343 448 1281 397 1267 410 1192 374 1251 383 1185 448 1185 423 1198 374 1265 399 1300 445 1307 454 1271 385 1220 415 1246 401 1219 431 1227 345 1219 475 1263 484 1251 363 1241 406 1327 300 1198 450 1293 371 1336 414 1269 417 1305 364 1298 488 1243 420 1274 442 1279 331 1270 477 1219 426 1248 394 1316 440 1270 381 1242 449 1267 311 1179 452 1186 366 1285 422 1269 447 1273 470 1225 428 1297 356 1219 366 1262 420 1316 346 1316 408 1280 365 1283 431 1248 441 1259 439 1303 491 1232 354 1242 361 1344 438 1226 464 1267 345 1269 413 1278 401 1227 432 1255 428 1231 334 1186 400 1242 409 1305 472 1227 400 1196 447 1274 449 1266 475 1256 383 1337 438 1298 481 1282 390 1310 366 1224 491 1197 398 1287 424 1320 493 1193 436 1297 460 1263 392 1322 363 1287 458 1198 400 1281 393 1174 462 1195 469 1272 459 1245 415 1328 475 1304 355 1300 460 1250 393 1192 445 1313 439 1284 398 1215 440 1297 438 1205 471 1226 475 1209 394 1281 416 1251 449 1217 393 1191 411 1307 445 1240 443 1267 442 1219 476 1250 436 1261 419 1261 492 1329 397 1246 421 1324 464 1344 390 1234 415 1259 363 1218 356 1293 375 1297 386 1248 373 1284 301 1269 426 1308 394 1199 484 1272 410 1296 467 1212 419 1172 450 1179 386 1171 425 1271 475 1285 369 1223 342 1182 401 1220 468 1278 362 1266 489 1217 477 1342 456 1241 371 1264 478 1199 383 1344 383 1272 411 1241 438 1233 477 1251 398 1236 486 1259 342 1315 447 1245 445 1283 424 1214 368 1309 394 1299 454 1231 407 1205 489 1311 472 1197 292 1286 367 1213 411 1317 416 1272 477 1308 347 1333 412 1209 459 1335 454 1300 381 1263 444 1259 439 1309 494 1219 399 1287 461 1282 382 1280 401 1226 386 1263 451 1335 452 1303 397 1232 489 1192 396 1273 382 1325 426 1305 436 1237 409 1281 438 1215 355 1300 455 1330 398 1265 420 1263 392 1290 351 1224 472 1207 429 1242 364 1325 425 1251 406 1265 449 1312 408 1248 447 1244 382 1269 384 1225 464 1294 375 1312 433 1236 348 1225 457 1290 326 1324 443 1248 415 1307 451 1294 474 1261 410 1243 426 1280 473 1336 480 1259 355 1230 400 1231 410 1242 377 1289 364 1181 458 1244 428 1326 468 1212 367 1251 344 1303 409 1340 324 1275 403 1317 442 1257 492 1253 363 1294 391 1323 402 1176 457 1260 469 1200 493 1233 358 1343 492 1270 478 1274 494 1268 403 1281 389 1217 385 1258 484 1333 404 1215 466 1222 445 1206 445 1242 357 1233 483 1230 390 1211 400 1248 356 1298 332 1190 418 1214 390 1200 321 1238 429 1274 380 1256 468 1254 424 1317 408 1251 322 1313 360 1303 371 1236 402 1272 483 1337 368 1330 407 1322 422 1219 446 1261 425 1327 426 1248 459 1315 418 1320 493 1343 467 1199 395 1252 461 1279 398 1224 323 1270 469 1241 401 1224 446 1264 447 1277 474 1339 408 1255 395 1312 451 1271 429 1202 355 1282 418 1273 430 1283 478 1216 412 1193 441 1236 405 1222 399 1296 447 1200 435 1312 411 1269 392 1325 357 1242 426 1301 447 1283 420 1256 326 1236 386 1196 451 1234 399 1284 392 1290 398 1216 336 1203 433 1260 359 1259 291 1227 415 1297 388 1264 480 1228 376 1306 452 1219 471 1269 423 1282 348 1206 479 1301 422 1260 419 1198 456 1219 382 1276 363 1285 400 1282 416 1337 396 1319 385 1313 349 1256 486 1204 455 1180 462 1221 454 1234 417 1229 471 1280 345 1242 429 1218 428 1273 330 1195 434 1281 388 1250 429 1289 479 1273 419 1236 433 1218 430 1303 404 1225 423 1210 376 1245 462 1309 358 1278 406 1245 419 1238 353 1291 423 1279 425 1268 358 1269 429 1286 359 1270 413 1189 409 1309 406 1210 430 1187 453 1280 427 1208 459 1277 487 1203 465 1253 446 1325 338 1234 371 1334 398 1296 422 1317 420 1216 391 1241 390 1259 410 1265 395 1260 430 1207 462 1302 456 1238 363 1329 378 1242 439 1233 297 1226 439 1212 400 1195 404 1342 435 1215 358 1289 371 1241 422 1212 436 1204 445 1286 451 1189 415 1291 390 1264 324 1210 370 1232 456 1289 368 1306 429 1274 423 1317 444 1314 426 1276 415 1290 476 1233 483 1274 461 1300 402 1232 372 1268 415 1243 465 1287 348 1250 486 1235 419 1203 389 1279 365 1299 472 1289 406 1200 440 1181 424 1199 317 1309 376 1273 395 1233 438 1224 357 1331 429 1233 440 1241 466 1308 428 1265 365 1287 475 1208 464 1240 379 1280 469 1343 491 1191 373 1201 393 1276 424 1337 435 1201 411 1191 397 1316 467 1205 455 1240 344 1223 439 1250 394 1228 447 1204 363 1196 429 1253 403 1304 331 1278 428 1235 457 1215 455 1241 325 1230 436 1224 436 1302 442 1243 418 1305 415 1246 390 1276 365 1181 406 1258 359 1217 372 1205 461 1298 374 1204 432 1237 342 1308 413 1231 432 1290 382 1316 490 1205 382 1327 395 1269 423 1268 397 1240 445 1221 371 1282 418 1280 424 1329 380 1174 385 1293 391 1242 395 1275 445 1254 333 1224 453 1243 376 1228 404 1305 476 1273 360 1225 425 1190 402 1222 478 1290 430 1218 399 1237 465 1268 418 1308 352 1263 378 1178 443 1274 422 1305 419 1273 464 1219 414 1182 382 1274 422 1185 431 1205 426 1189 418 1255 436 1196 426 1193 449 1262 413 1342 405 1239 422 1206 356 1187 346 1283 446 1265 406 1265 435 1265 401 1226 442 1266 352 1248 448 1343 379 1320 432 1250 414 1269 417 1192 342 1295 471 1252 392 1248 405 1240 468 1180 351 1339 391 1266 395 1250 442 1226 393 1200 410 1318 439 1321 420 1321 452 1264 461 1213 470 1274 385 1268 403 1265 474 1288 336 1250 370 1272 411 1331 455 1298 381 1314 348 1255 490 1244 444 1268 392 1184 454 1209 413 1301 309 1310 487 1303 426 1270 425 1265 431 1263 410 1267 394 1246 418 1320 453 1287 385 1322 463 1346 374 1299 431 1252 468 1216 441 1206 454 1270 368 1286 389 1256 320 1286 406 1289 482 1286 410 1293 418 1246 447 1310 425 1211 476 1287 419 1197 424 1230 354 1303 421 1203 457 1346 416 1231 485 1286 392 1249 427 1317 389 1273 466 1182 473 1244 431 1271 434 1238 373 1214 448 1213 379 1245 474 1206 417 1230 431 1203 332 1292 399 1181 453 1281 413 1269 433 1204 375 1286 363 1211 413 1204 441 1324 382 1206 386 1272 361 1272 471 1182 432 1226 280 1225 405 1224 435 1243 462 1254 442 1239 304 1221 417 1203 388 1201 414 1238 477 1240 426 1309 360 1211 401 1252 411 1255 364 1233 383 1173 460 1277 466 1287 398 1211 481 1313 363 1264 357 1262 390 1181 448 1221 358 1335 462 1257 482 1198 462 1244 446 1238 390 1236 455 1313 455 1279 385 1341 387 1320 396 1242 453 1228 474 1282 424 1298 489 1307 478 1217 298 1214 435 1201 377 1307 433 1331 478 1226 418 1234 445 1247 448 1320 432 1290 464 1231 450 1277 457 1287 473 1227 446 1191 433 1191 413 1270 399 1187 477 1222 381 1303 429 1307 428 1291 413 1252 464 1215 475 1186 444 1254 458 1314 292 1214 270 1286 422 1233 418 1241 443 1301 454 1228 372 1235 409 1261 455 1320 369 1343 388 1251 457 1280 411 1262 427 1281 403 1264 489 1307 431 1288 424 1254 453 1289 363 1273 385 1255 471 1268 448 1200 411 1319 409 1204 421 1268 402 1256 336 1216 428 1206 343 1264 346 1273 366 1312 410 1240 401 1296 463 1316 423 1226 426 1215 429 1293 433 1285 362 1293 482 1261 436 1258 488 1309 440 1237 321 1199 450 1230 374 1303 318 1197 445 1285 426 1202 432 1201 493 1266 455 1210 397 1264 418 1341 466 1345 402 1212 408 1216 433 1213 391 1274 418 1256 352 1308 405 1298 397 1239 385 1268 341 1282 411 1232 439 1271 453 1228 409 1324 424 1311 389 1279 390 1201 425 1236 390 1238 466 1313 482 1265 361 1219 460 1230 463 1304 442 1303 379 1247 367 1199 383 1222 439 1253 389 1269 475 1265 422 1268 397 1289 383 1270 395 1262 383 1215 384 1252 345 1313 364 1244 455 1239 427 1180 466 1286 385 1213 412 1211 438 1240 406 1315 393 1299 439 1211 294 1211 357 1235 425 1188 419 1293 405 1282 472 1225 350 1250 364 1270 447 1258 386 1200 435 1232 482 1232 384 1302 417 1255 408 1237 427 1284 459 1255 389 1267 405 1270 427 1250 392 1283 408 1262 286 1227 413 1232 441 1278 396 1207 305 1197 448 1226 312 1221 471 1281 364 1306 423 1186 474 1290 436 1295 398 1264 414 1297 361 1260 493 1215 334 1242 397 1210 444 1309 377 1269 371 1295 434 1269 472 1278 483 1259 344 1275 460 1341 437 1244 355 1203 401 1283 418 1213 479 1214 380 1298 373 1216 419 1345 411 1286 358 1244 453 1345 330 1316 371 1272 347 1214 474 1244 372 1313 375 1245 398 1205 451 1191 427 1217 478 1263 411 1241 443 1236 363 1290 397 1246 449 1275 443 1279 369 1292 352 1237 445 1290 397 1255 394 1209 444 1331 408 1274 485 1204 357 1303 426 1272 440 1237 384 1235 459 1332 437 1268 374 1289 457 1302 456 1271 394 1181 454 1207 474 1330 456 1317 356 1224 422 1196 410 1283 414 1338 401 1270 391 1256 420 1221 409 1326 391 1242 403 1234 463 1223 412 1233 413 1298 386 1211 425 1233 310 1271 397 1264 411 1274 420 1291 480 1197 440 1252 432 1249 487 1265 448 1181 405 1201 486 1234 426 1275 422 1249 386 1300 375 1298 438 1233 471 1209 427 1242 406 1223 403 1241 329 1231 417 1257 409 1239 403 1266 338 1303 413 1199 365 1280 436 1264 338 1235 485 1212 445 1217 442 1234 336 1296 418 1245 435 1247 407 1239 415 1284 372 1271 363 1268 403 1287 445 1302 444 1250 405 1346 478 1314 379 1302 491 1253 464 1276 427 1220 404 1186 446 1245 424 1181 410 1229 447 1243 476 1280 380 1243 446 1321 359 1238 368 1280 492 1191 397 1181 394 1299 480 1218 440 1212 404 1247 381 1261 403 1328 422 1302 378 1244 388 1192 439 1329 427 1291 445 1250 456 1266 492 1229 409 1262 465 1308 470 1303 423 1251 427 1221 420 1299 397 1294 414 1237 373 1244 479 1225 418 1203 394 1212 373 1232 444 1278 382 1194 490 1288 435 1234 348 1214 398 1196 488 1210 462 1271 395 1318 469 1228 400 1312 402 1283 369 1307 420 1332 351 1195 460 1200 419 1275 463 1310 386 1244 361 1295 390 1208 409 1231 433 1291 492 1301 401 1338 463 1227 375 1315 470 1227 421 1266 394 1312 380 1255 349 1220 480 1192 430 1207 410 1260 435 1282 354 1340 424 1217 383 1255 404 1287 479 1213 468 1232 423 1195 458 1327 481 1280 397 1284 425 1262 416 1278 349 1311 354 1245 427 1249 452 1227 444 1197 440 1229 474 1252 422 1194 458 1271 350 1324 353 1221 439 1270 367 1293 413 1334 409 1213 373 1224 369 1263 448 1323 374 1271 379 1203 401 1238 439 1236 470 1216 375 1311 385 1218 393 1207 461 1256 409 1260 258 1248 344 1266 451 1201 375 1291 488 1263 294 1221 369 1292 487 1280 455 1214 417 1247 380 1249 484 1243 387 1300 472 1196 489 1253 431 1247 385 1282 349 1304 427 1304 398 1266 398 1264 420 1236 461 1201 476 1258 473 1323 371 1266 394 1221 383 1225 348 1232 431 1222 397 1321 464 1203 366 1252 402 1299 486 1218 455 1294 468 1232 359 1286 330 1267 415 1228 353 1285 429 1269 432 1317 409 1276 380 1196 463 1312 446 1239 491 1184 376 1232 420 1303 413 1289 454 1262 368 1301 418 1333 456 1189 480 1273 391 1231 400 1268 463 1263 379 1263 479 1344 391 1249 474 1180 448 1232 359 1316 350 1235 355 1224 421 1240 447 1274 465 1297 381 1246 412 1223 375 1273 442 1251 342 1282 313 1229 428 1297 429 1227 377 1300 416 1241 470 1214 429 1324 450 1240 348 1327 458 1287 445 1284 428 1272 401 1260 307 1259 393 1280 374 1249 323 1299 313 1268 312 1331 364 1262 353 1207 361 1280 327 1325 325 1232 365 1319 387 1226 270 1315 319 1257 319 1238 261 1330 379 1274 332 1332 275 1310 372 1182 413 1264 438 1322 341 1322 382 1281 324 1267 337 1230 329 1217 345 1183 358 1314 266 1192 433 1244 362 1291 351 1204 402 1214 242 1304 298 1236 377 1320 323 1261 293 1237 295 1295 431 1217 404 1250 215 1237 428 1330 250 1302 457 1237 320 1292 375 1296 373 1293 376 1320 446 1255 273 1326 402 1295 265 1275 366 1212 294 1318 401 1203 377 1270 333 1340 311 1248 347 1272 322 1255 352 1218 234 1295 402 1342 236 1290 298 1275 274 1293 457 1203 275 1229 346 1223 330 1310 407 1300 388 1240 301 1280 319 1222 278 1316 296 1253 417 1233 249 1243 253 1211 399 1233 318 1297 251 1276 385 1302 264 1259 249 1283 359 1277 369 1281 298 1298 270 1322 351 1301 353 1226 336 1270 375 1266 316 1221 302 1256 347 1288 349 1317 289 1280 413 1239 426 1250 444 1222 301 1284 296 1265 394 1196 383 1346 318 1281 245 1290 418 1239 400 1262 366 1328 293 1305 333 1317 272 1279 332 1214 315 1316 295 1326 325 1299 345 1315 270 1324 301 1308 308 1268 307 1214 383 1246 404 1299 385 1209 342 1274 356 1252 288 1279 393 1287 329 1255 370 1263 364 1222 276 1307 340 1213 371 1243 368 1345 346 1241 413 1230 324 1291 456 1246 384 1316 347 1270 368 1313 367 1333 323 1312 327 1315 284 1218 376 1239 317 1329 241 1293 383 1283 317 1208 283 1281 269 1283 410 1300 383 1314 307 1262 362 1232 404 1216 330 1296 443 1263 476 1319 216 1246 329 1234 388 1251 362 1277 279 1238 288 1270 401 1195 338 1306 328 1296 247 1287 296 1323 387 1303 274 1291 444 1296 416 1291 311 1178 384 1250 312 1271 389 1298 282 1272 371 1192 345 1328 324 1275 295 1226 355 1307 409 1228 282 1279 346 1236 440 1286 379 1324 327 1254 321 1347 339 1290 349 1222 306 1228 247 1217 333 1264 336 1309 395 1236 361 1267 354 1269 376 1337 412 1255 303 1234 378 1324 318 1299 460 1304 371 1327 389 1326 353 1233 365 1300 396 1307 273 1193 363 1234 331 1291 420 1306 442 1316 335 1335 419 1227 397 1290 424 1302 387 1287 338 1336 264 1234 385 1248 306 1232 268 1207 436 1269 381 1314 426 1309 457 1222 388 1209 417 1279 415 1241 354 1247 333 1311 366 1216 337 1249 298 1304 302 1326 378 1282 241 1268 375 1312 334 1260 315 1215 324 1329 367 1245 348 1282 378 1208 273 1319 407 1244 478 1337 334 1199 339 1302 349 1268 282 1299 290 1311 379 1301 472 1254 298 1310 413 1271 352 1247 309 1334 386 1339 422 1284 354 1246 360 1324 386 1324 328 1203 275 1287 391 1268 334 1248 406 1318 296 1227 340 1190 370 1245 324 1227 330 1220 226 1328 442 1338 252 1227 335 1217 261 1278 308 1250 309 1301 379 1281 385 1189 478 1222 336 1327 458 1253 361 1284 425 1251 399 1329 343 1258 266 1215 228 1266 352 1216 399 1229 378 1310 385 1320 234 1234 366 1290 387 1243 277 1300 330 1289 316 1295 365 1333 407 1299 346 1199 481 1214 395 1273 364 1272 374 1286 382 1200 441 1241 444 1273 388 1207 358 1307 430 1237 293 1281 405 1303 489 1284 381 1248 395 1276 297 1289 476 1295 370 1255 355 1272 331 1291 286 1271 343 1227 313 1256 301 1332 373 1268 290 1259 421 1257 273 1233 318 1318 326 1276 400 1254 319 1292 280 1276 301 1286 481 1315 462 1311 363 1225 386 1335 274 1219 279 1212 256 1276 299 1324 333 1233 354 1313 320 1225 326 1310 358 1277 368 1334 336 1208 353 1255 287 1276 271 1264 376 1335 408 1298 328 1337 357 1331 351 1321 250 1334 298 1340 242 1238 333 1303 491 1253 415 1278 393 1318 394 1318 494 1318 446 1271 349 1295 325 1238 353 1217 317 1272 339 1301 342 1249 394 1221 302 1331 320 1210 397 1301 436 1255 318 1276 288 1223 285 1252 289 1264 296 1298 396 1296 331 1281 354 1319 341 1294 344 1199 397 1306 478 1265 455 1276 352 1274 367 1259 321 1194 358 1223 361 1280 421 1305 355 1299 303 1215 421 1246 343 1245 459 1295 347 1282 332 1307 295 1285 328 1287 353 1324 311 1226 449 1312 372 1263 284 1306 427 1343 284 1254 347 1277 365 1282 388 1211 248 1252 373 1287 424 1339 352 1334 332 1242 343 1280 351 1263 377 1330 333 1320 362 1220 314 1293 389 1297 428 1206 276 1238 253 1251 365 1306 351 1306 342 1335 322 1252 418 1261 386 1224 292 1321 362 1319 296 1319 256 1207 308 1203 321 1193 454 1186 421 1296 377 1260 322 1308 353 1229 336 1271 412 1295 410 1277 328 1279 311 1249 385 1212 353 1314 347 1320 360 1316 432 1267 430 1197 391 1295 353 1206 366 1304 312 1314 413 1273 378 1329 403 1198 367 1284 327 1262 408 1267 399 1260 361 1300 315 1296 368 1211 398 1276 459 1267 277 1220 338 1261 438 1293 291 1294 354 1211 446 1289 437 1225 325 1234 274 1289 310 1285 323 1221 331 1268 377 1258 293 1304 369 1274 377 1286 356 1310 338 1314 399 1263 413 1312 468 1186 371 1287 223 1257 375 1210 442 1252 283 1226 372 1304 264 1327 396 1265 352 1308 316 1312 381 1302 346 1266 247 1340 306 1298 385 1264 312 1267 352 1315 328 1264 459 1208 413 1270 426 1310 361 1227 381 1316 419 1218 374 1210 385 1266 383 1231 329 1275 261 1204 282 1294 416 1302 261 1324 400 1296 351 1235 354 1204 402 1283 342 1273 408 1250 310 1272 415 1320 301 1287 329 1307 276 1302 411 1322 372 1289 290 1310 410 1222 318 1295 272 1279 394 1304 288 1305 362 1271 397 1301 356 1240 379 1277 320 1260 294 1226 357 1260 407 1248 233 1340 376 1272 289 1295 317 1312 380 1216 349 1336 339 1272 365 1216 338 1298 414 1220 346 1317 294 1270 290 1184 337 1223 361 1347 319 1323 299 1265 352 1290 395 1284 277 1295 404 1233 261 1233 345 1263 402 1346 320 1311 448 1297 350 1238 340 1345 452 1252 303 1289 371 1303 327 1192 415 1200 318 1220 334 1303 437 1200 424 1314 345 1241 370 1188 310 1260 244 1327 337 1306 365 1240 385 1223 322 1304 394 1290 391 1294 212 1289 330 1285 286 1290 333 1194 413 1211 482 1312 447 1308 434 1242 321 1278 301 1243 382 1309 414 1230 343 1286 367 1323 403 1219 327 1336 385 1261 366 1287 265 1262 356 1283 308 1238 299 1203 392 1246 377 1194 334 1321 491 1227 417 1272 440 1340 273 1314 240 1234 336 1217 325 1317 398 1304 339 1283 295 1316 362 1286 388 1211 416 1198 368 1261 453 1255 220 1263 351 1255 334 1303 437 1306 372 1234 276 1276 414 1298 417 1232 384 1309 402 1259 368 1242 365 1244 283 1222 442 1257 356 1208 277 1292 282 1291 248 1307 381 1278 447 1219 345 1247 381 1241 287 1220 358 1224 396 1292 342 1269 338 1272 358 1317 322 1286 371 1266 438 1317 444 1229 348 1273 312 1240 330 1220 373 1201 388 1259 411 1207 374 1281 361 1302 302 1259 348 1343 392 1267 314 1274 433 1252 425 1332 283 1233 282 1188 355 1331 334 1243 370 1275 357 1341 292 1302 288 1263 304 1266 399 1242 413 1307 303 1226 291 1280 374 1340 281 1317 334 1241 422 1223 285 1221 408 1329 316 1255 381 1243 388 1259 409 1282 287 1280 249 1237 372 1336 428 1301 444 1249 382 1262 225 1238 302 1274 391 1238 358 1322 437 1311 347 1286 424 1288 365 1332 284 1289 296 1294 271 1248 340 1222 329 1236 383 1325 412 1220 340 1332 331 1256 402 1284 317 1201 350 1329 295 1305 331 1249 319 1338 410 1323 305 1236 424 1269 426 1243 327 1200 388 1207 389 1260 326 1305 374 1303 372 1314 399 1302 410 1306 334 1307 277 1279 294 1308 390 1267 367 1334 363 1206 388 1230 237 1255 350 1290 435 1326 208 1321 429 1240 394 1319 325 1287 380 1253 277 1318 396 1235 343 1292 367 1258 343 1247 235 1311 438 1287 439 1322 353 1313 322 1247 362 1313 376 1272 309 1206 401 1320 427 1309 323 1289 381 1242 352 1320 301 1281 303 1297 341 1274 290 1265 344 1345 375 1293 336 1273 279 1295 376 1216 400 1321 258 1253 364 1239 409 1253 347 1229 452 1242 373 1233 295 1222 360 1331 346 1220 369 1305 320 1314 314 1210 237 1346 290 1212 287 1278 342 1207 402 1296 375 1242 353 1300 375 1233 337 1225 320 1321 362 1221 337 1261 329 1208 349 1287 410 1262 235 1277 452 1242 361 1261 375 1256 314 1311 400 1308 341 1271 375 1298 390 1253 397 1268 310 1319 328 1282 276 1254 368 1232 314 1310 378 1306 328 1220 332 1312 236 1262 349 1256 283 1328 362 1208 431 1251 281 1284 391 1275 474 1329 374 1209 367 1251 357 1337 436 1345 313 1274 274 1307 366 1264 336 1302 361 1320 304 1291 266 1309 393 1261 430 1321 404 1232 360 1220 302 1308 380 1315 433 1237 322 1246 338 1193 404 1242 358 1242 417 1208 380 1299 287 1317 375 1247 429 1322 456 1339 296 1318 341 1283 383 1315 355 1248 317 1221 394 1255 407 1206 365 1323 368 1280 400 1294 390 1198 322 1288 477 1260 218 1241 399 1273 247 1245 354 1337 293 1326 432 1255 379 1188 363 1271 362 1252 343 1342 308 1210 379 1332 398 1218 243 1301 344 1279 315 1267 356 1219 371 1245 380 1265 468 1322 349 1255 433 1344 301 1296 320 1212 314 1266 337 1317 367 1312 392 1226 416 1303 328 1290 408 1287 340 1204 330 1279 348 1269 325 1256 377 1250 268 1278 355 1276 378 1208 401 1308 201 1232 378 1222 320 1280 235 1203 312 1212 301 1311 338 1279 272 1251 437 1232 383 1301 430 1268 221 1278 311 1303 396 1299 357 1226 399 1344 356 1333 411 1269 336 1290 340 1258 411 1206 345 1333 349 1328 334 1236 382 1261 269 1241 279 1319 238 1257 347 1251 369 1255 400 1338 370 1306 294 1204 294 1332 424 1284 344 1346 412 1198 323 1286 397 1279 452 1227 351 1249 367 1326 363 1290 341 1307 327 1265 279 1263 306 1205 311 1324 307 1179 395 1293 369 1252 388 1251 348 1295 398 1215 240 1212 369 1337 343 1276 301 1202 281 1328 450 1190 411 1275 335 1256 355 1256 319 1259 369 1250 355 1281 334 1335 390 1216 341 1274 277 1281 321 1216 467 1263 410 1287 235 1277 298 1262 439 1225 343 1217 368 1264 285 1274 354 1304 360 1316 325 1241 466 1209 349 1258 354 1211 389 1309 371 1322 309 1241 263 1226 258 1261 288 1344 273 1233 390 1293 368 1296 408 1317 390 1251 296 1311 330 1343 353 1280 439 1222 281 1288 303 1191 380 1225 254 1329 304 1256 352 1326 245 1263 362 1301 243 1193 448 1302 230 1319 371 1289 279 1279 319 1321 346 1314 308 1268 422 1282 329 1222 313 1332 319 1218 216 1265 393 1255 363 1251 379 1325 294 1217 388 1304 370 1215 298 1340 265 1254 426 1274 371 1268 287 1229 241 1323 333 1285 401 1293 299 1297 327 1252 366 1313 404 1271 344 1283 358 1262 313 1298 291 1332 236 1290 335 1216 412 1296 320 1246 332 1265 313 1197 261 1219 441 1278 394 1280 277 1305 360 1192 403 1249 317 1249 306 1273 428 1296 363 1233 340 1338 374 1271 347 1236 409 1334 363 1324 404 1201 365 1337 312 1285 309 1262 381 1282 349 1271 397 1295 361 1236 304 1283 429 1240 360 1243 262 1293 335 1208 381 1294 363 1195 317 1308 423 1253 331 1222 411 1274 337 1270 441 1262 315 1223 358 1306 335 1246 304 1324 426 1217 323 1265 398 1237 371 1290 385 1347 339 1216 385 1261 406 1257 395 1302 307 1271 247 1267 353 1293 268 1281 383 1220 287 1303 415 1329 248 1257 292 1229 338 1278 356 1326 361 1264 401 1293 387 1255 334 1259 338 1277 331 1268 394 1313 439 1255 400 1326 269 1304 335 1223 345 1304 380 1244 290 1245 317 1239 290 1229 311 1213 365 1264 389 1300 275 1317 390 1300 382 1269 282 1197 331 1285 373 1178 334 1204 335 1273 295 1267 329 1247 393 1225 429 1284 436 1232 442 1315 360 1300 263 1250 340 1234 351 1228 311 1224 301 1280 235 1312 366 1290 400 1249 307 1295 368 1277 365 1292 294 1307 476 1196 370 1299 334 1333 328 1346 461 1261 348 1272 269 1263 440 1276 313 1225 306 1251 368 1286 190 1280 277 1300 255 1299 362 1190 414 1254 312 1236 339 1295 363 1334 337 1313 425 1282 298 1263 476 1208 336 1296 321 1322 381 1184 443 1263 300 1334 264 1313 311 1307 410 1278 276 1251 354 1305 378 1252 360 1222 337 1247 395 1249 273 1248 465 1246 327 1279 368 1267 331 1222 299 1279 231 1255 371 1256 271 1249 290 1302 304 1291 277 1283 323 1277 348 1196 303 1333 383 1190 290 1315 342 1249 337 1270 244 1300 316 1229 325 1290 356 1199 433 1199 388 1319 361 1269 195 1281 333 1281 336 1269 292 1282 379 1224 365 1301 297 1279 325 1306 290 1261 413 1237 452 1297 357 1280 355 1255 417 1308 348 1229 313 1290 167 1294 412 1310 398 1295 302 1299 378 1335 229 1283 331 1277 456 1217 406 1290 338 1327 375 1291 311 1188 454 1262 345 1319 295 1203 334 1265 271 1301 477 1239 272 1252 392 1237 423 1272 383 1263 323 1331 385 1224 324 1254 337 1265 434 1310 345 1257 374 1311 324 1256 317 1316 358 1221 361 1339 377 1272 251 1319 356 1237 347 1218 364 1307 350 1331 312 1295 370 1260 355 1188 371 1222 287 1305 376 1305 389 1280 438 1342 420 1324 393 1298 318 1330 393 1295 379 1283 362 1287 350 1254 419 1309 342 1287 276 1324 292 1260 322 1306 327 1273 293 1328 350 1264 357 1245 401 1278 404 1291 337 1225 380 1274 379 1257 235 1298 362 1260 401 1265 283 1246 286 1283 347 1184 432 1345 388 1306 282 1320 295 1242 323 1269 436 1286 439 1310 337 1314 394 1247 338 1281 476 1287 443 1322 312 1208 311 1270 337 1246 270 1254 474 1305 384 1305 450 1206 344 1306 346 1325 338 1270 388 1305 399 1274 258 1204 362 1232 452 1291 450 1285 321 1197 459 1228 401 1253 440 1282 373 1238 335 1214 321 1242 359 1256 315 1276 340 1259 375 1280 347 1329 460 1239 315 1300 349 1286 374 1337 351 1241 294 1339 401 1227 403 1223 252 1203 331 1321 435 1274 353 1261 413 1260 378 1315 351 1303 396 1271 380 1287 355 1340 387 1331 397 1196 341 1295 234 1334 268 1278 319 1342 246 1322 285 1247 368 1257 402 1223 309 1223 412 1308 289 1328 353 1302 398 1273 350 1193 337 1314 407 1271 369 1299 278 1316 389 1323 345 1215 462 1247 375 1217 409 1318 351 1211 367 1286 293 1291 257 1262 317 1234 450 1251 301 1285 366 1263 330 1291 379 1284 319 1327 331 1229 390 1204 353 1300 342 1273 372 1238 375 1242 371 1257 372 1211 345 1286 258 1300 340 1248 400 1310 365 1278 363 1251 287 1284 281 1269 374 1289 370 1270 407 1320 386 1200 362 1320 367 1225 398 1315 373 1334 369 1310 262 1297 474 1296 307 1263 290 1263 305 1303 338 1343 274 1287 387 1281 298 1291 340 1254 390 1312 334 1329 229 1235 315 1244 334 1305 325 1195 390 1327 458 1267 400 1292 338 1237 400 1326 393 1250 352 1235 346 1214 334 1224 297 1253 486 1294 442 1344 318 1337 353 1243 426 1293 348 1242 366 1182 312 1303 318 1263 351 1282 339 1236 335 1269 341 1207 330 1288 409 1332 349 1338 371 1315 378 1324 450 1296 366 1271 309 1329 338 1220 342 1265 397 1232 342 1238 345 1272 426 1256 491 1266 379 1248 319 1259 294 1268 373 1304 469 1252 322 1248 394 1341 431 1335 362 1198 373 1212 378 1334 468 1276 396 1261 349 1285 287 1336 383 1235 344 1261 325 1254 371 1302 191 1290 410 1296 427 1336 394 1325 423 1344 393 1343 424 1202 364 1280 413 1222 437 1240 421 1271 398 1239 440 1303 240 1239 285 1215 261 1227 340 1259 374 1229 391 1253 435 1309 334 1238 256 1303 324 1234 440 1205 384 1297 387 1251 352 1274 340 1232 329 1218 311 1198 302 1238 314 1291 315 1227 367 1339 375 1241 345 1312 380 1263 371 1326 328 1308 376 1312 397 1315 295 1248 463 1244 447 1270 270 1308 382 1335 280 1262 400 1300 431 1250 305 1266 394 1301 487 1262 284 1300 326 1279 455 1217 277 1271 320 1252 385 1296 309 1225 369 1235 422 1289 429 1340 378 1303 288 1300 403 1313 360 1279 276 1232 280 1292 377 1283 309 1284 347 1311 485 1262 420 1324 309 1275 443 1287 406 1282 352 1196 346 1271 380 1315 331 1312 493 1275 398 1217 293 1284 380 1282 252 1208 309 1262 353 1216 347 1218 405 1216 308 1346 235 1276 360 1247 290 1327 232 1329 271 1327 416 1293 288 1287 268 1219 376 1225 355 1205 390 1248 367 1295 384 1264 350 1255 250 1309 310 1268 366 1293 403 1242 411 1294 333 1296 312 1227 369 1225 254 1296 364 1299 270 1260 403 1281 302 1209 274 1302 363 1194 398 1326 380 1339 370 1300 361 1298 374 1231 353 1228 264 1240 350 1317 370 1325 411 1238 415 1335 320 1261 302 1232 356 1302 368 1211 238 1277 414 1306 361 1257 420 1238 379 1225 243 1340 315 1296 380 1282 365 1320 313 1251 319 1281 422 1251 360 1248 209 1330 286 1216 349 1239 389 1247 420 1242 440 1200 374 1198 398 1311 185 1218 263 1232 384 1277 381 1255 285 1198 391 1313 190 1271 338 1339 382 1284 388 1223 341 1337 360 1258 339 1225 285 1272 286 1257 362 1307 409 1303 377 1271 253 1322 410 1338 402 1326 409 1282 339 1292 332 1313 256 1267 469 1247 313 1193 281 1290 268 1318 417 1333 385 1209 409 1274 289 1314 313 1228 438 1293 388 1261 313 1290 354 1286 406 1267 376 1271 357 1326 321 1256 308 1275 337 1284 387 1297 326 1223 434 1254 377 1289 310 1263 309 1299 280 1323 379 1261 298 1207 322 1321 331 1234 378 1230 341 1320 279 1220 375 1247 341 1259 327 1245 421 1265 365 1323 326 1271 349 1266 299 1254 400 1205 344 1233 424 1266 373 1242 338 1195 430 1281 272 1299 239 1213 420 1230 298 1224 327 1247 312 1231 345 1265 308 1205 465 1323 284 1278 262 1218 248 1237 337 1241 235 1254 315 1326 274 1284 430 1337 288 1346 428 1299 302 1336 322 1250 319 1244 345 1206 370 1257 357 1240 467 1340 310 1215 363 1290 417 1230 293 1341 291 1266 469 1337 398 1233 372 1311 372 1322 370 1264 335 1272 338 1300 320 1271 330 1255 288 1283 363 1337 327 1278 354 1277 444 1256 239 1225 331 1200 381 1223 382 1315 404 1298 349 1304 400 1317 337 1250 319 1256 439 1320 324 1212 296 1270 259 1247 302 1283 365 1256 278 1344 364 1287 417 1223 330 1318 427 1229 342 1304 375 1233 298 1296 239 1302 364 1269 219 1297 418 1311 354 1286 419 1206 334 1313 440 1322 355 1254 392 1287 442 1238 470 1248 454 1232 325 1309 318 1322 256 1285 402 1319 366 1213 317 1196 386 1264 367 1259 473 1204 403 1254 338 1248 395 1330 389 1276 308 1230 303 1292 400 1233 378 1285 359 1297 429 1345 398 1205 425 1334 419 1311 433 1295 402 1272 481 1314 352 1345 323 1237 347 1323 334 1316 343 1188 429 1328 303 1274 339 1236 362 1186 375 1189 345 1257 372 1246 372 1285 306 1276 421 1261 223 1281 404 1264 346 1251 294 1279 239 1211 352 1231 308 1251 449 1245 325 1318 320 1313 271 1286 282 1280 346 1227 284 1331 415 1301 386 1274 416 1271 333 1226 241 1246 322 1249 371 1341 256 1231 368 1315 315 1264 450 1316 366 1252 387 1263 401 1300 287 1319 306 1262 273 1266 310 1253 318 1316 300 1213 376 1259 312 1192 360 1207 308 1193 382 1221 379 1256 332 1275 369 1228 340 1220 352 1324 354 1247 338 1271 492 1278 386 1336 376 1229 341 1249 392 1313 257 1275 359 1315 310 1199 349 1304 298 1276 208 1322 311 1280 311 1306 227 1215 400 1264 219 1270 308 1300 491 1283 289 1272 287 1274 416 1326 356 1320 447 1288 335 1338 284 1200 337 1309 341 1228 388 1248 315 1270 367 1251 449 1288 343 1253 305 1241 314 1312 361 1202 263 1281 270 1280 447 1302 277 1337 341 1313 323 1302 337 1288 376 1342 316 1336 341 1275 326 1275 402 1224 399 1334 366 1315 313 1307 475 1314 345 1300 343 1343 335 1290 453 1282 347 1239 373 1264 428 1262 412 1232 418 1257 430 1264 402 1342 351 1209 330 1276 437 1203 285 1220 415 1321 297 1209 336 1271 323 1313 373 1267 297 1274 369 1290 405 1289 370 1297 366 1227 430 1223 274 1251 319 1343 224 1285 313 1271 309 1267 405 1340 279 1277 375 1322 266 1341 220 1265 303 1296 275 1298 445 1271 334 1275 306 1294 352 1297 374 1277 406 1265 358 1341 405 1242 287 1341 419 1268 458 1238 401 1244 302 1267 323 1247 326 1346 373 1230 285 1304 341 1254 379 1250 333 1222 250 1242 302 1304 423 1295 390 1220 311 1320 385 1227 277 1225 275 1293 378 1264 329 1224 344 1243 316 1309 327 1341 331 1249 219 1343 412 1249 372 1271 424 1248 413 1191 413 1275 291 1277 369 1332 378 1329 355 1324 294 1289 314 1269 362 1274 240 1309 356 1257 307 1276 354 1317 407 1271 377 1278 274 1223 332 1245 244 1316 368 1239 253 1242 315 1301 274 1216 331 1321 271 1305 282 1249 249 1316 263 1334 303 1237 277 1216 299 1263 254 1282 322 1234 270 1280 199 1333 353 1228 244 1238 275 1323 281 1191 285 1325 281 1251 282 1251 294 1300 246 1291 259 1340 293 1276 286 1326 215 1284 238 1305 283 1277 299 1333 247 1321 312 1341 271 1268 346 1289 267 1318 284 1289 328 1268 240 1281 316 1281 271 1320 278 1250 300 1304 274 1321 259 1317 251 1336 320 1301 161 1282 266 1277 285 1301 281 1339 354 1188 332 1246 226 1253 262 1297 250 1286 254 1300 337 1288 288 1275 309 1216 278 1266 267 1323 254 1273 248 1318 344 1283 351 1272 291 1220 252 1329 234 1278 319 1221 297 1265 272 1260 233 1272 262 1276 329 1257 334 1331 311 1280 215 1253 329 1290 227 1216 244 1280 266 1242 317 1327 276 1343 203 1287 210 1308 266 1299 197 1278 235 1203 265 1246 265 1303 334 1297 239 1230 281 1323 302 1309 286 1306 203 1303 272 1307 305 1250 262 1237 260 1300 324 1263 199 1326 234 1236 294 1242 215 1270 218 1318 294 1276 244 1315 276 1328 245 1303 321 1246 252 1271 238 1343 265 1308 276 1296 300 1248 346 1325 256 1315 243 1300 284 1293 276 1343 350 1299 220 1338 288 1285 272 1281 263 1341 261 1345 261 1271 338 1316 310 1229 263 1304 332 1214 239 1214 233 1320 333 1298 296 1265 309 1297 367 1319 285 1270 268 1276 298 1318 250 1247 308 1329 326 1312 274 1211 360 1228 268 1345 366 1286 341 1226 377 1274 266 1268 307 1248 284 1205 300 1318 230 1224 306 1263 267 1306 297 1317 344 1249 323 1308 288 1299 312 1238 285 1272 273 1320 313 1243 286 1234 289 1220 290 1320 256 1302 315 1276 310 1196 278 1277 261 1309 305 1311 275 1334 276 1248 297 1345 279 1263 273 1235 301 1281 279 1272 231 1278 259 1236 294 1299 316 1297 289 1274 319 1330 282 1245 289 1295 344 1289 244 1298 302 1197 329 1302 321 1282 313 1312 234 1263 301 1285 351 1287 264 1316 217 1289 254 1276 273 1309 273 1309 287 1277 265 1292 303 1331 248 1322 266 1319 301 1200 252 1339 334 1285 342 1302 301 1288 324 1338 400 1229 278 1308 268 1334 170 1347 300 1237 321 1327 319 1269 278 1245 306 1317 219 1294 262 1227 302 1309 307 1220 300 1344 276 1238 260 1294 222 1207 279 1303 267 1256 303 1327 244 1237 231 1303 268 1311 257 1337 237 1331 290 1341 318 1226 293 1321 273 1309 239 1345 186 1248 271 1295 325 1232 321 1277 237 1286 278 1315 287" fill="none" marker-start="url(#me)" marker-mid="url(#me)" marker-end="url(#me)"/></g><g clip-path="url(#cc)"><ellipse cx="207" cy="146" rx="23" ry="50" fill="#0046ff" filter="url(#bl)"/></g><g transform="scale(0.5)"><path d="M447 282 465 246 450 308 387 349 374 229 418 219 442 344 431 286 439 405 435 267 394 264 383 290 461 303 417 343 440 295 375 340 403 316 377 172 393 216 443 396 372 320 400 232 421 440 396 385 408 202 409 288 429 317 403 274 424 235 418 343 429 281 423 281 396 294 452 226 404 290 387 338 403 323 404 192 374 226 353 260 435 246 381 333 439 238 413 377 382 295 428 198 439 345 408 324 417 276 456 268 454 276 437 249 390 267 414 345 434 261 410 382 398 214 393 388 397 342 396 310 402 261 450 219 392 372 443 279 429 224 420 320 391 216 402 318 419 422 432 119 436 335 448 272 409 303 398 307 414 304 408 289 440 310 422 253 423 219 420 212 453 323 400 344 402 316 443 230 413 385 427 249 394 239 417 259 429 321 376 160 395 216 429 409 430 217 414 223 391 183 428 300 341 272 415 326 406 96 400 342 342 404 415 171 418 312 430 234 368 226 402 281 371 289 412 167 422 253 421 461 410 260 422 382 421 199 428 293 417 433 363 330 392 232 426 197 389 319 392 270 419 275 415 187 443 374 431 201 403 285 419 293 330 366 392 244 412 179 344 303 406 271 424 200 447 250 428 303 367 370 409 345 411 244 419 295 399 276 434 235 438 171 370 273 444 339 397 240 448 340 433 265 412 309 476 289 443 369 417 269 423 480 459 217 444 279 422 209 433 283 420 255 370 399 443 374 428 331 375 270 397 312 409 284 426 443 417 320 358 244 435 244 411 229 364 299 348 379 384 195 427 230 393 246 434 391 408 367 422 328 437 279 433 231 384 389 474 237 357 309 410 327 385 279 377 331 385 170 382 342 375 197 399 202 421 304 387 380 365 322 408 287 415 290 437 291 391 283 410 164 443 365 386 142 413 272 405 387 372 338 412 248 372 241 444 290 449 292 452 280 403 291 425 305 397 391 433 303 408 264 422 281 442 429 437 171 396 254 457 258 430 320 420 329 417 215 437 315 447 201 378 182 390 320 364 402 429 338 427 254 405 256 383 302 455 171 464 274 463 244 417 308 420 325 420 198 412 320 379 235 398 197 440 315 416 310 402 285 408 329 449 320 421 234 380 194 422 171 406 341 435 282 447 359 396 309 456 255 418 262 419 322 399 283 410 299 419 378 410 221 406 309 404 317 410 323 439 146 418 333 328 295 416 400 399 283 455 296 461 270 399 184 391 207 389 232 426 288 421 288 440 310 413 333 401 347 420 275 399 350 436 261 429 280 433 218 430 396 403 330 364 367 454 262 449 323 394 248 443 240 421 314 414 259 416 354 391 243 412 169 418 322 422 323 397 235 427 397 399 338 401 401 418 315 402 211 385 322 400 287 395 302 420 322 436 295 433 277 396 239 405 377 424 378 367 303 441 297 452 289 436 290 350 155 424 267 360 377 443 315 350 370 373 270 426 176 373 333 333 378 383 333 429 146 380 276 383 341 421 207 415 269 453 240 441 388 405 213 394 322 448 153 395 272 382 385 429 197 397 370 369 355 434 327 443 378 379 301 404 323 401 221 411 252 402 326 370 192 417 323 406 385 420 250 436 244 440 323 429 341 337 211 385 276 419 323 441 296 385 326 392 310 339 282 406 385 395 280 403 317 405 271 435 297 445 227 414 276 424 260 448 229 411 246 428 253 411 313 452 301 375 198 421 375 376 247 425 322 441 188 404 200 409 354 451 322 413 297 433 366 409 341 388 235 404 211 408 199 418 360 453 307 428 271 433 319 444 289 392 392 437 323 399 319 406 234 449 349 419 337 408 257 400 262 421 365 408 289 446 172 423 383 412 260 426 354 395 334 379 278 382 249 375 379 414 204 415 338 434 330 386 301 402 246 399 365 420 278 429 316 450 224 423 202 414 298 403 286 407 340 415 331 409 232 409 327 376 255 354 330 427 311 457 295 408 241 441 272 409 274 423 238 392 272 397 288 404 398 438 218 461 257 437 381 390 330 393 261 405 200 417 244 434 384 372 392 385 273 431 303 429 349 375 266 448 330 433 279 373 307 380 281 436 361 378 416 435 218 401 334 437 310 445 247 364 205 373 198 414 339 468 242 432 270 376 349 444 285 415 200 456 254 382 291 445 170 459 225 387 366 421 293 431 384 423 307 391 326 448 166 390 324 420 248 432 239 428 373 435 380 363 311 349 302 424 361 427 246 410 229 412 290 372 228 429 288 405 337 431 334 452 218 445 306 448 247 316 150 361 360 428 441 366 330 446 212 400 391 370 238 443 349 397 340 387 293 439 366 410 297 381 330 384 441 367 230 465 271 456 253 418 289 396 268 431 393 410 232 440 347 435 343 418 335 408 239 434 350 416 287 367 377 425 338 405 272 424 309 406 370 425 297 407 227 430 235 417 293 426 222 420 173 461 242 396 338 392 396 433 424 410 334 398 410 361 204 416 245 399 418 449 355 384 274 429 266 415 333 396 345 461 299 408 329 411 299 354 358 445 354 413 263 452 360 405 170 434 308 432 265 433 196 405 233 398 228 384 273 424 311 393 255 433 321 360 373 458 246 433 222 420 437 394 305 393 266 404 259 437 318 424 401 430 362 445 325 437 290 443 246 416 233 387 334 460 280 457 325 366 363 411 385 456 207 349 224 407 299 395 285 414 363 415 358 449 353 402 280 411 295 389 344 373 263 428 323 450 310 416 343 459 241 404 244 433 327 356 226 428 279 469 248 395 252 431 243 428 321 407 296 423 353 411 303 395 309 416 416 407 388 419 280 349 300 404 367 449 181 436 284 453 273 414 218 447 289 466 185 402 455 413 291 403 201 360 308 422 281 372 355 379 365 428 118 374 269 392 277 373 249 419 203 415 246 362 185 462 315 386 329 403 352 410 240 400 377 399 284 441 317 398 364 356 237 376 305 396 364 411 306 367 285 420 369 401 242 383 237 407 314 473 235 405 290 411 256 441 272 409 342 429 325 428 273 376 281 432 295 396 298 404 279 414 274 380 403 438 290 440 303 483 201 400 251 405 411 364 282 397 199 391 241 401 286 383 264 417 282 416 360 400 275 401 228 419 211 402 286 386 276 416 300 412 272 367 296 425 271 412 371 456 277 401 330 383 309 391 245 452 204 432 336 413 293 381 389 399 270 416 339 433 234 403 272 455 250 408 280 452 298 373 260 435 295 405 337 354 217 437 293 398 255 448 255 380 335 413 300 426 349 367 281 406 297 433 256 391 316 396 292 441 273 397 197 430 231 397 221 462 297 399 289 423 309 452 289 384 298 433 380 408 286 365 288 398 253 416 421 400 232 442 299 405 254 422 198 430 258 479 221 436 243 393 306 421 310 424 361 380 327 407 206 423 332 369 298 405 350 417 314 394 268 458 242 466 289 375 333 358 300 374 325 457 321 379 223 409 257 458 180 437 272 445 228 419 318 403 258 380 275 420 327 464 339 408 138 368 256 418 302 432 182 435 376 413 261 385 287 400 287 428 291 458 272 447 217 409 320 410 312 452 283 449 252 431 252 348 254 374 288 438 298 451 353 430 402 420 466 416 198 427 322 372 383 395 281 434 343 407 220 411 325 415 284 427 409 400 237 384 399 425 325 364 245 411 241 373 317 381 193 444 305 401 363 398 304 402 280 427 258 435 389 395 295 397 387 449 316 384 289 406 303 447 339 423 307 431 331 389 308 447 320 431 412 406 298 417 279 462 246 463 298 389 193 380 331 369 419 436 321 381 343 385 287 452 389 361 356 432 264 380 430 420 272 427 320 409 395 410 253 410 334 400 226 366 231 390 208 454 287 436 255 415 217 436 406 424 214 435 294 463 314 454 339 407 310 391 405 355 350 395 403 414 313 413 379 416 250 429 216 447 289 371 293 387 271 387 229 437 386 423 257 430 251 402 361 388 290 397 248 465 258 416 307 411 329 436 414 420 227 450 351 417 356 426 312 433 286 399 325 405 274 436 296 421 273 400 308 417 168 412 236 394 276 430 215 467 245 412 417 410 356 404 191 378 287 414 411 450 335 430 284 420 356 366 291 406 346 383 252 336 292 399 211 435 274 388 347 391 313 469 294 437 233 455 257 456 249 436 262 415 188 431 381 460 356 424 297 421 317 423 303 444 246 401 185 467 272 445 256 397 236 365 254 346 271 434 332 393 255 397 245 432 221 449 351 431 265 395 258 434 215 406 252 399 270 449 313 455 303 360 413 447 343 420 355 432 278 386 268 383 401 401 287 431 210 410 226 404 305 442 250 391 276 357 286 429 272 379 270 420 471 447 229 388 349 397 304 373 301 412 261 390 291 358 312 406 228 443 266 375 319 420 369 392 360 357 252 455 342 427 361 417 308 390 275 357 419 440 206 392 281 391 337 402 268 408 324 405 252 426 265 411 309 417 236 395 297 458 244 416 367 403 265 416 248 385 303 401 267 421 190 422 307 467 236 412 280 425 415 385 300 451 78 406 288 474 219 361 149 457 315 408 283 408 324 380 322 433 288 375 310 421 166 393 142 423 297 423 239 377 297 359 239 409 219 437 237 378 359 413 311 433 251 395 319 378 303 402 185 437 281 413 335 452 312 376 315 423 319 392 205 456 281 400 251 393 270 399 276 337 250 435 294 408 301 400 225 381 204 458 210 412 151 401 316 437 266 397 305 397 253 440 338 435 276 432 287 432 317 414 454 386 169 411 239 467 300 405 250 445 322 394 245 423 253 393 358 421 330 399 253 363 316 405 300 443 342 395 256 399 243 401 335 401 272 439 243 419 214 407 316 380 258 458 292 410 323 405 393 377 294 432 328 421 322 415 224 367 310 368 310 405 330 412 334 438 309 458 399 421 344 362 273 424 265 437 409 429 276 402 239 377 299 434 287 450 287 416 309 410 331 426 288 374 416 396 320 413 327 374 370 437 413 417 370 436 256 371 265 425 289 388 192 425 306 386 284 424 151 392 308 426 286 429 244 449 185 438 264 376 275 402 249 376 299 385 266 457 268 410 409 382 216 407 181 447 379 391 403 406 343 389 186 388 327 430 318 456 197 396 262 466 178 391 360 424 392 385 314 442 311 445 329 388 208 383 208 411 146 394 270 448 305 401 294 411 377 418 335 449 281 441 369 419 267 427 272 358 360 410 408 385 421 418 293 414 286 398 487 419 290 421 347 383 361 438 389 428 303 412 322 428 428 455 353 451 203 445 246 424 350 469 257 357 285 442 270 350 369 447 286 448 270 419 266 417 46 432 319 440 365 424 337 373 324 400 295 449 241 422 328 418 211 409 325 389 304 386 269 399 153 420 183 410 343 432 330 407 377 384 267 441 338 440 195 397 226 392 361 425 199 443 353 392 209 389 417 471 235 379 358 370 280 435 181 411 295 387 268 384 281 425 412 422 323 412 353 396 240 456 320 365 290 448 366 406 343 431 165 381 233 395 144 435 228 452 302 445 307 361 296 365 379 398 260 438 357 365 330 436 343 416 457 406 451 395 241 401 301 402 386 393 307 380 331 424 252 430 431 463 317 384 331 446 34 425 396 445 447 429 393 394 277 390 444 428 282 401 301 440 260 394 302 415 344 431 369 424 355 425 473 423 224 361 218 345 301 452 246 458 246 440 186 445 238 406 292 338 319 405 294 405 352 404 324 437 278 402 346 406 395 394 326 409 344 429 333 462 313 402 321 411 270 436 172 403 298 349 404 471 175 387 229 421 350 413 260 420 212 403 416 421 296 364 352 421 201 396 220 408 400 438 312 416 296 443 130 406 397 399 340 398 230 405 327 430 297 397 220 440 305 407 190 423 388 399 354 461 334 382 218 384 304 447 248 415 326 437 297 458 271 440 352 393 275 418 372 363 272 401 259 397 379 391 318 392 393 413 229 424 136 332 323 452 310 406 190 410 344 430 334 398 324 447 222 426 373 416 288 390 351 405 321 431 312 423 374 489 220 392 350 417 363 419 322 451 239 423 326 434 307 393 149 430 251 407 223 432 362 477 242 442 344 397 332 401 299 415 271 431 377 436 296 388 380 455 310 419 284 392 240 364 414 386 325 359 204 450 373 420 296 428 273 381 319 334 273 411 232 406 305 404 352 414 249 410 272 346 307 420 375 439 321 409 370 347 281 412 306 388 292 427 250 368 275 356 322 439 319 357 406 443 237 415 292 395 177 364 259 403 275 404 247 426 335 461 346 389 345 443 252 398 253 396 320 436 373 348 239 425 466 372 201 400 318 416 350 395 275 400 371 406 346 454 364 347 311 465 291 442 311 359 317 431 274 401 245 385 343 417 401 431 266 428 382 366 297 391 362 394 199 428 343 439 320 407 366 441 170 419 229 429 309 392 378 465 247 446 238 431 296 368 223 431 191 439 286 433 318 385 351 396 334 380 296 384 224 425 208 460 159 413 350 426 287 436 163 356 324 393 324 398 238 405 391 389 264 409 356 422 346 455 326 418 259 421 247 415 402 449 221 402 273 411 250 366 271 436 276 388 297 435 403 433 359 421 219 414 383 394 417 400 254 400 350 436 328 427 248 409 325 442 286 447 287 325 362 390 172 456 354 435 222 404 337 437 165 445 313 442 307 389 256 399 257 434 317 422 272 427 406 351 250 444 270 415 259 394 279 403 354 393 387 456 301 393 302 429 376 397 275 389 312 409 373 441 275 388 303 357 314 427 332 381 387 419 317 457 279 434 210 432 360 343 327 408 294 432 297 416 373 420 385 391 334 388 222 405 241 381 360 428 247 431 150 407 289 399 261 411 272 346 204 406 294 438 245 422 341 405 401 420 332 401 224 386 260 401 367 441 310 402 405 416 275 420 316 439 263 386 265 451 315 396 337 434 311 427 372 381 290 432 268 451 287 482 186 434 349 406 293 411 315 454 363 473 264 430 432 419 340 437 361 434 251 414 304 396 149 396 254 384 150 441 379 422 265 439 308 367 304 410 320 416 241 425 352 394 344 393 244 357 363 381 394 404 270 433 399 348 161 412 315 446 254 445 195 410 285 413 336 427 318 409 234 415 264 479 262 435 260 443 290 409 253 386 305 405 163 425 303 395 178 444 365 357 341 475 174 412 351 475 284 470 270 415 384 434 339 383 164 422 397 415 227 358 442 390 282 456 359 379 313 445 331 416 277 411 259 371 269 429 350 436 389 492 181 409 297 398 304 434 367 419 222 399 312 441 301 422 334 424 334 453 242 392 441 445 277 395 338 429 311 414 252 411 283 303 340 409 328 383 468 411 324 408 301 431 351 361 178 409 313 440 174 387 266 421 263 469 229 421 283 432 328 404 237 372 274 393 289 433 186 377 259 387 295 408 237 375 221 413 304 427 319 420 272 402 221 359 357 439 301 393 429 416 199 399 331 386 276 396 332 397 291 361 220 372 296 422 302 437 393 410 270 380 259 407 293 443 203 395 270 447 282 403 301 414 237 386 196 426 314 454 241 400 163 424 287 390 252 424 257 428 360 441 250 404 345 361 326 419 282 411 241 390 389 440 282 405 325 421 184 416 277 430 308 436 216 396 293 426 222 443 410 440 288 439 238 356 234 397 197 412 218 408 229 395 280 416 407 402 347 406 262 441 219 368 269 388 380 381 322 417 254 387 313 404 315 376 358 420 227 410 223 400 327 413 381 409 293 442 416 383 237 424 178 478 224 435 212 378 327 454 299 394 336 394 255 405 361 388 433 418 322 423 190 433 321 425 358 423 385 424 265 440 240 425 295 377 300 377 381 393 266 409 316 420 294 343 379 412 297 429 328 439 279 405 310 403 345 428 165 447 284 439 247 415 240 425 306 428 306 397 350 377 402 382 234 426 274 436 330 374 303 424 242 411 329 399 234 413 360 387 376 458 305 369 308 414 161 389 248 436 262 356 86 390 259 396 286 455 351 437 208 433 351 388 297 396 391 422 402 431 327 409 273 403 379 416 289 343 275 447 267 402 296 397 333 429 269 435 343 442 185 458 277 380 369 430 263 378 252 421 254 461 229 393 161 418 268 396 240 341 182 394 320 388 233 391 409 450 169 410 304 443 397 437 363 395 177 398 310 389 315 450 344 368 288 375 322 425 396 402 274 386 198 413 266 417 261 379 402 411 416 420 222 409 307 400 274 397 223 433 234 425 224 459 184 352 131 474 178 408 175 372 212 446 148 407 117 491 174 382 155 419 239 462 138 404 222 400 151 426 247 420 223 401 198 401 178 408 190 415 221 409 232 397 200 464 273 368 132 334 138 436 128 424 125 380 211 370 189 454 174 451 128 398 216 419 192 439 189 375 182 432 181 470 268 435 242 453 280 465 246 433 175 405 258 437 264 441 237 407 233 422 248 398 255 468 178 383 265 397 237 402 211 454 197 479 138 394 229 425 177 468 206 400 143 370 210 423 180 401 83 461 189 448 194 482 236 417 220 371 228 423 186 468 161 354 194 426 257 491 219 385 196 459 182 358 253 437 275 438 246 426 174 449 168 433 170 472 235 404 233 474 199 356 157 468 174 475 234 433 192 415 206 412 269 484 176 463 281 451 258 383 211 434 294 431 121 421 209 406 215 374 221 447 167 348 226 368 231 447 186 424 96 455 202 432 214 473 157 380 212 421 168 430 218 359 169 355 267 392 203 457 237 431 175 399 176 433 196 396 173 437 134 414 216 369 234 395 184 450 292 408 215 382 201 416 222 470 232 468 216 441 151 354 109 421 189 456 270 419 227 424 234 427 204 394 117 422 225 432 194 426 100 457 235 490 96 478 218 484 183 426 177 348 174 379 213 395 225 429 282 368 244 448 257 416 151 453 187 382 182 443 190 367 265 412 237 437 258 422 217 374 178 435 212 427 239 399 200 431 290 453 269 419 214 437 259 343 242 423 255 425 124 468 102 424 197 460 197 377 133 463 250 498 192 425 198 404 170 476 159 427 230 487 201 479 194 415 183 456 227 397 227 323 143 394 206 393 117 375 220 340 219 428 211 458 127 475 95 422 161 378 192 460 146 420 142 402 219 432 115 441 285 395 242 426 237 384 230 407 185 373 206 446 201 464 293 438 209 466 206 371 176 472 223 407 241 453 146 428 266 439 167 448 182 454 180 476 219 371 267 419 196 370 207 408 236 433 313 443 302 434 139 430 141 414 208 388 95 389 221 459 168 458 225 454 211 464 228 433 157 438 251 351 138 448 156 448 184 415 290 439 227 440 161 403 235 414 158 464 144 454 145 453 141 476 147 477 63 454 237 442 188 468 203 449 73 472 83 495 173 446 227 471 237 478 148 447 191 466 141 467 111 499 189 465 186 445 101 470 186 452 268 449 261 495 92 495 79 483 256 452 141 427 145 417 78 448 278 452 183 441 83 430 235 461 157 421 169 455 69 473 175 487 209 464 206 440 190 465 191 501 147 398 173 454 190 490 141 466 95 471 200 471 177 439 177 480 133 458 95 468 218 439 34 479 177 439 111 460 143 474 80 457 166 486 170 455 271 459 61 418 134 427 143 457 162 450 99 471 196 470 251 493 143 472 139 472 117 467 197 441 126 452 212 447 179 415 296 436 93 477 121 471 65 453 79 456 130 438 175 471 196 464 185 466 158 465 161 473 152 435 149 440 102 468 184 492 157 426 205 467 101 463 158 466 117 477 100 455 84 445 229 460 173 308 183 353 219 416 299 368 418 375 293 392 431 389 460 410 315 456 356 391 243 391 451 315 468 347 86 360 384 355 312 345 216 457 327 375 339 395 159 371 308 413 289 416 223 429 241 329 300 334 71 365 280 453 254 403 384 435 227 463 344 330 392 396 252 441 228 410 387 385 209 416 294 455 170 434 106 434 209 382 174 343 404 462 225 427 317 389 492 364 277 400 350 358 114 373 202 434 290 356 142 371 242 459 270 395 285 397 133 356 322 432 343 400 413 414 359 449 320 457 159 348 367 348 303 440 366 347 386 334 405 372 334 374 205 408 243 333 179 435 353 310 333 433 276 348 352 419 360 335 325 397 239 255 318 386 329 398 355 379 169 398 242 359 208 424 254 467 242 362 398 321 320 416 347 390 284 409 337 414 335 356 358 306 357 341 134 384 316 422 325 353 137 390 328 419 239 318 278 419 238 364 265 434 347 346 432 347 345 411 263 451 244 315 242 435 246 424 174 365 201 365 377 423 347 399 270 442 351 339 238 371 217 426 244 456 340 381 242 387 272 329 196 433 390 420 252 350 274 421 161 473 136 429 453 417 292 353 55 363 317 442 94 435 360 437 427 406 180 326 200 373 283 367 343 417 352 398 186 393 212 457 64 490 190 440 236 372 316 412 348 435 332 290 237 397 191 357 220 321 234 420 372 378 338 386 360 494 197 353 322 371 254 428 436 417 296 321 359 408 310 408 194 477 226 402 302 398 76 361 155 323 408 311 98 431 376 350 18 357 417 384 430 436 430 375 341 337 194 414 334 459 212 372 240 359 141 360 419 364 245 320 93 372 204 472 202 324 275 419 298 382 165 412 391 457 342 392 212 474 248 392 318 474 319 341 247 441 251 418 97 428 293 325 104 454 361 382 244 400 221 394 442 434 83 418 182 361 339 391 323 382 358 433 318 370 338 382 192 396 125 398 117 427 276 434 267 354 410 448 203 426 178 387 388 317 176 407 289 388 176 486 196 323 421 397 104 406 275 455 352 390 141 455 215 379 233 393 176 490 191 315 425 374 200 297 289 416 247 446 321 456 258 374 120 337 282 375 304 329 134 375 233 367 411 384 277 394 230 435 418 383 108 416 72 402 293 399 54 373 336 364 200 365 456 318 245 408 96 319 355 393 288 394 155 381 352 370 384 410 196 396 262 419 118 415 240 447 255 378 339 401 297 321 271 432 274 363 187 389 394 397 347 391 321 406 280 354 131 403 392 364 407 376 156 369 64 352 444 429 227 463 310 297 135 425 377 367 366 408 233 391 386 433 227 421 214 393 269 407 279 449 332 430 275 417 238 325 241 404 439 387 285 430 248 385 144 384 158 324 371 387 258 387 299 382 299 408 223 389 330 398 329 425 449 344 281 427 316 387 413 350 259 409 381 346 168 355 347 432 301 369 130 381 263 411 293 382 452 420 305 370 288 368 116 376 384 463 211 415 254 421 389 362 395 427 300 419 380 276 268 335 137 381 321 339 244 425 372 429 344 409 250 351 282 365 388 411 338 398 256 412 304 378 248 398 477 371 387 359 115 408 251 368 239 472 296 417 298 308 190 403 280 426 429 377 261 428 217 392 156 332 118 319 233 380 239 429 175 421 261 433 296 382 207 311 319 410 252 287 289 423 217 468 192 420 145 361 224 398 205 404 202 408 287 413 377 403 357 417 115 399 263 338 284 336 367 417 281 448 273 351 351 385 282 345 358 416 233 381 443 336 302 400 260 378 339 388 156 419 217 389 342 398 177 309 286 469 308 441 207 437 192 392 196 274 170 444 392 413 361 453 226 393 168 427 189 424 293 392 216 425 447 431 146 307 211 383 319 405 250 452 248 306 185 400 272 380 281 401 318 417 145 440 207 431 301 307 302 393 358 396 325 384 206 376 226 438 217 334 241 421 194 389 245 375 434 286 270 402 287 399 444 463 300 446 343 377 317 429 273 490 171 285 189 390 361 409 233 467 293 374 268 386 282 369 232 425 362 453 135 382 274 388 256 419 431 352 184 351 352 346 149 477 139 401 261 425 220 450 382 385 374 405 226 390 258 329 281 408 251 375 414 386 256 458 254 370 361 438 152 327 317 377 98 391 257 364 259 348 246 374 273 438 313 431 144 406 431 433 253 359 334 403 349 408 291 464 233 419 73 446 217 371 346 414 384 472 215 307 328 372 215 392 295 379 345 338 419 396 250 401 457 432 322 394 261 460 149 354 217 365 206 408 303 381 361 377 204 355 407 429 194 387 361 359 65 355 375 420 412 389 367 457 144 406 369 290 272 448 319 381 352 389 259 308 283 362 257 413 253 399 196 380 392 451 311 386 275 387 197 403 163 375 326 381 272 373 277 359 328 440 290 434 393 341 197 399 272 372 310 477 170 391 461 414 229 436 184 457 235 380 54 398 332 359 248 407 276 427 210 409 252 387 179 323 434 394 262 461 242 330 343 375 272 436 141 330 438 434 365 447 218 461 348 420 346 425 230 456 311 405 268 420 312 209 183 265 339 383 260 404 271 292 213 459 219 314 411 422 384 451 344 351 278 275 259 389 430 291 206 242 299 353 227 450 307 394 442 378 157 378 367 250 357 230 204 326 356 373 331 400 324 431 281 298 286 286 331 270 207 277 368 332 198 258 224 331 388 376 128 310 133 366 208 337 207 450 408 333 304 320 46 287 339 349 375 313 251 435 114 229 19 376 285 333 191 350 188 313 357 284 257 361 287 367 182 285 307 284 257 327 231 376 211 313 195 323 224 394 118 419 416 333 447 320 361 217 97 419 198 369 131 324 392 315 318 263 422 356 275 317 283 414 305 331 214 303 433 243 168 439 441 442 367 261 348 414 305 231 297 416 283 316 202 352 298 443 388 296 360 359 293 316 294 394 198 309 433 357 228 487 182 303 246 432 192 248 357 439 368 329 326 318 262 306 164 341 194 387 201 296 98 384 204 279 203 421 449 435 228 336 234 336 58 410 299 270 361 365 256 399 294 295 230 339 368 282 264 394 306 244 258 311 187 280 269 296 279 395 280 370 239 394 421 455 201 396 334 367 374 460 292 381 395 412 370 439 273 356 312 346 183 432 47 282 309 248 208 378 283 368 309 437 350 299 432 347 281 376 171 378 378 307 361 289 93 381 248 333 144 329 365 389 308 243 382 319 334 456 273 246 312 400 293 300 215 462 302 385 188 359 321 294 295 351 359 377 169 442 178 335 287 383 212 249 192 385 361 428 391 365 412 358 184 312 250 384 276 298 141 367 257 402 351 198 115 318 426 298 406 309 324 333 434 415 345 392 383 345 215 406 218 224 44 275 414 367 79 403 397 357 301 229 223 225 218 462 246 373 126 312 325 337 183 470 224 226 272 247 32 363 443 297 128 347 265 346 318 257 361 299 259 227 253 307 345 389 231 381 302 360 280 302 319 427 450 410 377 349 299 367 260 361 294 367 132 285 244 400 195 279 268 415 167 336 307 313 337 300 319 370 82 361 408 411 417 358 57 311 261 403 352 343 283 373 451 316 475 355 301 475 147 326 298 422 243 335 219 422 67 361 264 324 244 344 318 357 309 309 419 401 332 347 379 324 265 312 49 401 203 264 348 336 329 341 307 456 330 283 337 357 361 418 260 272 307 300 278 266 164 372 168 330 257 444 277 379 243 358 347 412 293 435 447 335 325 297 142 242 414 336 235 325 341 338 299 386 208 347 489 470 211 314 168 375 395 377 328 354 126 382 424 405 139 346 111 321 331 397 435 375 420 309 274 369 282 317 302 319 358 318 367 299 396 295 159 297 192 428 250 390 193 265 467 368 148 325 272 279 246 395 259 292 332 361 328 362 168 342 172 307 200 270 441 282 366 259 181 232 221 279 440 261 335 357 100 384 171 353 207 205 415 313 100 329 472 300 385 342 207 362 337 229 128 324 292 436 370 320 403 443 184 348 391 345 242 374 327 430 125 372 186 268 203 203 439 335 207 379 287 358 251 353 270 309 275 279 300 369 336 326 256 401 217 384 140 397 210 342 337 398 89 316 322 429 291 426 231 281 222 313 232 356 321 304 254 317 266 317 351 441 257 315 112 336 328 324 252 376 446 326 391 203 294 362 164 322 281 324 414 318 345 288 272 324 259 384 290 397 232 309 156 344 238 395 278 333 238 322 368 357 198 389 281 341 290 300 417 330 188 336 215 351 81 316 193 336 459 319 203 371 301 270 191 306 308 400 152 205 209 359 317 358 224 250 238 355 435 213 336 444 282 440 134 323 322 393 125 447 239 386 405 412 318 412 250 359 304 369 262 387 318 245 243 377 299 337 301 323 452 342 175 326 164 353 371 408 436 321 472 448 121 379 328 318 370 382 462 362 159 228 313 323 196 360 409 160 384 458 229 331 286 417 310 363 297 360 367 349 486 341 383 355 318 260 329 337 401 357 485 425 243 330 391 405 340 342 295 318 443 349 227 356 294 386 312 385 387 244 385 311 274 380 286 352 298 292 367 361 357 297 361 387 389 395 324 359 218 315 300 314 346 280 258 308 368 319 338 389 351 362 376 335 343 360 429 357 481 327 357 281 381 352 216 266 358 297 354 285 393 344 304 341 308 370 385 381 302 296 313 342 376 328 387 315 342 364 367 359 231 366 322 352 215 363 313 309 296 356 268 365 329 372 361 374 320 379 305 387 226 392 227 306 274 340 306 343 384 327 345 396 346 361 320 373 349 404 213 371 395 300 357 330 257 321 242 321 241 313 382 302 295 332 343 271 218 306 351 378 325 307 300 366 307 330 358 314 370 358 279 310 202 281 468 391 271 343 325 354 357 404 348 355 375 328 417 265 336 315 313 261 431 310 490 342 380 333 347 331 293 304 407 320 292 355 439 284 394 320 353 337 407 313 318 314 270 374 316 316 384 322 350 373 338 375 356 327 261 310 301 322 409 337 333 347 418 382 347 317 348 290 359 376 343 381 372 338 377 355 337 348 267 344 441 383 347 355 323 345 210 304 351 339 309 363 408 322 418 322 327 319 426 339 346 338 354 358 321 295 439 385 279 334 308 427 334 427 412 313 379 351 389 395 272 321 291 346 405 352 366 299 334 345 381 343 361 376 403 386 331 373 324 329 375 300 358 344 302 335 310 391 353 340 403 398 390 376 326 377 253 347 426 285 293 357 379 366 365 331 371 358 321 387 349 323 416 310 469 361 186 373 319 322 388 435 403 296 317 319 364 346 260 365 380 291 302 400 429 340 292 353 439 376 328 362 282 392 352 378 425 284 280 299 385 322 320 341 342 362 436 297 277 381 474 382 354 371 268 296 330 342 435 304 367 299 312 375 342 326 330 401 387 355 403 327 346 362 280 303 278 322 313 325 394 353 276 299 487 341 342 376 415 361 404 353 389 319 293 333 391 347 426 363 256 394 321 325 409 295 252 256 322 380 343 373 328 339 335 357 268 390 320 375 409 296 248 310 337 270 371 348 324 357 283 305 299 325 313 349 329 368 399 351 371 321 340 347 406 391 332 339 426 337 434 266 431 352 373 219 413 184 382 273 350 281 274 304 306 213 373 234 147 283 308 232 309 278 351 208 336 171 400 195 383 170 329 212 318 250 414 155 372 286 337 190 302 171 309 209 337 260 297 237 264 157 315 205 390 293 200 226 440 318 250" fill="none" marker-start="url(#mc)" marker-mid="url(#mc)" marker-end="url(#mc)"/><path d="M1117 387 1154 386 1073 425 1143 426 1155 345 1116 392 1155 371 1130 418 1137 429 1099 314 1090 334 1126 377 1114 492 1079 434 1114 407 1085 331 1131 381 1158 290 1082 454 1143 218 1142 311 1106 289 1134 438 1109 288 1132 352 1087 410 1109 338 1151 425 1185 270 1139 336 1107 340 1123 421 1095 319 1158 152 1115 213 1106 285 1171 311 1098 454 1065 378 1105 294 1116 356 1113 384 1074 437 1161 409 1148 393 1052 367 1158 218 1165 428 1106 349 1067 425 1082 408 1136 329 1158 329 1154 322 1136 436 1115 443 1148 320 1093 354 1064 300 1145 350 1104 352 1082 431 1118 383 1076 307 1093 451 1142 324 1127 359 1128 305 1152 308 1103 409 1129 459 1155 457 1134 422 1140 360 1120 414 1149 373 1125 230 1094 293 1127 452 1177 248 1117 400 1129 481 1083 288 1112 323 1112 384 1071 291 1104 444 1138 395 1144 463 1147 454 1144 316 1145 414 1077 352 1126 357 1180 369 1168 377 1125 372 1088 355 1112 279 1141 405 1147 330 1126 456 1130 355 1088 382 1132 369 1165 406 1107 290 1133 401 1137 406 1138 480 1094 438 1108 425 1105 314 1129 392 1103 232 1090 345 1152 465 1035 306 1112 404 1115 330 1119 320 1121 281 1112 398 1088 301 1156 295 1069 308 1081 434 1075 308 1056 310 1137 323 1114 254 1138 403 1072 174 1131 354 1068 372 1155 427 1107 416 1135 428 1100 370 1123 203 1117 419 1149 240 1090 475 1179 353 1160 282 1153 290 1104 406 1104 424 1114 302 1102 242 1091 403 1076 439 1094 306 1144 250 1136 424 1048 318 1065 365 1091 229 1113 462 1122 413 1110 389 1126 311 1132 372 1115 435 1104 418 1145 442 1112 492 1069 351 1130 320 1112 312 1100 363 1161 355 1116 361 1127 378 1126 322 1168 273 1119 336 1138 315 1127 334 1068 488 1164 217 1119 294 1083 435 1112 477 1131 443 1114 369 1087 446 1141 349 1142 390 1096 447 1027 422 1133 425 1094 272 1138 372 1064 334 1128 433 1135 462 1115 412 1140 364 1120 385 1116 413 1167 288 1133 302 1101 332 1089 417 1152 369 1101 471 1106 413 1073 345 1099 418 1123 315 1092 475 1165 453 1099 373 1068 345 1108 402 1116 390 1120 441 1123 423 1127 389 1151 464 1093 297 1106 444 1153 305 1125 363 1086 248 1125 430 1113 472 1114 349 1105 286 1086 349 1085 317 1126 350 1152 431 1128 469 1112 361 1063 466 1089 465 1084 443 1113 276 1181 411 1184 411 1090 350 1136 331 1125 349 1125 443 1114 465 1092 336 1153 466 1138 392 1025 472 1094 287 1140 297 1137 342 1107 395 1100 366 1176 426 1117 388 1071 372 1074 406 1064 281 1108 330 1091 386 1065 318 1060 436 1132 425 1106 443 1128 359 1094 282 1078 302 1138 325 1114 335 1226 221 1135 250 1077 414 1104 189 1074 442 1070 316 1106 441 1123 353 1078 441 1081 321 1096 357 1135 355 1174 451 1105 486 1104 379 1079 372 1050 438 1138 490 1103 280 1154 410 1119 319 1119 376 1124 332 1110 480 1152 304 1128 268 1098 479 1143 287 1054 352 1102 422 1075 317 1121 350 1142 357 1076 430 1149 393 1113 424 1117 489 1107 412 1117 469 1071 350 1162 402 1144 461 1128 327 1116 398 1167 469 1099 278 1157 312 1142 473 1144 281 1142 385 1160 326 1079 362 1153 486 1099 256 1106 438 1150 399 1096 269 1184 334 1144 353 1123 439 1123 332 1184 277 1116 486 1059 406 1102 270 1136 372 1116 342 1101 378 1113 424 1159 402 1106 312 1077 431 1150 337 1089 376 1128 309 1083 388 1079 463 1159 384 1128 400 1096 438 1146 289 1136 472 1118 444 1115 442 1123 416 1148 418 1148 398 1108 433 1133 360 1128 439 1151 423 1114 248 1143 480 1120 267 1124 251 1101 260 1145 476 1070 394 1114 338 1104 374 1112 361 1174 360 1148 348 1146 284 1148 354 1143 343 1119 420 1081 290 1076 422 1147 279 1063 324 1134 391 1153 337 1180 230 1113 456 1142 358 1091 290 1130 387 1147 294 1121 403 1124 265 1113 328 1064 301 1109 487 1171 297 1167 420 1113 382 1158 437 1098 435 1115 435 1185 286 1053 322 1143 402 1072 346 1074 209 1138 392 1147 299 1146 411 1139 397 1076 398 1141 302 1162 207 1125 411 1147 430 1101 475 1160 483 1141 203 1146 406 1032 324 1142 198 1152 296 1173 348 1128 349 1080 397 1163 378 1149 387 1124 322 1124 232 1126 405 1113 436 1142 252 1143 449 1077 366 1081 490 1088 311 1153 305 1096 397 1153 383 1133 431 1087 313 1143 280 1083 407 1098 207 1131 419 1152 285 1133 389 1151 424 1133 204 1102 372 1128 396 1071 277 1087 435 1114 395 1091 404 1143 211 1123 450 1102 297 1122 333 1127 340 1110 460 1150 493 1112 363 1111 340 1092 456 1076 424 1071 439 1093 337 1096 470 1156 250 1134 352 1152 378 1140 467 1132 366 1117 460 1167 418 1113 194 1122 363 1153 319 1107 418 1171 332 1073 282 1108 388 1144 455 1144 377 1119 348 1103 318 1140 368 1077 489 1097 335 1109 348 1141 419 1074 327 1041 403 1098 483 1141 384 1140 341 1136 307 1084 386 1171 475 1076 310 1082 410 1084 320 1193 349 1098 306 1087 381 1137 383 1074 401 1134 488 1107 401 1139 363 1078 307 1124 493 1057 432 1134 465 1107 360 1056 412 1098 463 1173 366 1145 436 1151 421 1071 452 1115 487 1108 383 1153 396 1138 428 1161 453 1084 436 1066 410 1113 409 1112 384 1116 248 1132 377 1129 482 1065 470 1090 426 1090 375 1109 418 1099 318 1080 429 1173 367 1156 241 1131 421 1113 328 1165 280 1121 291 1130 414 1121 329 1102 378 1085 246 1149 455 1111 360 1141 280 1080 277 1127 228 1093 435 1086 323 1133 468 1096 398 1086 450 1096 457 1109 245 1114 294 1087 319 1142 404 1168 493 1092 379 1182 382 1122 323 1073 299 1129 193 1136 420 1084 414 1098 377 1055 247 1124 486 1134 432 1082 400 1092 471 1152 432 1089 395 1108 352 1139 394 1082 385 1147 457 1137 267 1091 297 1134 490 1098 403 1164 339 1101 302 1103 462 1140 227 1139 352 1104 314 1124 417 1142 354 1100 333 1130 377 1119 376 1149 365 1124 433 1180 300 1168 316 1127 423 1108 333 1145 490 1127 436 1061 362 1146 452 1164 434 1120 404 1110 411 1076 444 1125 378 1153 371 1154 254 1187 174 1124 337 1155 451 1140 380 1138 315 1143 404 1152 340 1074 479 1103 375 1127 252 1125 256 1158 337 1177 338 1128 392 1120 400 1172 447 1098 349 1093 257 1061 439 1127 202 1064 392 1110 305 1074 354 1114 362 1110 174 1168 451 1107 302 1133 428 1102 445 1066 396 1066 310 1074 406 1093 378 1117 373 1131 416 1112 454 1144 349 1093 444 1135 396 1180 288 1185 488 1137 445 1119 346 1172 315 1154 360 1108 330 1090 373 1076 403 1126 386 1174 359 1066 316 1182 255 1120 323 1179 402 1146 268 1114 373 1167 400 1113 271 1138 458 1109 302 1117 415 1132 381 1154 378 1152 360 1144 356 1164 455 1109 323 1168 368 1118 352 1091 298 1169 490 1074 357 1057 291 1111 465 1155 443 1145 237 1087 323 1103 350 1171 217 1121 427 1135 354 1056 224 1064 272 1181 174 1077 389 1148 192 1006 396 1141 278 1084 412 1001 405 1161 419 1002 181 1126 193 1137 359 1180 261 1094 243 1135 177 1120 230 1107 366 1116 277 963 399 1104 363 1019 210 1037 228 1109 248 1039 324 1058 360 1125 369 1030 370 1062 367 1058 403 1074 67 1015 295 1061 404 1152 400 1125 388 1113 266 1039 362 1115 385 1160 421 986 475 1036 119 1076 56 1111 466 992 337 1092 186 1047 421 1087 421 1189 275 1162 265 1151 262 1008 317 1174 357 1190 124 1067 384 1093 316 1106 293 1105 484 1192 111 1176 220 1004 238 1040 281 1079 41 1089 233 1081 94 1103 73 1084 285 1008 335 1048 107 1015 380 1060 207 1121 373 1084 290 1071 211 1163 200 1132 286 1023 309 1060 303 1107 105 1102 205 1138 285 1183 258 1144 151 1179 89 1129 339 1180 454 1044 302 1091 223 1081 351 1121 171 1063 332 1072 297 1155 400 1176 114 1157 269 1109 470 1132 220 988 353 1153 461 1138 448 1169 349 1042 327 1080 385 1012 341 1031 282 1133 419 1105 332 1068 455 1098 441 1129 276 1107 307 1046 375 1093 132 1053 149 1151 179 1073 346 1132 243 1064 189 1136 160 1171 309 1126 292 1150 158 1107 278 1176 256 1141 462 932 163 1088 222 1005 252 1025 364 1140 209 1082 221 1036 196 1213 127 1156 236 1164 295 1157 446 1104 161 1121 406 997 76 1061 406 1060 347 1123 345 1122 249 1118 255 976 449 1117 187 1034 96 1044 356 1169 310 1091 224 1040 430 1063 127 1013 251 1073 249 1151 227 1183 240 1181 209 1037 261 1153 225 1149 385 1050 298 1008 208 1135 429 1146 415 1117 333 1122 175 995 382 1044 300 1104 212 1147 276 1052 368 1046 253 967 428 1042 397 1154 228 1105 451 996 332 1173 299 1075 324 1022 366 1147 365 1220 216 1081 369 1141 277 1088 299 1032 93 1067 143 1051 455 1107 431 1131 310 976 308 1042 245 1057 173 1106 326 1073 341 1016 270 1110 257 1070 223 1080 299 1105 215 969 138 1012 200 996 183 1177 273 1109 197 1003 393 1144 228 1227 118 1047 174 1119 484 1112 364 1075 86 1120 382 1127 230 1191 234 1096 218 1065 269 991 331 1001 478 1113 369 1142 224 994 253 1025 133 1079 301 1059 187 1185 302 1090 106 1142 250 909 208 1041 308 1064 308 1059 375 1067 358 970 383 1043 281 979 297 947 469 1090 249 1088 170 981 24 1114 398 1110 184 1123 404 1095 384 1112 327 1073 261 1158 239 993 242 1175 221 1117 253 1105 364 1080 142 1057 280 1056 158 969 396 1147 483 1193 225 1060 355 1053 339 1076 318 1112 376 1030 406 1058 362 1040 334 1042 320 1105 386 1150 313 1079 342 1093 290 1135 403 1101 231 1070 330 975 122 1089 132 1074 336 1066 423 1084 321 1041 156 1183 369 1110 279 1145 236 1107 364 1006 343 1188 346 1003 384 1028 266 1006 294 906 172 1140 314 1108 325 979 185 975 177 1135 195 1111 89 1111 207 1086 428 1152 326 1195 24 1090 197 1160 293 1052 358 1149 262 1150 287 1154 382 1028 436 1099 288 1153 438 1089 67 1104 157 1087 217 1072 410 1036 268 1092 240 1025 272 1257 198 1081 358 1111 260 993 297 1118 228 1061 333 1114 386 1158 187 1157 351 951 221 1218 187 1090 283 1107 45 1096 299 1070 391 1117 394 1096 182 1053 231 1061 138 1067 217 1134 165 1202 202 986 367 1070 230 1011 389 1066 359 1035 405 1156 212 1139 194 1081 395 1182 197 1092 154 1091 252 1117 467 1125 304 1063 185 1016 21 979 343 1097 59 1185 259 1070 126 1211 129 1098 168 1146 111 1079 160 1159 370 1082 456 1168 254 1134 436 1194 162 1059 143 1029 227 1129 350 1062 362 1036 257 1069 323 1119 215 1065 391 990 258 1083 233 1065 252 1072 183 1084 141 1083 332 1140 405 1109 299 1090 232 938 82 1096 286 1058 224 1038 203 1098 394 1090 391 1097 387 1045 370 1073 401 993 274 1120 367 1119 382 1211 87 1184 463 989 266 1034 393 1121 345 1177 246 1127 397 1041 393 1157 179 1128 280 1136 402 1034 431 1134 414 1067 247 1034 382 1118 355 1136 239 1073 83 1189 178 1096 330 1104 293 1043 333 1085 57 1094 324 1086 169 1070 470 1152 211 1035 173 1101 309 1082 414 1064 235 1032 283 1119 102 1212 117 1125 379 1095 422 1122 487 1145 387 1092 420 1043 159 1113 329 1051 235 1099 376 1124 396 1154 284 1159 258 1118 113 1148 229 1193 292 1082 56 1125 380 1113 424 1094 258 1111 430 1037 185 1141 404 978 353 1172 185 1164 239 1095 414 1035 316 1033 387 1034 277 1155 180 1009 240 1043 272 1150 166 1116 273 1045 155 1087 308 1027 20 1145 461 1095 455 1053 117 1074 238 1079 275 1053 330 1121 323 1141 250 1142 403 1104 136 1058 407 1089 259 1103 357 1081 357 1097 467 1125 391 993 215 1090 354 1110 162 1133 304 1099 306 1097 261 1077 127 1101 328 1067 185 1018 221 1080 228 1142 203 1092 211 1111 143 1130 326 1132 119 988 433 1163 355 1175 442 1089 219 1039 69 1100 429 1063 183 1173 257 1183 380 1107 313 1055 316 1065 331 1041 225 1062 19 1179 416 1101 213 1061 349 1138 183 1050 157 1138 320 1121 267 1079 234 1091 207 1148 172 1123 286 1178 81 1147 389 1125 307 971 120 1127 478 1113 445 1180 290 1160 354 1076 243 1094 302 1081 159 1009 264 1060 226 1105 346 1002 354 1047 279 1095 267 1084 265 940 376 877 422 1086 228 1058 205 1102 256 1084 210 1151 209 980 205 1082 151 1202 205 1043 351 1052 368 1197 203 996 101 880 140 1014 102 1006 259 1034 141 1048 417 920 406 984 240 1072 307 996 29 920 278 1038 329 1047 200 898 86 1114 351 1175 211 1214 109 952 143 1165 200 961 253 880 113 1012 439 983 122 1107 133 1000 39 1217 98 926 311 958 242 1107 262 1125 360 1250 117 1069 218 1135 149 975 236 1197 79 935 414 1009 197 1057 218 953 314 1129 201 932 136 1076 293 1122 171 1069 227 1011 166 1023 141 1000 25 1120 303 981 332 1024 237 1164 266 1085 106 1032 231 1210 68 1062 149 1168 182 1132 417 923 272 950 377 1036 329 1109 321 1081 45 1068 317 992 221 1004 294 1079 81 914 164 974 284 1216 223 950 157 1037 232 874 153 1034 394 1048 147 1119 220 884 234 1145 230 1075 136 1160 249 945 362 1087 176 1262 27 1092 55 1022 284 1019 154 1037 162 840 223 1029 112 1027 183 918 66 1181 225 1110 442 1112 242 1082 432 901 327 1142 188 1117 439 1056 377 1150 172 897 168 1003 295 917 467 965 463 1046 367 904 139 1136 387 1192 227 1029 206 981 71 1002 343 1163 344 1115 347 979 135 1154 56 1124 372 1172 243 984 219 980 243 1070 282 1061 353 1018 143 1077 275 1006 271 1078 334 1009 209 1057 353 847 264 984 98 998 43 1089 222 893 178 1030 253 1137 266 1092 282 1019 379 1012 145 1020 328 1004 108 1139 74 1095 296 1082 342 1034 288 1037 205 1177 304 1024 162 1089 187 1127 167 1059 333 1126 272 1100 86 1217 151 1068 193 990 210 1187 131 903 143 1053 444 1145 216 951 148 971 138 1026 275 1050 227 1236 172 1066 145 895 211 952 248 1056 368 1135 296 999 318 1188 194 1096 225 1017 271 1140 21 1068 389 1065 79 1065 125 1089 147 1171 309 1049 160 1084 107 1071 342 1188 222 964 256 1113 223 1230 229 1122 271 1101 315 1065 473 1048 370 1105 273 1009 236 1004 193 965 377 991 232 1269 195 1172 277 1123 147 1066 243 1034 382 1025 399 1053 267 915 239 1154 221 1049 134 1094 303 1086 203 890 287 1041 288 1023 223 1110 356 1095 382 1138 375 945 260 1104 119 1122 115 1177 188 917 271 1014 257 1051 280 1117 229 958 74 1156 379 989 331 1071 144 1021 169 910 351 1000 74 1082 185 988 418 940 72 967 300 1062 378 975 115 1051 194 1119 253 1022 81 1062 301 907 143 973 299 1062 438 1091 142 1043 376 997 283 882 307 922 118 915 225 1065 320 1059 169 1099 211 998 267 998 167 1232 68 1026 217 1114 111" fill="none" marker-start="url(#mc)" marker-mid="url(#mc)" marker-end="url(#mc)"/></g></g><text x="286.3" y="225.6" font-family="Liberation Sans, sans-serif" font-size="14" fill="#f0f0f0">Thin</text><text x="286.2" y="239.3" font-family="Liberation Sans, sans-serif" font-size="14.6" fill="#f0f0f0">disk</text><path d="M55.5 5.5H319.5V248.5H55.5Z" fill="none" stroke="#383838" stroke-width="1"/><path d="M72.5 248V245M121.5 248V245M171.5 248V245M220.5 248V245M270.5 248V245M319.5 248V245M56 199.5H58.5M56 151.5H58.5M56 102.5H58.5M56 54.5H58.5" stroke="#383838" stroke-width="1"/><text x="72.00" y="263" text-anchor="middle" font-family="Liberation Sans, sans-serif" font-size="14" fill="#262626">450</text><text x="60.62" y="263" text-anchor="end" font-family="Liberation Sans, sans-serif" font-size="14" fill="#262626">–</text><text x="121.40" y="263" text-anchor="middle" font-family="Liberation Sans, sans-serif" font-size="14" fill="#262626">300</text><text x="110.02" y="263" text-anchor="end" font-family="Liberation Sans, sans-serif" font-size="14" fill="#262626">–</text><text x="170.80" y="263" text-anchor="middle" font-family="Liberation Sans, sans-serif" font-size="14" fill="#262626">150</text><text x="159.42" y="263" text-anchor="end" font-family="Liberation Sans, sans-serif" font-size="14" fill="#262626">–</text><text x="220.20" y="263" text-anchor="middle" font-family="Liberation Sans, sans-serif" font-size="14" fill="#262626">0</text><text x="269.60" y="263" text-anchor="middle" font-family="Liberation Sans, sans-serif" font-size="14" fill="#262626">150</text><text x="319.00" y="263" text-anchor="middle" font-family="Liberation Sans, sans-serif" font-size="14" fill="#262626">300</text><text x="52.55" y="253.80" text-anchor="end" font-family="Liberation Sans, sans-serif" font-size="14" fill="#262626">0</text><text x="52.55" y="205.20" text-anchor="end" font-family="Liberation Sans, sans-serif" font-size="14" fill="#262626">100</text><text x="52.55" y="156.60" text-anchor="end" font-family="Liberation Sans, sans-serif" font-size="14" fill="#262626">200</text><text x="52.55" y="108.00" text-anchor="end" font-family="Liberation Sans, sans-serif" font-size="14" fill="#262626">300</text><text x="52.55" y="59.40" text-anchor="end" font-family="Liberation Sans, sans-serif" font-size="14" fill="#262626">400</text><text x="52.55" y="10.80" text-anchor="end" font-family="Liberation Sans, sans-serif" font-size="14" fill="#262626">500</text><path d="M410.5 5.5H674.5V248.5H410.5Z" fill="none" stroke="#383838" stroke-width="1"/><path d="M427.5 248V245M476.5 248V245M526.5 248V245M575.5 248V245M625.5 248V245M674.5 248V245M411 199.5H413.5M411 151.5H413.5M411 102.5H413.5M411 54.5H413.5" stroke="#383838" stroke-width="1"/><text x="427.00" y="263" text-anchor="middle" font-family="Liberation Sans, sans-serif" font-size="14" fill="#262626">450</text><text x="415.62" y="263" text-anchor="end" font-family="Liberation Sans, sans-serif" font-size="14" fill="#262626">–</text><text x="476.40" y="263" text-anchor="middle" font-family="Liberation Sans, sans-serif" font-size="14" fill="#262626">300</text><text x="465.02" y="263" text-anchor="end" font-family="Liberation Sans, sans-serif" font-size="14" fill="#262626">–</text><text x="525.80" y="263" text-anchor="middle" font-family="Liberation Sans, sans-serif" font-size="14" fill="#262626">150</text><text x="514.42" y="263" text-anchor="end" font-family="Liberation Sans, sans-serif" font-size="14" fill="#262626">–</text><text x="575.20" y="263" text-anchor="middle" font-family="Liberation Sans, sans-serif" font-size="14" fill="#262626">0</text><text x="624.60" y="263" text-anchor="middle" font-family="Liberation Sans, sans-serif" font-size="14" fill="#262626">150</text><text x="674.00" y="263" text-anchor="middle" font-family="Liberation Sans, sans-serif" font-size="14" fill="#262626">300</text><text x="407.55" y="253.80" text-anchor="end" font-family="Liberation Sans, sans-serif" font-size="14" fill="#262626">0</text><text x="407.55" y="205.20" text-anchor="end" font-family="Liberation Sans, sans-serif" font-size="14" fill="#262626">100</text><text x="407.55" y="156.60" text-anchor="end" font-family="Liberation Sans, sans-serif" font-size="14" fill="#262626">200</text><text x="407.55" y="108.00" text-anchor="end" font-family="Liberation Sans, sans-serif" font-size="14" fill="#262626">300</text><text x="407.55" y="59.40" text-anchor="end" font-family="Liberation Sans, sans-serif" font-size="14" fill="#262626">400</text><text x="407.55" y="10.80" text-anchor="end" font-family="Liberation Sans, sans-serif" font-size="14" fill="#262626">500</text><text x="65.43" y="23.50" font-family="Liberation Sans, sans-serif" font-size="16" font-weight="bold" fill="#111">a</text><text x="420.41" y="23.20" font-family="Liberation Sans, sans-serif" font-size="16.5" font-weight="bold" fill="#111">b</text><text x="155.39" y="282.30" font-family="Liberation Sans, sans-serif" font-size="14" font-style="italic" fill="#262626">V</text><text x="163.39" y="287.20" font-family="Liberation Sans, sans-serif" font-size="10.5" font-style="italic" fill="#262626">y</text><text x="172.23" y="282.30" font-family="Liberation Sans, sans-serif" font-size="14" fill="#262626">(km s</text><text x="206.61" y="277.30" font-family="Liberation Sans, sans-serif" font-size="10" fill="#262626">−</text><text x="212.64" y="277.30" font-family="Liberation Sans, sans-serif" font-size="10" fill="#262626">1</text><text x="216.82" y="282.30" font-family="Liberation Sans, sans-serif" font-size="14" fill="#262626">)</text><text x="486.26" y="280.30" font-family="Liberation Sans, sans-serif" font-size="14" fill="#262626">Scaled</text><text x="533.29" y="280.30" font-family="Liberation Sans, sans-serif" font-size="14" font-style="italic" fill="#262626">V</text><text x="542.29" y="285.20" font-family="Liberation Sans, sans-serif" font-size="10.5" font-style="italic" fill="#262626">y</text><text x="551.13" y="280.30" font-family="Liberation Sans, sans-serif" font-size="14" fill="#262626">(km s</text><text x="585.11" y="275.30" font-family="Liberation Sans, sans-serif" font-size="10" fill="#262626">−</text><text x="590.74" y="275.30" font-family="Liberation Sans, sans-serif" font-size="10" fill="#262626">1</text><text x="595.62" y="280.30" font-family="Liberation Sans, sans-serif" font-size="14" fill="#262626">)</text><g transform="translate(16.4,186) rotate(-90)"><path d="M0.1 -5.2L3.9 1.4L7.6 -15.2H63.3" fill="none" stroke="#262626" stroke-width="1.2" stroke-linejoin="miter"/><text x="7.75" y="0.00" font-family="Liberation Sans, sans-serif" font-size="14.5" font-style="italic" fill="#262626">V</text><text x="18.12" y="4.30" font-family="Liberation Sans, sans-serif" font-size="10.5" font-style="italic" fill="#262626">x</text><text x="21.47" y="-4.70" font-family="Liberation Sans, sans-serif" font-size="10.5" fill="#262626">2</text><text x="31.29" y="0.00" font-family="Liberation Sans, sans-serif" font-size="14.5" fill="#262626">+</text><text x="43.45" y="0.00" font-family="Liberation Sans, sans-serif" font-size="14.5" font-style="italic" fill="#262626">V</text><text x="52.46" y="4.30" font-family="Liberation Sans, sans-serif" font-size="10.5" font-style="italic" fill="#262626">z</text><text x="56.57" y="-4.70" font-family="Liberation Sans, sans-serif" font-size="10.5" fill="#262626">2</text><text x="66.90" y="0.00" font-family="Liberation Sans, sans-serif" font-size="14.5" fill="#262626">(km s</text><text x="100.91" y="-5.20" font-family="Liberation Sans, sans-serif" font-size="10" fill="#262626">−</text><text x="106.34" y="-5.20" font-family="Liberation Sans, sans-serif" font-size="10" fill="#262626">1</text><text x="111.42" y="0.00" font-family="Liberation Sans, sans-serif" font-size="14.5" fill="#262626">)</text></g><g transform="translate(367.6,208.5) rotate(-90)"><text x="0.00" y="0.00" font-family="Liberation Sans, sans-serif" font-size="14.5" fill="#262626">Scaled</text><path d="M47.4 -5.2L51.199999999999996 1.4L54.9 -15.2H110.6" fill="none" stroke="#262626" stroke-width="1.2" stroke-linejoin="miter"/><text x="55.05" y="0.00" font-family="Liberation Sans, sans-serif" font-size="14.5" font-style="italic" fill="#262626">V</text><text x="65.42" y="4.30" font-family="Liberation Sans, sans-serif" font-size="10.5" font-style="italic" fill="#262626">x</text><text x="68.77" y="-4.70" font-family="Liberation Sans, sans-serif" font-size="10.5" fill="#262626">2</text><text x="78.59" y="0.00" font-family="Liberation Sans, sans-serif" font-size="14.5" fill="#262626">+</text><text x="90.75" y="0.00" font-family="Liberation Sans, sans-serif" font-size="14.5" font-style="italic" fill="#262626">V</text><text x="99.76" y="4.30" font-family="Liberation Sans, sans-serif" font-size="10.5" font-style="italic" fill="#262626">z</text><text x="103.87" y="-4.70" font-family="Liberation Sans, sans-serif" font-size="10.5" fill="#262626">2</text><text x="114.20" y="0.00" font-family="Liberation Sans, sans-serif" font-size="14.5" fill="#262626">(km s</text><text x="148.21" y="-5.20" font-family="Liberation Sans, sans-serif" font-size="10" fill="#262626">−</text><text x="153.64" y="-5.20" font-family="Liberation Sans, sans-serif" font-size="10" fill="#262626">1</text><text x="158.72" y="0.00" font-family="Liberation Sans, sans-serif" font-size="14.5" fill="#262626">)</text></g>
</svg></body></html>
